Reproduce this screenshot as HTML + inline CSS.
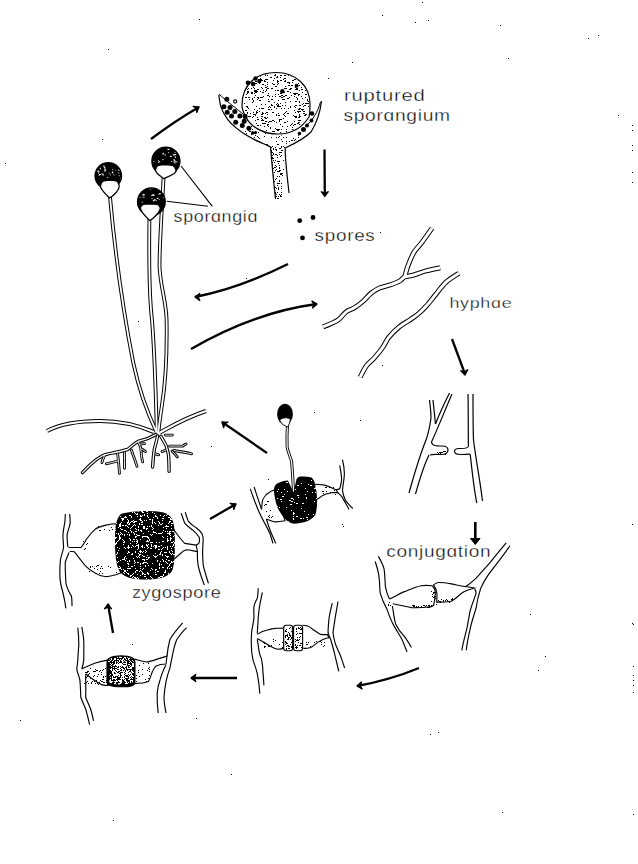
<!DOCTYPE html>
<html><head><meta charset="utf-8"><style>
html,body{margin:0;padding:0;background:#fff;}
svg{display:block;}
text{font-family:"Liberation Sans", sans-serif;}
</style></head><body>
<svg width="638" height="864" viewBox="0 0 638 864">
<rect width="638" height="864" fill="#fff"/>
<path d="M151,139 Q175,121 199,107" fill="none" stroke="#000" stroke-width="2.3" stroke-linecap="butt"/><path d="M199.0,107.0 L196.7,112.8 L196.3,108.6 L192.8,106.3 Z" fill="#000" stroke="#000" stroke-width="1.2" stroke-linejoin="miter"/>
<path d="M324.5,149.5 L324.8,196" fill="none" stroke="#000" stroke-width="2.3" stroke-linecap="butt"/><path d="M324.8,196.5 L321.0,191.5 L324.8,193.3 L328.5,191.5 Z" fill="#000" stroke="#000" stroke-width="1.2" stroke-linejoin="miter"/>
<path d="M288,264 Q240,288 195,297" fill="none" stroke="#000" stroke-width="2.3" stroke-linecap="butt"/><path d="M195.0,297.0 L200.0,293.2 L198.2,297.0 L200.0,300.8 Z" fill="#000" stroke="#000" stroke-width="1.2" stroke-linejoin="miter"/>
<path d="M191,349 Q255,312 317,304" fill="none" stroke="#000" stroke-width="2.3" stroke-linecap="butt"/><path d="M317.0,304.0 L312.4,308.2 L313.8,304.3 L311.7,300.7 Z" fill="#000" stroke="#000" stroke-width="1.2" stroke-linejoin="miter"/>
<path d="M452,339 L465,374" fill="none" stroke="#000" stroke-width="2.3" stroke-linecap="butt"/><path d="M465.0,375.0 L460.5,370.6 L464.5,371.8 L468.0,369.5 Z" fill="#000" stroke="#000" stroke-width="1.2" stroke-linejoin="miter"/>
<path d="M267,453 L222,422" fill="none" stroke="#000" stroke-width="2.3" stroke-linecap="butt"/><path d="M222.0,422.0 L228.3,422.0 L224.6,423.9 L223.7,428.0 Z" fill="#000" stroke="#000" stroke-width="1.2" stroke-linejoin="miter"/>
<path d="M210,519 L236,504" fill="none" stroke="#000" stroke-width="2.3" stroke-linecap="butt"/><path d="M236.0,504.0 L233.7,509.8 L233.3,505.6 L229.8,503.3 Z" fill="#000" stroke="#000" stroke-width="1.2" stroke-linejoin="miter"/>
<path d="M475.3,522 L475.3,540" stroke="#000" stroke-width="2.6"/><path d="M470.5,538.5 L480,538.5 L475.3,544.5 Z" fill="#000" stroke="#000" stroke-width="1"/>
<path d="M419,668 Q390,680 357,686" fill="none" stroke="#000" stroke-width="2.3" stroke-linecap="butt"/><path d="M357.0,686.0 L361.6,681.7 L360.2,685.7 L362.4,689.3 Z" fill="#000" stroke="#000" stroke-width="1.2" stroke-linejoin="miter"/>
<path d="M237,678 L191,678" fill="none" stroke="#000" stroke-width="2.3" stroke-linecap="butt"/><path d="M191.0,678.0 L196.0,674.2 L194.2,678.0 L196.0,681.8 Z" fill="#000" stroke="#000" stroke-width="1.2" stroke-linejoin="miter"/>
<path d="M113,633 L108,604" fill="none" stroke="#000" stroke-width="2.3" stroke-linecap="butt"/><path d="M108.0,604.0 L111.8,609.0 L108.0,607.2 L104.2,609.0 Z" fill="#000" stroke="#000" stroke-width="1.2" stroke-linejoin="miter"/>
<defs><clipPath id="ballclip"><ellipse cx="276" cy="103.5" rx="33.5" ry="30.5"/></clipPath><clipPath id="stalkclip"><path d="M270.5,146 C272,165 274,185 275.5,199 L288,199 C287,178 285,160 285,147 Z"/></clipPath><clipPath id="cupclip"><path d="M219,94 C222,108 230,121 245,134 C255,140 262,144 271,147 L286,148 C296,143 306,137 310,132 C300,136 290,137 278,135 C262,133 252,127 246,118 C240,112 232,106 219,94 Z"/></clipPath></defs>
<path d="M219,94 C221,108 228,121 244,134 C255,140 262,144 271,147 L286,148 C298,142 310,133 316,122 C319,114 321,106 321,101 C317,112 312,120 306,126 C296,134 288,136 278,135 C262,133 252,127 246,118 C240,112 232,106 219,94 Z" fill="#fff"/>
<path d="M218.8,94.9 C219.2,97.0 219.7,103.4 221.2,107.6 C222.7,111.8 225.6,116.6 228,119.9 C230.4,123.2 232.8,125.1 235.6,127.4 C238.3,129.8 241.3,132.0 244.5,134 C247.7,136.0 251.4,138.0 254.5,139.6 C257.6,141.2 260.3,142.3 263,143.5 C265.7,144.7 269.2,146.4 270.5,147 C272,165 274,185 275.5,199" fill="none" stroke="#000" stroke-width="1.2"/>
<path d="M289,193 C287.5,178 285,160 285.2,148 C296,143 306,137 311,132 C316,124 320,114 321.5,101" fill="none" stroke="#000" stroke-width="1.2"/>
<path d="M320.5,102 C318,112 312,121 305,127" fill="none" stroke="#000" stroke-width="1.0"/>
<path d="M219,94 C226,101 236,108 243,114 C246,117 247,119 248,121" fill="none" stroke="#000" stroke-width="1.0"/>
<g clip-path="url(#stalkclip)"><g fill="#000" shape-rendering="crispEdges"><rect x="273" y="154" width="1" height="1"/><rect x="276" y="150" width="1" height="1"/><rect x="275" y="165" width="1" height="1"/><rect x="271" y="173" width="1" height="1"/><rect x="270" y="169" width="1" height="1"/><rect x="271" y="151" width="1" height="1"/><rect x="274" y="190" width="1" height="1"/><rect x="271" y="158" width="1" height="1"/><rect x="276" y="196" width="1" height="1"/><rect x="275" y="167" width="1" height="1"/><rect x="279" y="148" width="1" height="1"/><rect x="278" y="161" width="1" height="1"/><rect x="271" y="152" width="1" height="1"/><rect x="273" y="189" width="1" height="1"/><rect x="272" y="177" width="1" height="1"/><rect x="276" y="166" width="1" height="1"/><rect x="275" y="149" width="1" height="1"/><rect x="271" y="157" width="1" height="1"/><rect x="276" y="169" width="1" height="1"/><rect x="273" y="177" width="1" height="1"/><rect x="274" y="162" width="1" height="1"/><rect x="277" y="183" width="1" height="1"/><rect x="272" y="176" width="1" height="1"/><rect x="275" y="192" width="1" height="1"/><rect x="277" y="161" width="1" height="1"/><rect x="279" y="152" width="1" height="1"/><rect x="274" y="186" width="1" height="1"/><rect x="271" y="172" width="1" height="1"/><rect x="270" y="181" width="1" height="1"/><rect x="277" y="176" width="1" height="1"/><rect x="278" y="163" width="1" height="1"/><rect x="276" y="178" width="1" height="1"/><rect x="275" y="170" width="1" height="1"/><rect x="278" y="196" width="1" height="1"/><rect x="274" y="181" width="1" height="1"/><rect x="271" y="183" width="1" height="1"/><rect x="276" y="199" width="1" height="1"/><rect x="277" y="161" width="1" height="1"/><rect x="273" y="181" width="1" height="1"/><rect x="270" y="170" width="1" height="1"/><rect x="272" y="152" width="1" height="1"/><rect x="271" y="187" width="1" height="1"/><rect x="271" y="159" width="1" height="1"/><rect x="274" y="192" width="1" height="1"/><rect x="271" y="170" width="1" height="1"/><rect x="275" y="193" width="1" height="1"/><rect x="277" y="192" width="1" height="1"/><rect x="273" y="168" width="1" height="1"/><rect x="273" y="193" width="1" height="1"/><rect x="279" y="154" width="1" height="1"/><rect x="272" y="158" width="1" height="1"/><rect x="272" y="172" width="1" height="1"/><rect x="275" y="160" width="1" height="1"/><rect x="270" y="168" width="1" height="1"/><rect x="273" y="176" width="1" height="1"/><rect x="279" y="183" width="1" height="1"/><rect x="275" y="179" width="1" height="1"/><rect x="276" y="149" width="1" height="1"/><rect x="278" y="187" width="1" height="1"/><rect x="278" y="188" width="1" height="1"/><rect x="274" y="167" width="1" height="1"/><rect x="271" y="180" width="1" height="1"/><rect x="271" y="150" width="1" height="1"/><rect x="272" y="155" width="1" height="1"/><rect x="273" y="149" width="1" height="1"/><rect x="270" y="154" width="1" height="1"/><rect x="271" y="165" width="1" height="1"/><rect x="270" y="192" width="1" height="1"/><rect x="276" y="154" width="1" height="1"/><rect x="272" y="164" width="1" height="1"/><rect x="273" y="153" width="1" height="1"/><rect x="278" y="199" width="1" height="1"/><rect x="274" y="172" width="1" height="1"/><rect x="271" y="151" width="1" height="1"/><rect x="273" y="160" width="1" height="1"/><rect x="277" y="155" width="1" height="1"/><rect x="270" y="196" width="1" height="1"/><rect x="275" y="154" width="1" height="1"/><rect x="275" y="147" width="1" height="1"/><rect x="275" y="198" width="1" height="1"/><rect x="278" y="183" width="1" height="1"/><rect x="272" y="165" width="1" height="1"/><rect x="272" y="187" width="1" height="1"/><rect x="275" y="187" width="1" height="1"/><rect x="273" y="158" width="1" height="1"/><rect x="277" y="198" width="1" height="1"/><rect x="278" y="189" width="1" height="1"/><rect x="277" y="185" width="1" height="1"/><rect x="272" y="173" width="1" height="1"/><rect x="273" y="148" width="1" height="1"/><rect x="270" y="161" width="1" height="1"/><rect x="272" y="183" width="1" height="1"/><rect x="279" y="170" width="1" height="1"/><rect x="278" y="198" width="1" height="1"/><rect x="279" y="165" width="1" height="1"/><rect x="272" y="158" width="1" height="1"/><rect x="272" y="157" width="1" height="1"/><rect x="276" y="194" width="1" height="1"/><rect x="278" y="171" width="1" height="1"/><rect x="276" y="188" width="1" height="1"/><rect x="271" y="181" width="1" height="1"/><rect x="278" y="187" width="1" height="1"/><rect x="277" y="171" width="1" height="1"/><rect x="272" y="188" width="1" height="1"/><rect x="273" y="188" width="1" height="1"/><rect x="279" y="167" width="1" height="1"/><rect x="274" y="196" width="1" height="1"/><rect x="277" y="155" width="1" height="1"/><rect x="271" y="154" width="1" height="1"/><rect x="278" y="189" width="1" height="1"/><rect x="271" y="190" width="1" height="1"/><rect x="279" y="181" width="1" height="1"/><rect x="273" y="175" width="1" height="1"/><rect x="271" y="147" width="1" height="1"/><rect x="279" y="180" width="1" height="1"/><rect x="275" y="195" width="1" height="1"/><rect x="274" y="192" width="1" height="1"/><rect x="277" y="157" width="1" height="1"/><rect x="272" y="162" width="1" height="1"/><rect x="272" y="177" width="1" height="1"/></g><g fill="#000" shape-rendering="crispEdges"><rect x="279" y="168" width="1" height="1"/><rect x="279" y="194" width="1" height="1"/><rect x="280" y="170" width="1" height="1"/><rect x="281" y="194" width="1" height="1"/><rect x="280" y="195" width="1" height="1"/><rect x="281" y="174" width="1" height="1"/><rect x="281" y="147" width="1" height="1"/><rect x="280" y="156" width="1" height="1"/><rect x="278" y="188" width="1" height="1"/><rect x="279" y="171" width="1" height="1"/><rect x="282" y="175" width="1" height="1"/><rect x="280" y="173" width="1" height="1"/><rect x="281" y="188" width="1" height="1"/><rect x="279" y="176" width="1" height="1"/><rect x="279" y="161" width="1" height="1"/><rect x="282" y="173" width="1" height="1"/><rect x="281" y="186" width="1" height="1"/><rect x="283" y="169" width="1" height="1"/><rect x="281" y="173" width="1" height="1"/><rect x="281" y="183" width="1" height="1"/><rect x="280" y="174" width="1" height="1"/><rect x="280" y="196" width="1" height="1"/><rect x="281" y="192" width="1" height="1"/><rect x="283" y="160" width="1" height="1"/><rect x="281" y="196" width="1" height="1"/></g><g fill="#000" shape-rendering="crispEdges"><rect x="285" y="147" width="1" height="1"/><rect x="281" y="150" width="1" height="1"/><rect x="280" y="148" width="1" height="1"/><rect x="280" y="152" width="1" height="1"/><rect x="285" y="154" width="1" height="1"/><rect x="281" y="152" width="1" height="1"/><rect x="284" y="147" width="1" height="1"/><rect x="285" y="155" width="1" height="1"/><rect x="281" y="155" width="1" height="1"/><rect x="282" y="150" width="1" height="1"/></g></g>
<g clip-path="url(#cupclip)"><g fill="#000" shape-rendering="crispEdges"><rect x="309" y="144" width="1" height="1"/><rect x="255" y="135" width="1" height="1"/><rect x="279" y="133" width="1" height="1"/><rect x="258" y="132" width="1" height="1"/><rect x="292" y="125" width="1" height="1"/><rect x="281" y="135" width="1" height="1"/><rect x="246" y="133" width="1" height="1"/><rect x="286" y="137" width="1" height="1"/><rect x="249" y="148" width="1" height="1"/><rect x="296" y="147" width="1" height="1"/><rect x="252" y="131" width="1" height="1"/><rect x="248" y="143" width="1" height="1"/><rect x="263" y="128" width="1" height="1"/><rect x="272" y="146" width="1" height="1"/><rect x="298" y="131" width="1" height="1"/><rect x="255" y="146" width="1" height="1"/><rect x="282" y="141" width="1" height="1"/><rect x="251" y="126" width="1" height="1"/><rect x="290" y="135" width="1" height="1"/><rect x="250" y="147" width="1" height="1"/><rect x="286" y="143" width="1" height="1"/><rect x="250" y="145" width="1" height="1"/><rect x="249" y="145" width="1" height="1"/><rect x="274" y="133" width="1" height="1"/><rect x="281" y="146" width="1" height="1"/><rect x="262" y="128" width="1" height="1"/><rect x="279" y="130" width="1" height="1"/><rect x="252" y="129" width="1" height="1"/><rect x="248" y="130" width="1" height="1"/><rect x="265" y="132" width="1" height="1"/><rect x="294" y="132" width="1" height="1"/><rect x="278" y="129" width="1" height="1"/><rect x="268" y="125" width="1" height="1"/><rect x="261" y="125" width="1" height="1"/><rect x="293" y="138" width="1" height="1"/><rect x="257" y="136" width="1" height="1"/><rect x="306" y="127" width="1" height="1"/><rect x="298" y="135" width="1" height="1"/><rect x="277" y="144" width="1" height="1"/><rect x="271" y="137" width="1" height="1"/><rect x="290" y="148" width="1" height="1"/><rect x="267" y="144" width="1" height="1"/><rect x="291" y="140" width="1" height="1"/><rect x="271" y="133" width="1" height="1"/><rect x="249" y="128" width="1" height="1"/><rect x="250" y="142" width="1" height="1"/><rect x="262" y="129" width="1" height="1"/><rect x="250" y="144" width="1" height="1"/><rect x="302" y="140" width="1" height="1"/><rect x="263" y="131" width="1" height="1"/><rect x="264" y="136" width="1" height="1"/><rect x="255" y="135" width="1" height="1"/><rect x="262" y="147" width="1" height="1"/><rect x="308" y="138" width="1" height="1"/><rect x="261" y="147" width="1" height="1"/><rect x="265" y="133" width="1" height="1"/><rect x="245" y="134" width="1" height="1"/><rect x="276" y="137" width="1" height="1"/><rect x="258" y="137" width="1" height="1"/><rect x="245" y="131" width="1" height="1"/><rect x="251" y="134" width="1" height="1"/><rect x="248" y="126" width="1" height="1"/><rect x="265" y="130" width="1" height="1"/><rect x="283" y="137" width="1" height="1"/><rect x="294" y="140" width="1" height="1"/><rect x="292" y="145" width="1" height="1"/><rect x="270" y="133" width="1" height="1"/><rect x="309" y="128" width="1" height="1"/><rect x="292" y="140" width="1" height="1"/><rect x="248" y="144" width="1" height="1"/><rect x="303" y="139" width="1" height="1"/><rect x="293" y="144" width="1" height="1"/><rect x="254" y="137" width="1" height="1"/><rect x="278" y="144" width="1" height="1"/><rect x="297" y="144" width="1" height="1"/><rect x="283" y="146" width="1" height="1"/><rect x="289" y="141" width="1" height="1"/><rect x="260" y="126" width="1" height="1"/><rect x="254" y="133" width="1" height="1"/><rect x="252" y="144" width="1" height="1"/><rect x="281" y="139" width="1" height="1"/><rect x="286" y="141" width="1" height="1"/><rect x="277" y="125" width="1" height="1"/><rect x="297" y="142" width="1" height="1"/><rect x="278" y="137" width="1" height="1"/><rect x="288" y="127" width="1" height="1"/><rect x="293" y="131" width="1" height="1"/><rect x="250" y="131" width="1" height="1"/><rect x="292" y="130" width="1" height="1"/><rect x="293" y="147" width="1" height="1"/><rect x="277" y="134" width="1" height="1"/><rect x="276" y="141" width="1" height="1"/><rect x="295" y="139" width="1" height="1"/><rect x="287" y="127" width="1" height="1"/><rect x="255" y="131" width="1" height="1"/><rect x="293" y="132" width="1" height="1"/><rect x="282" y="125" width="1" height="1"/><rect x="249" y="131" width="1" height="1"/><rect x="289" y="141" width="1" height="1"/><rect x="289" y="132" width="1" height="1"/><rect x="279" y="136" width="1" height="1"/><rect x="275" y="128" width="1" height="1"/><rect x="303" y="130" width="1" height="1"/><rect x="309" y="147" width="1" height="1"/><rect x="246" y="136" width="1" height="1"/><rect x="298" y="147" width="1" height="1"/><rect x="274" y="131" width="1" height="1"/><rect x="259" y="147" width="1" height="1"/><rect x="259" y="138" width="1" height="1"/><rect x="254" y="137" width="1" height="1"/><rect x="307" y="128" width="1" height="1"/><rect x="298" y="137" width="1" height="1"/><rect x="303" y="141" width="1" height="1"/><rect x="260" y="146" width="1" height="1"/><rect x="277" y="126" width="1" height="1"/><rect x="245" y="136" width="1" height="1"/><rect x="274" y="132" width="1" height="1"/><rect x="254" y="133" width="1" height="1"/><rect x="266" y="144" width="1" height="1"/><rect x="245" y="142" width="1" height="1"/></g></g>
<path d="M242,105 C242,85 256,72.5 276,72.5 C296,72.5 310,86 310,104 C310,112 309.5,115 309,117 C302,128 292,134 278,134 C262,134 250,126 246,117 C243,112 242,108 242,105 Z" fill="#fff" stroke="#000" stroke-width="1.2"/>
<g clip-path="url(#ballclip)"><g fill="#000" shape-rendering="crispEdges"><rect x="305" y="85" width="2" height="1"/><rect x="263" y="96" width="1" height="1"/><rect x="309" y="109" width="2" height="1"/><rect x="293" y="125" width="1" height="1"/><rect x="247" y="113" width="1" height="1"/><rect x="307" y="100" width="1" height="1"/><rect x="294" y="121" width="1" height="1"/><rect x="297" y="111" width="2" height="1"/><rect x="249" y="130" width="1" height="1"/><rect x="284" y="81" width="2" height="1"/><rect x="247" y="130" width="1" height="1"/><rect x="275" y="94" width="1" height="1"/><rect x="292" y="133" width="1" height="1"/><rect x="287" y="91" width="1" height="1"/><rect x="255" y="83" width="2" height="1"/><rect x="303" y="103" width="1" height="1"/><rect x="303" y="134" width="1" height="1"/><rect x="253" y="85" width="2" height="1"/><rect x="266" y="79" width="1" height="1"/><rect x="261" y="108" width="1" height="1"/><rect x="301" y="96" width="1" height="1"/><rect x="262" y="119" width="1" height="1"/><rect x="281" y="95" width="2" height="1"/><rect x="262" y="88" width="1" height="1"/><rect x="273" y="131" width="2" height="1"/><rect x="246" y="116" width="1" height="1"/><rect x="276" y="77" width="2" height="1"/><rect x="260" y="80" width="2" height="1"/><rect x="278" y="115" width="1" height="1"/><rect x="280" y="75" width="2" height="1"/><rect x="281" y="75" width="1" height="1"/><rect x="285" y="105" width="1" height="1"/><rect x="294" y="79" width="2" height="1"/><rect x="305" y="85" width="1" height="1"/><rect x="295" y="73" width="1" height="1"/><rect x="262" y="92" width="1" height="1"/><rect x="278" y="106" width="1" height="1"/><rect x="290" y="92" width="1" height="1"/><rect x="276" y="114" width="1" height="1"/><rect x="261" y="114" width="2" height="1"/><rect x="276" y="115" width="1" height="1"/><rect x="288" y="85" width="2" height="1"/><rect x="299" y="77" width="1" height="1"/><rect x="264" y="123" width="2" height="1"/><rect x="258" y="119" width="1" height="1"/><rect x="306" y="103" width="1" height="1"/><rect x="276" y="129" width="1" height="1"/><rect x="254" y="97" width="1" height="1"/><rect x="307" y="82" width="1" height="1"/><rect x="248" y="97" width="1" height="1"/><rect x="251" y="78" width="1" height="1"/><rect x="256" y="113" width="1" height="1"/><rect x="264" y="117" width="2" height="1"/><rect x="273" y="80" width="1" height="1"/><rect x="249" y="99" width="1" height="1"/><rect x="307" y="86" width="1" height="1"/><rect x="297" y="99" width="1" height="1"/><rect x="275" y="96" width="1" height="1"/><rect x="265" y="118" width="2" height="1"/><rect x="285" y="88" width="2" height="1"/><rect x="268" y="101" width="2" height="1"/><rect x="257" y="77" width="1" height="1"/><rect x="262" y="131" width="1" height="1"/><rect x="293" y="115" width="1" height="1"/><rect x="244" y="119" width="1" height="1"/><rect x="298" y="80" width="1" height="1"/><rect x="295" y="129" width="2" height="1"/><rect x="304" y="84" width="2" height="1"/><rect x="294" y="110" width="1" height="1"/><rect x="274" y="121" width="1" height="1"/><rect x="257" y="119" width="1" height="1"/><rect x="248" y="75" width="1" height="1"/><rect x="308" y="127" width="1" height="1"/><rect x="285" y="86" width="1" height="1"/><rect x="308" y="132" width="2" height="1"/><rect x="253" y="101" width="1" height="1"/><rect x="279" y="120" width="1" height="1"/><rect x="263" y="108" width="1" height="1"/><rect x="292" y="85" width="1" height="1"/><rect x="260" y="82" width="1" height="1"/><rect x="248" y="88" width="1" height="1"/><rect x="278" y="113" width="1" height="1"/><rect x="274" y="75" width="1" height="1"/><rect x="301" y="87" width="1" height="1"/><rect x="247" y="91" width="2" height="1"/><rect x="256" y="132" width="1" height="1"/><rect x="268" y="126" width="1" height="1"/><rect x="261" y="120" width="2" height="1"/><rect x="285" y="116" width="1" height="1"/><rect x="246" y="94" width="1" height="1"/><rect x="309" y="75" width="1" height="1"/><rect x="297" y="98" width="1" height="1"/><rect x="284" y="78" width="1" height="1"/><rect x="280" y="77" width="1" height="1"/><rect x="287" y="82" width="1" height="1"/><rect x="255" y="115" width="1" height="1"/><rect x="287" y="98" width="2" height="1"/><rect x="292" y="127" width="1" height="1"/><rect x="245" y="120" width="2" height="1"/><rect x="257" y="117" width="1" height="1"/><rect x="272" y="83" width="1" height="1"/><rect x="270" y="127" width="1" height="1"/><rect x="252" y="76" width="2" height="1"/><rect x="296" y="97" width="1" height="1"/><rect x="277" y="82" width="1" height="1"/><rect x="278" y="129" width="1" height="1"/><rect x="276" y="122" width="1" height="1"/><rect x="252" y="131" width="1" height="1"/><rect x="247" y="129" width="2" height="1"/><rect x="303" y="111" width="2" height="1"/><rect x="295" y="87" width="1" height="1"/><rect x="299" y="124" width="2" height="1"/><rect x="258" y="97" width="1" height="1"/><rect x="267" y="82" width="1" height="1"/><rect x="301" y="124" width="1" height="1"/><rect x="298" y="80" width="1" height="1"/><rect x="299" y="120" width="2" height="1"/><rect x="282" y="99" width="2" height="1"/><rect x="277" y="84" width="1" height="1"/><rect x="308" y="101" width="1" height="1"/><rect x="295" y="101" width="2" height="1"/><rect x="270" y="77" width="1" height="1"/><rect x="268" y="122" width="1" height="1"/><rect x="285" y="78" width="1" height="1"/><rect x="277" y="76" width="1" height="1"/><rect x="306" y="81" width="2" height="1"/><rect x="292" y="123" width="1" height="1"/><rect x="308" y="103" width="1" height="1"/><rect x="295" y="130" width="1" height="1"/><rect x="284" y="88" width="1" height="1"/><rect x="262" y="123" width="1" height="1"/><rect x="277" y="129" width="1" height="1"/><rect x="261" y="104" width="1" height="1"/><rect x="246" y="84" width="1" height="1"/><rect x="305" y="114" width="1" height="1"/><rect x="295" y="89" width="2" height="1"/><rect x="300" y="132" width="1" height="1"/><rect x="278" y="115" width="2" height="1"/><rect x="309" y="111" width="1" height="1"/><rect x="296" y="89" width="2" height="1"/><rect x="254" y="93" width="1" height="1"/><rect x="259" y="111" width="1" height="1"/><rect x="297" y="88" width="1" height="1"/><rect x="244" y="75" width="1" height="1"/><rect x="284" y="99" width="1" height="1"/><rect x="253" y="87" width="1" height="1"/><rect x="248" y="108" width="1" height="1"/><rect x="278" y="106" width="1" height="1"/><rect x="264" y="81" width="2" height="1"/><rect x="298" y="83" width="1" height="1"/><rect x="290" y="101" width="1" height="1"/><rect x="253" y="114" width="1" height="1"/><rect x="297" y="132" width="1" height="1"/><rect x="297" y="127" width="1" height="1"/><rect x="305" y="118" width="2" height="1"/><rect x="303" y="76" width="1" height="1"/><rect x="256" y="83" width="1" height="1"/><rect x="284" y="113" width="1" height="1"/><rect x="271" y="105" width="1" height="1"/><rect x="255" y="92" width="2" height="1"/><rect x="247" y="127" width="1" height="1"/><rect x="279" y="96" width="2" height="1"/><rect x="303" y="78" width="2" height="1"/><rect x="259" y="79" width="2" height="1"/><rect x="247" y="93" width="1" height="1"/><rect x="247" y="112" width="1" height="1"/><rect x="295" y="105" width="2" height="1"/><rect x="286" y="132" width="1" height="1"/><rect x="301" y="74" width="1" height="1"/><rect x="299" y="85" width="1" height="1"/><rect x="303" y="85" width="1" height="1"/><rect x="283" y="96" width="2" height="1"/><rect x="299" y="116" width="2" height="1"/><rect x="306" y="87" width="1" height="1"/><rect x="269" y="109" width="1" height="1"/><rect x="246" y="80" width="1" height="1"/><rect x="308" y="116" width="1" height="1"/><rect x="253" y="112" width="1" height="1"/><rect x="248" y="76" width="1" height="1"/><rect x="297" y="123" width="1" height="1"/><rect x="305" y="80" width="1" height="1"/><rect x="251" y="75" width="1" height="1"/><rect x="285" y="102" width="1" height="1"/><rect x="295" y="112" width="1" height="1"/><rect x="266" y="89" width="1" height="1"/><rect x="304" y="76" width="1" height="1"/><rect x="294" y="110" width="1" height="1"/><rect x="284" y="75" width="2" height="1"/><rect x="272" y="120" width="2" height="1"/><rect x="290" y="106" width="1" height="1"/><rect x="300" y="79" width="1" height="1"/><rect x="272" y="105" width="1" height="1"/><rect x="244" y="103" width="1" height="1"/><rect x="296" y="84" width="2" height="1"/><rect x="267" y="124" width="2" height="1"/><rect x="305" y="90" width="1" height="1"/><rect x="259" y="83" width="1" height="1"/><rect x="295" y="116" width="1" height="1"/><rect x="265" y="79" width="1" height="1"/><rect x="250" y="127" width="2" height="1"/><rect x="257" y="89" width="1" height="1"/><rect x="308" y="111" width="1" height="1"/><rect x="279" y="119" width="2" height="1"/><rect x="282" y="105" width="1" height="1"/><rect x="280" y="93" width="2" height="1"/><rect x="289" y="89" width="2" height="1"/><rect x="266" y="112" width="1" height="1"/><rect x="256" y="91" width="1" height="1"/><rect x="254" y="88" width="1" height="1"/><rect x="278" y="83" width="1" height="1"/><rect x="261" y="131" width="1" height="1"/><rect x="307" y="79" width="1" height="1"/><rect x="308" y="121" width="2" height="1"/><rect x="262" y="80" width="1" height="1"/><rect x="257" y="97" width="1" height="1"/><rect x="270" y="121" width="1" height="1"/><rect x="308" y="91" width="1" height="1"/><rect x="261" y="118" width="1" height="1"/><rect x="260" y="125" width="1" height="1"/><rect x="287" y="113" width="2" height="1"/><rect x="256" y="81" width="1" height="1"/><rect x="261" y="116" width="2" height="1"/><rect x="295" y="117" width="2" height="1"/><rect x="299" y="102" width="1" height="1"/><rect x="300" y="105" width="1" height="1"/><rect x="265" y="74" width="1" height="1"/><rect x="246" y="106" width="2" height="1"/><rect x="295" y="130" width="1" height="1"/><rect x="299" y="101" width="1" height="1"/><rect x="275" y="74" width="1" height="1"/><rect x="266" y="118" width="1" height="1"/><rect x="308" y="84" width="2" height="1"/><rect x="308" y="95" width="1" height="1"/><rect x="262" y="97" width="1" height="1"/><rect x="271" y="99" width="1" height="1"/><rect x="261" y="87" width="1" height="1"/><rect x="307" y="134" width="2" height="1"/><rect x="258" y="81" width="2" height="1"/><rect x="257" y="112" width="1" height="1"/><rect x="267" y="112" width="1" height="1"/><rect x="309" y="119" width="2" height="1"/><rect x="267" y="125" width="1" height="1"/><rect x="268" y="88" width="1" height="1"/><rect x="256" y="73" width="2" height="1"/><rect x="260" y="91" width="1" height="1"/><rect x="272" y="112" width="2" height="1"/><rect x="304" y="125" width="1" height="1"/><rect x="298" y="128" width="1" height="1"/><rect x="298" y="112" width="1" height="1"/><rect x="245" y="131" width="1" height="1"/><rect x="284" y="108" width="1" height="1"/><rect x="294" y="94" width="1" height="1"/><rect x="303" y="121" width="1" height="1"/><rect x="302" y="110" width="1" height="1"/><rect x="303" y="106" width="1" height="1"/><rect x="276" y="86" width="1" height="1"/><rect x="299" y="114" width="1" height="1"/><rect x="252" y="99" width="1" height="1"/><rect x="276" y="77" width="1" height="1"/><rect x="290" y="88" width="2" height="1"/><rect x="283" y="118" width="1" height="1"/><rect x="274" y="107" width="1" height="1"/><rect x="268" y="99" width="1" height="1"/><rect x="285" y="112" width="1" height="1"/><rect x="284" y="115" width="1" height="1"/><rect x="277" y="103" width="1" height="1"/><rect x="258" y="98" width="1" height="1"/><rect x="250" y="113" width="1" height="1"/><rect x="295" y="107" width="1" height="1"/><rect x="272" y="99" width="1" height="1"/><rect x="263" y="123" width="1" height="1"/><rect x="277" y="90" width="2" height="1"/><rect x="287" y="121" width="1" height="1"/><rect x="265" y="91" width="1" height="1"/><rect x="270" y="107" width="1" height="1"/><rect x="281" y="97" width="2" height="1"/><rect x="247" y="123" width="1" height="1"/><rect x="294" y="77" width="2" height="1"/><rect x="254" y="114" width="2" height="1"/><rect x="247" y="112" width="1" height="1"/><rect x="287" y="126" width="1" height="1"/><rect x="303" y="113" width="2" height="1"/><rect x="295" y="107" width="1" height="1"/><rect x="256" y="75" width="1" height="1"/><rect x="281" y="108" width="1" height="1"/><rect x="281" y="75" width="1" height="1"/><rect x="281" y="129" width="1" height="1"/><rect x="245" y="97" width="2" height="1"/><rect x="294" y="106" width="1" height="1"/><rect x="275" y="128" width="1" height="1"/><rect x="244" y="115" width="1" height="1"/><rect x="258" y="80" width="1" height="1"/><rect x="262" y="108" width="2" height="1"/><rect x="292" y="129" width="2" height="1"/><rect x="290" y="125" width="1" height="1"/><rect x="285" y="116" width="1" height="1"/><rect x="305" y="88" width="2" height="1"/><rect x="246" y="77" width="1" height="1"/><rect x="264" y="117" width="1" height="1"/><rect x="284" y="92" width="1" height="1"/><rect x="288" y="82" width="2" height="1"/><rect x="306" y="83" width="1" height="1"/><rect x="269" y="121" width="2" height="1"/><rect x="266" y="90" width="1" height="1"/><rect x="291" y="74" width="1" height="1"/><rect x="298" y="109" width="1" height="1"/><rect x="269" y="96" width="1" height="1"/><rect x="262" y="73" width="1" height="1"/><rect x="271" y="109" width="1" height="1"/><rect x="298" y="123" width="1" height="1"/><rect x="307" y="122" width="1" height="1"/><rect x="279" y="106" width="2" height="1"/><rect x="257" y="119" width="2" height="1"/><rect x="283" y="114" width="1" height="1"/><rect x="257" y="89" width="2" height="1"/><rect x="274" y="78" width="1" height="1"/><rect x="259" y="108" width="1" height="1"/><rect x="265" y="104" width="1" height="1"/><rect x="258" y="79" width="1" height="1"/><rect x="282" y="95" width="1" height="1"/><rect x="247" y="134" width="1" height="1"/><rect x="268" y="101" width="1" height="1"/><rect x="265" y="75" width="1" height="1"/><rect x="283" y="79" width="1" height="1"/><rect x="276" y="108" width="1" height="1"/><rect x="272" y="131" width="1" height="1"/><rect x="299" y="94" width="1" height="1"/><rect x="249" y="76" width="1" height="1"/><rect x="274" y="131" width="1" height="1"/><rect x="286" y="129" width="1" height="1"/><rect x="265" y="87" width="1" height="1"/><rect x="277" y="84" width="1" height="1"/><rect x="307" y="133" width="1" height="1"/><rect x="247" y="89" width="1" height="1"/><rect x="303" y="128" width="1" height="1"/><rect x="295" y="116" width="1" height="1"/><rect x="251" y="92" width="2" height="1"/><rect x="288" y="91" width="1" height="1"/><rect x="251" y="93" width="2" height="1"/><rect x="252" y="102" width="1" height="1"/><rect x="259" y="82" width="1" height="1"/><rect x="291" y="85" width="1" height="1"/><rect x="304" y="86" width="1" height="1"/><rect x="253" y="100" width="1" height="1"/><rect x="299" y="111" width="1" height="1"/><rect x="265" y="87" width="2" height="1"/><rect x="268" y="93" width="1" height="1"/><rect x="290" y="107" width="1" height="1"/><rect x="301" y="89" width="1" height="1"/><rect x="254" y="90" width="2" height="1"/><rect x="296" y="89" width="1" height="1"/><rect x="274" y="102" width="1" height="1"/><rect x="248" y="128" width="1" height="1"/><rect x="275" y="90" width="1" height="1"/><rect x="307" y="99" width="1" height="1"/><rect x="304" y="79" width="1" height="1"/><rect x="302" y="77" width="1" height="1"/><rect x="308" y="74" width="1" height="1"/><rect x="253" y="73" width="1" height="1"/><rect x="267" y="75" width="1" height="1"/><rect x="262" y="84" width="2" height="1"/><rect x="294" y="116" width="1" height="1"/><rect x="249" y="78" width="1" height="1"/><rect x="255" y="81" width="2" height="1"/><rect x="264" y="74" width="1" height="1"/><rect x="304" y="105" width="2" height="1"/><rect x="262" y="112" width="1" height="1"/><rect x="245" y="129" width="2" height="1"/><rect x="301" y="89" width="2" height="1"/><rect x="298" y="95" width="1" height="1"/><rect x="268" y="109" width="1" height="1"/><rect x="278" y="100" width="1" height="1"/><rect x="267" y="88" width="1" height="1"/><rect x="300" y="108" width="1" height="1"/><rect x="301" y="131" width="1" height="1"/><rect x="277" y="105" width="2" height="1"/><rect x="260" y="78" width="1" height="1"/><rect x="251" y="88" width="1" height="1"/><rect x="250" y="116" width="1" height="1"/><rect x="245" y="110" width="1" height="1"/><rect x="259" y="100" width="2" height="1"/><rect x="291" y="76" width="1" height="1"/><rect x="276" y="104" width="1" height="1"/><rect x="252" y="98" width="1" height="1"/><rect x="282" y="126" width="1" height="1"/><rect x="281" y="119" width="1" height="1"/><rect x="305" y="97" width="1" height="1"/><rect x="299" y="105" width="2" height="1"/><rect x="294" y="94" width="2" height="1"/><rect x="291" y="124" width="1" height="1"/><rect x="299" y="76" width="1" height="1"/><rect x="305" y="88" width="1" height="1"/><rect x="285" y="95" width="2" height="1"/><rect x="265" y="85" width="1" height="1"/><rect x="253" y="132" width="1" height="1"/><rect x="247" y="133" width="2" height="1"/><rect x="300" y="111" width="1" height="1"/><rect x="279" y="129" width="1" height="1"/><rect x="252" y="74" width="1" height="1"/><rect x="263" y="92" width="1" height="1"/><rect x="248" y="132" width="1" height="1"/><rect x="274" y="106" width="1" height="1"/><rect x="252" y="81" width="1" height="1"/><rect x="282" y="90" width="1" height="1"/><rect x="280" y="124" width="1" height="1"/><rect x="269" y="106" width="1" height="1"/><rect x="302" y="92" width="1" height="1"/><rect x="297" y="75" width="2" height="1"/><rect x="256" y="106" width="1" height="1"/><rect x="304" y="83" width="2" height="1"/><rect x="280" y="103" width="1" height="1"/><rect x="263" y="120" width="1" height="1"/><rect x="248" y="126" width="1" height="1"/><rect x="248" y="97" width="2" height="1"/><rect x="292" y="80" width="2" height="1"/><rect x="292" y="82" width="1" height="1"/><rect x="267" y="114" width="1" height="1"/><rect x="250" y="125" width="1" height="1"/><rect x="295" y="116" width="2" height="1"/><rect x="301" y="73" width="1" height="1"/><rect x="270" y="134" width="1" height="1"/><rect x="299" y="90" width="1" height="1"/><rect x="299" y="115" width="1" height="1"/><rect x="267" y="95" width="1" height="1"/><rect x="265" y="121" width="2" height="1"/><rect x="273" y="84" width="2" height="1"/><rect x="272" y="96" width="1" height="1"/><rect x="297" y="93" width="1" height="1"/><rect x="257" y="99" width="1" height="1"/><rect x="247" y="107" width="1" height="1"/><rect x="304" y="120" width="2" height="1"/><rect x="298" y="117" width="2" height="1"/><rect x="274" y="75" width="2" height="1"/><rect x="306" y="114" width="1" height="1"/><rect x="271" y="104" width="1" height="1"/><rect x="307" y="103" width="1" height="1"/><rect x="302" y="109" width="2" height="1"/><rect x="268" y="95" width="1" height="1"/><rect x="277" y="80" width="1" height="1"/><rect x="266" y="130" width="1" height="1"/><rect x="254" y="91" width="2" height="1"/><rect x="302" y="98" width="1" height="1"/><rect x="281" y="80" width="1" height="1"/><rect x="271" y="121" width="1" height="1"/><rect x="289" y="73" width="1" height="1"/><rect x="299" y="109" width="1" height="1"/><rect x="255" y="120" width="1" height="1"/><rect x="302" y="104" width="1" height="1"/><rect x="257" y="110" width="1" height="1"/><rect x="278" y="104" width="1" height="1"/><rect x="249" y="131" width="1" height="1"/><rect x="284" y="122" width="2" height="1"/><rect x="245" y="120" width="1" height="1"/><rect x="291" y="95" width="1" height="1"/><rect x="261" y="79" width="1" height="1"/><rect x="256" y="111" width="1" height="1"/><rect x="258" y="97" width="1" height="1"/><rect x="248" y="88" width="1" height="1"/><rect x="254" y="109" width="1" height="1"/><rect x="244" y="126" width="1" height="1"/><rect x="271" y="88" width="2" height="1"/><rect x="260" y="97" width="2" height="1"/><rect x="264" y="126" width="1" height="1"/><rect x="296" y="88" width="2" height="1"/><rect x="267" y="84" width="1" height="1"/><rect x="280" y="80" width="1" height="1"/><rect x="270" y="77" width="2" height="1"/><rect x="298" y="94" width="1" height="1"/><rect x="256" y="90" width="1" height="1"/><rect x="246" y="114" width="1" height="1"/><rect x="260" y="81" width="1" height="1"/><rect x="279" y="121" width="1" height="1"/><rect x="298" y="122" width="2" height="1"/><rect x="267" y="117" width="1" height="1"/><rect x="306" y="86" width="2" height="1"/><rect x="257" y="125" width="2" height="1"/><rect x="309" y="109" width="1" height="1"/><rect x="308" y="106" width="2" height="1"/><rect x="277" y="81" width="2" height="1"/><rect x="277" y="106" width="1" height="1"/><rect x="294" y="96" width="1" height="1"/><rect x="245" y="116" width="1" height="1"/><rect x="265" y="113" width="1" height="1"/><rect x="281" y="95" width="1" height="1"/><rect x="248" y="92" width="1" height="1"/><rect x="252" y="117" width="1" height="1"/><rect x="270" y="128" width="1" height="1"/><rect x="255" y="95" width="1" height="1"/><rect x="246" y="116" width="1" height="1"/><rect x="309" y="97" width="2" height="1"/><rect x="263" y="90" width="1" height="1"/><rect x="288" y="98" width="1" height="1"/><rect x="257" y="91" width="1" height="1"/><rect x="247" y="92" width="2" height="1"/><rect x="299" y="108" width="1" height="1"/><rect x="288" y="108" width="1" height="1"/><rect x="298" y="120" width="1" height="1"/><rect x="301" y="109" width="1" height="1"/><rect x="288" y="75" width="1" height="1"/><rect x="295" y="94" width="1" height="1"/><rect x="289" y="97" width="1" height="1"/><rect x="278" y="94" width="1" height="1"/><rect x="304" y="115" width="2" height="1"/><rect x="248" y="116" width="2" height="1"/><rect x="277" y="130" width="2" height="1"/><rect x="294" y="76" width="1" height="1"/><rect x="280" y="132" width="1" height="1"/><rect x="261" y="132" width="1" height="1"/><rect x="267" y="79" width="1" height="1"/><rect x="253" y="116" width="1" height="1"/><rect x="290" y="73" width="2" height="1"/><rect x="305" y="94" width="2" height="1"/><rect x="302" y="82" width="1" height="1"/><rect x="285" y="80" width="1" height="1"/><rect x="288" y="82" width="2" height="1"/><rect x="298" y="80" width="2" height="1"/><rect x="267" y="86" width="1" height="1"/><rect x="264" y="80" width="1" height="1"/><rect x="307" y="83" width="1" height="1"/><rect x="281" y="91" width="2" height="1"/><rect x="245" y="134" width="1" height="1"/><rect x="293" y="93" width="2" height="1"/><rect x="286" y="131" width="1" height="1"/><rect x="295" y="93" width="2" height="1"/><rect x="286" y="111" width="1" height="1"/><rect x="260" y="81" width="1" height="1"/><rect x="294" y="124" width="1" height="1"/><rect x="256" y="112" width="1" height="1"/><rect x="295" y="124" width="1" height="1"/><rect x="256" y="123" width="1" height="1"/><rect x="268" y="107" width="1" height="1"/><rect x="260" y="76" width="1" height="1"/><rect x="305" y="103" width="2" height="1"/><rect x="254" y="91" width="2" height="1"/><rect x="289" y="83" width="1" height="1"/><rect x="307" y="78" width="2" height="1"/><rect x="275" y="86" width="1" height="1"/><rect x="246" y="110" width="1" height="1"/><rect x="262" y="113" width="2" height="1"/><rect x="248" y="74" width="2" height="1"/></g></g>
<g fill="#000"><circle cx="247.9" cy="82.7" r="2.3"/><circle cx="253.1" cy="84.1" r="2.3"/><circle cx="255.5" cy="78.5" r="2.2"/><circle cx="259.2" cy="81.3" r="2.0"/><circle cx="226.8" cy="99.2" r="2.5"/><circle cx="223.9" cy="106.7" r="2.5"/><circle cx="230" cy="107.6" r="2.5"/><circle cx="234.8" cy="111.4" r="2.5"/><circle cx="227.2" cy="112.3" r="2.5"/><circle cx="231.5" cy="116.1" r="2.5"/><circle cx="239.9" cy="116.1" r="2.5"/><circle cx="245.1" cy="116.6" r="2.5"/><circle cx="235.7" cy="122.2" r="2.5"/><circle cx="242.3" cy="125.5" r="2.5"/><circle cx="244.2" cy="121.3" r="2.5"/><circle cx="248.9" cy="128.3" r="2.5"/><circle cx="252.6" cy="133" r="1.7"/><circle cx="255.5" cy="132.6" r="1.6"/><circle cx="282.3" cy="91.2" r="2.2"/><circle cx="296.6" cy="85.7" r="2.0"/><circle cx="312" cy="113.5" r="2.2"/><circle cx="311.5" cy="120.5" r="2.0"/><circle cx="307" cy="125.5" r="2.0"/><circle cx="303.5" cy="129.5" r="2.5"/><circle cx="299.5" cy="133.5" r="1.8"/></g>
<circle cx="235.2" cy="101.5" r="1.6" fill="#fff" stroke="#000" stroke-width="1.1"/>
<path d="M110,197 C113,230 119,290 133.4,363.4 C138,385 147,412 156.5,432" fill="none" stroke="#000" stroke-width="3.8" stroke-linecap="butt"/>
<path d="M149.4,219 C149,250 148.5,290 152,320 C154,345 155.5,380 156.8,432" fill="none" stroke="#000" stroke-width="3.8" stroke-linecap="butt"/>
<path d="M163.5,178 C162,210 159,250 159.6,268 C161,290 166,300 166.6,320 C167,345 166,380 162,405 C160,418 159,425 158.5,432" fill="none" stroke="#000" stroke-width="3.8" stroke-linecap="butt"/>
<path d="M47,431 C60,424 80,421 100,421 C120,421 140,426 154,432" fill="none" stroke="#000" stroke-width="4.2" stroke-linecap="butt"/>
<path d="M160,432.5 C172,426 185,418 206,411" fill="none" stroke="#000" stroke-width="4.2" stroke-linecap="butt"/>
<path d="M156,434.5 C150,438 145,440 138,441.5 C133,444 130,448 127.6,449.5 C122,451 118,452 115,452.5 C110,453.5 106,454 103,455.5 C98,458 94,461 90,465 C87,468 85,470 82.5,472.6" fill="none" stroke="#000" stroke-width="3.4" stroke-linecap="round"/>
<path d="M138.5,442 C140.5,446 141.5,452 141.5,456 C142,459 142.5,461 142.7,462" fill="none" stroke="#000" stroke-width="2.8" stroke-linecap="round"/>
<path d="M131.4,450 C133,455 135,460 137,466.4" fill="none" stroke="#000" stroke-width="2.8" stroke-linecap="round"/>
<path d="M124.5,452.6 C124.5,458 124.5,463 124.5,468.3" fill="none" stroke="#000" stroke-width="2.8" stroke-linecap="round"/>
<path d="M117.6,453.8 C118.5,460 119,467 119.5,473.3" fill="none" stroke="#000" stroke-width="2.8" stroke-linecap="round"/>
<path d="M118,461 C114,462 110,463 106.3,463.9" fill="none" stroke="#000" stroke-width="2.8" stroke-linecap="round"/>
<path d="M104.5,455.5 C103.5,458 102.5,460 101.9,462.6" fill="none" stroke="#000" stroke-width="2.8" stroke-linecap="round"/>
<path d="M140,444 C142,444 143,443.8 144.5,443.6" fill="none" stroke="#000" stroke-width="2.8" stroke-linecap="round"/>
<path d="M141.5,449 C143,450 144.5,451 145.5,451.5" fill="none" stroke="#000" stroke-width="2.8" stroke-linecap="round"/>
<path d="M157.6,436 C156.5,441 155.5,445 154.3,449.4 C153.5,455 153,461 152.6,467" fill="none" stroke="#000" stroke-width="3.4" stroke-linecap="round"/>
<path d="M155.4,453.8 L158.7,454.9" fill="none" stroke="#000" stroke-width="2.8" stroke-linecap="round"/>
<path d="M160.8,436.2 C163,440 165,443 166.3,446.1 C167,449 168,452 168.5,454.9 C169,460 169,466 169.1,471.3" fill="none" stroke="#000" stroke-width="3.4" stroke-linecap="round"/>
<path d="M166,450 L162,451.6" fill="none" stroke="#000" stroke-width="2.8" stroke-linecap="round"/>
<path d="M169.6,446.1 C174,446 178,446 182.8,446.1 C184,445 185,444.5 186.1,443.9" fill="none" stroke="#000" stroke-width="2.8" stroke-linecap="round"/>
<path d="M174,450.5 C180,451.5 186,452.5 191.6,453.8" fill="none" stroke="#000" stroke-width="2.8" stroke-linecap="round"/>
<path d="M165.2,435.1 L172.4,435.1" fill="none" stroke="#000" stroke-width="2.8" stroke-linecap="round"/>
<path d="M172,451 C174,453 176,455 177.3,457" fill="none" stroke="#000" stroke-width="2.8" stroke-linecap="round"/>
<path d="M110,197 C113,230 119,290 133.4,363.4 C138,385 147,412 156.5,432" fill="none" stroke="#fff" stroke-width="1.8" stroke-linecap="butt"/>
<path d="M149.4,219 C149,250 148.5,290 152,320 C154,345 155.5,380 156.8,432" fill="none" stroke="#fff" stroke-width="1.8" stroke-linecap="butt"/>
<path d="M163.5,178 C162,210 159,250 159.6,268 C161,290 166,300 166.6,320 C167,345 166,380 162,405 C160,418 159,425 158.5,432" fill="none" stroke="#fff" stroke-width="1.8" stroke-linecap="butt"/>
<path d="M47,431 C60,424 80,421 100,421 C120,421 140,426 154,432" fill="none" stroke="#fff" stroke-width="2.2" stroke-linecap="butt"/>
<path d="M160,432.5 C172,426 185,418 206,411" fill="none" stroke="#fff" stroke-width="2.2" stroke-linecap="butt"/>
<path d="M156,434.5 C150,438 145,440 138,441.5 C133,444 130,448 127.6,449.5 C122,451 118,452 115,452.5 C110,453.5 106,454 103,455.5 C98,458 94,461 90,465 C87,468 85,470 82.5,472.6" fill="none" stroke="#fff" stroke-width="1.3" stroke-linecap="round"/>
<path d="M138.5,442 C140.5,446 141.5,452 141.5,456 C142,459 142.5,461 142.7,462" fill="none" stroke="#fff" stroke-width="0.9" stroke-linecap="round"/>
<path d="M131.4,450 C133,455 135,460 137,466.4" fill="none" stroke="#fff" stroke-width="0.9" stroke-linecap="round"/>
<path d="M124.5,452.6 C124.5,458 124.5,463 124.5,468.3" fill="none" stroke="#fff" stroke-width="0.9" stroke-linecap="round"/>
<path d="M117.6,453.8 C118.5,460 119,467 119.5,473.3" fill="none" stroke="#fff" stroke-width="0.9" stroke-linecap="round"/>
<path d="M118,461 C114,462 110,463 106.3,463.9" fill="none" stroke="#fff" stroke-width="0.9" stroke-linecap="round"/>
<path d="M104.5,455.5 C103.5,458 102.5,460 101.9,462.6" fill="none" stroke="#fff" stroke-width="0.9" stroke-linecap="round"/>
<path d="M140,444 C142,444 143,443.8 144.5,443.6" fill="none" stroke="#fff" stroke-width="0.9" stroke-linecap="round"/>
<path d="M141.5,449 C143,450 144.5,451 145.5,451.5" fill="none" stroke="#fff" stroke-width="0.9" stroke-linecap="round"/>
<path d="M157.6,436 C156.5,441 155.5,445 154.3,449.4 C153.5,455 153,461 152.6,467" fill="none" stroke="#fff" stroke-width="1.3" stroke-linecap="round"/>
<path d="M155.4,453.8 L158.7,454.9" fill="none" stroke="#fff" stroke-width="0.9" stroke-linecap="round"/>
<path d="M160.8,436.2 C163,440 165,443 166.3,446.1 C167,449 168,452 168.5,454.9 C169,460 169,466 169.1,471.3" fill="none" stroke="#fff" stroke-width="1.3" stroke-linecap="round"/>
<path d="M166,450 L162,451.6" fill="none" stroke="#fff" stroke-width="0.9" stroke-linecap="round"/>
<path d="M169.6,446.1 C174,446 178,446 182.8,446.1 C184,445 185,444.5 186.1,443.9" fill="none" stroke="#fff" stroke-width="0.9" stroke-linecap="round"/>
<path d="M174,450.5 C180,451.5 186,452.5 191.6,453.8" fill="none" stroke="#fff" stroke-width="0.9" stroke-linecap="round"/>
<path d="M165.2,435.1 L172.4,435.1" fill="none" stroke="#fff" stroke-width="0.9" stroke-linecap="round"/>
<path d="M172,451 C174,453 176,455 177.3,457" fill="none" stroke="#fff" stroke-width="0.9" stroke-linecap="round"/>
<defs><clipPath id="spA"><circle cx="108.3" cy="175.8" r="12.4"/></clipPath></defs><circle cx="108.3" cy="175.8" r="13.9" fill="#000"/><path d="M100.5,185.5 C102.0,179.5 105.45,180.5 110.4,180.5 C114.80000000000001,180.5 117.7,179.5 119.2,185.5 C119.7,189.5 113.6,196 109.6,198 C106.6,195 100.0,189.5 100.5,185.5 Z" fill="#fff" stroke="#000" stroke-width="1.2"/><g fill="#fff" clip-path="url(#spA)"><rect x="113.4" y="174.4" width="1.0" height="1.0"/><rect x="101.5" y="172.9" width="1.0" height="1.0"/><rect x="118.1" y="169.5" width="2.0" height="1.2"/><rect x="100.1" y="168.1" width="0.8" height="1.2"/><rect x="103.9" y="167.1" width="1.5" height="1.2"/><rect x="97.3" y="170.5" width="2.0" height="1.2"/><rect x="104.2" y="170.3" width="1.5" height="1.2"/><rect x="109.9" y="174.4" width="1.0" height="0.8"/><rect x="104.7" y="168.3" width="0.8" height="0.8"/><rect x="104.2" y="169.3" width="2.0" height="1.0"/><rect x="99.1" y="174.0" width="2.0" height="1.0"/><rect x="115.4" y="169.9" width="0.8" height="0.8"/><rect x="112.4" y="171.0" width="0.8" height="0.8"/><rect x="102.1" y="174.6" width="2.0" height="0.8"/><rect x="102.7" y="173.8" width="0.8" height="1.2"/><rect x="98.7" y="175.0" width="0.8" height="1.0"/><rect x="103.5" y="165.7" width="1.0" height="1.2"/><rect x="98.3" y="172.5" width="0.8" height="1.2"/><rect x="118.9" y="175.2" width="0.8" height="1.0"/><rect x="112.1" y="168.9" width="1.0" height="0.8"/><rect x="98.1" y="171.6" width="1.0" height="1.0"/><rect x="108.8" y="172.8" width="1.0" height="0.8"/><rect x="107.2" y="176.9" width="1.0" height="1.0"/><rect x="99.8" y="167.7" width="0.8" height="1.2"/><rect x="111.8" y="172.1" width="1.5" height="1.2"/><rect x="103.5" y="165.5" width="0.8" height="0.8"/><rect x="118.4" y="172.4" width="0.8" height="1.2"/><rect x="120.0" y="178.3" width="1.0" height="1.0"/></g>
<defs><clipPath id="spB"><circle cx="165.9" cy="161.1" r="13.2"/></clipPath></defs><circle cx="165.9" cy="161.1" r="14.7" fill="#000"/><path d="M155.5,169.5 C157.0,164 160.2,165 164.9,165 C170.45,165 174.5,164 176,170.5 C176.5,174.5 167.5,176.6 163.5,178.6 C160.5,175.6 155.0,173.5 155.5,169.5 Z" fill="#fff" stroke="#000" stroke-width="1.2"/><g fill="#fff" clip-path="url(#spB)"><rect x="178.9" y="162.9" width="2.0" height="0.8"/><rect x="168.3" y="152.2" width="0.8" height="1.0"/><rect x="172.8" y="154.3" width="1.5" height="1.0"/><rect x="173.6" y="161.8" width="1.0" height="1.0"/><rect x="153.5" y="161.0" width="0.8" height="0.8"/><rect x="162.3" y="153.6" width="2.0" height="0.8"/><rect x="162.8" y="152.8" width="1.0" height="1.2"/><rect x="158.0" y="160.3" width="1.0" height="1.0"/><rect x="173.9" y="154.8" width="0.8" height="0.8"/><rect x="176.0" y="161.5" width="1.5" height="0.8"/><rect x="174.8" y="162.3" width="0.8" height="1.2"/><rect x="159.1" y="161.1" width="1.0" height="1.2"/><rect x="167.5" y="148.8" width="2.0" height="1.2"/><rect x="162.2" y="159.3" width="1.5" height="0.8"/><rect x="174.8" y="151.9" width="0.8" height="1.0"/><rect x="173.4" y="159.3" width="1.5" height="1.2"/><rect x="169.9" y="155.9" width="2.0" height="1.0"/><rect x="157.9" y="162.0" width="1.0" height="0.8"/><rect x="171.0" y="161.0" width="1.0" height="0.8"/><rect x="174.2" y="154.1" width="2.0" height="1.0"/><rect x="175.1" y="156.8" width="1.0" height="1.0"/><rect x="164.6" y="154.6" width="1.5" height="0.8"/><rect x="174.8" y="156.3" width="0.8" height="1.2"/><rect x="173.8" y="160.5" width="2.0" height="1.2"/></g>
<defs><clipPath id="spC"><circle cx="151.4" cy="201.8" r="13.0"/></clipPath></defs><circle cx="151.4" cy="201.8" r="14.5" fill="#000"/><path d="M140.5,207.5 C142.0,203.2 145.1,204.2 149.7,204.2 C154.95,204.2 158.7,203.2 160.2,207.5 C160.7,211.5 153.7,218.5 149.7,220.5 C146.7,217.5 140.0,211.5 140.5,207.5 Z" fill="#fff" stroke="#000" stroke-width="1.2"/><g fill="#fff" clip-path="url(#spC)"><rect x="153.7" y="199.3" width="2.0" height="1.0"/><rect x="156.9" y="197.7" width="1.5" height="1.2"/><rect x="158.3" y="193.9" width="1.0" height="0.8"/><rect x="150.1" y="189.1" width="0.8" height="0.8"/><rect x="141.6" y="196.7" width="0.8" height="0.8"/><rect x="152.8" y="200.2" width="2.0" height="1.0"/><rect x="142.4" y="194.4" width="1.0" height="0.8"/><rect x="159.0" y="193.0" width="0.8" height="1.2"/><rect x="142.7" y="194.3" width="2.0" height="1.0"/><rect x="162.7" y="197.3" width="0.8" height="1.0"/><rect x="139.5" y="196.7" width="0.8" height="1.0"/><rect x="143.0" y="194.5" width="1.5" height="0.8"/><rect x="143.1" y="196.7" width="1.5" height="0.8"/><rect x="151.0" y="195.2" width="2.0" height="0.8"/><rect x="152.6" y="194.6" width="2.0" height="1.2"/><rect x="155.8" y="200.1" width="0.8" height="1.2"/><rect x="152.6" y="194.0" width="1.0" height="1.0"/><rect x="151.6" y="197.9" width="0.8" height="1.2"/><rect x="141.7" y="201.7" width="1.0" height="1.0"/><rect x="158.7" y="198.9" width="1.0" height="0.8"/><rect x="159.7" y="193.0" width="1.0" height="1.2"/></g>
<path d="M181,166 L212.3,206.3 M166.8,201.3 L208,206.3" fill="none" stroke="#000" stroke-width="1.1"/>
<path d="M323.1,326.9 C324.3,326.4 327.6,325.1 330.2,323.9 C332.8,322.7 335.7,321.9 338.4,319.8 C341.1,317.8 343.8,313.6 346.5,311.6 C349.2,309.6 352.0,309.3 354.7,307.6 C357.4,305.9 360.1,303.9 362.8,301.5 C365.5,299.1 368.3,295.5 371,293.3 C373.7,291.1 376.1,289.6 379.1,288.2 C382.2,286.8 385.9,286.4 389.3,285.2 C392.7,284.0 396.9,282.5 399.5,281.1 C402.1,279.7 402.2,278.0 404.6,277 C407.0,276.0 410.2,276.0 413.8,275 C417.4,274.0 421.6,272.1 426,270.9 C430.4,269.7 437.8,268.3 440.2,267.8" fill="none" stroke="#000" stroke-width="5.0"/>
<path d="M404.6,277.5 C405.1,275.7 406.1,270.9 407.6,266.8 C409.1,262.7 411.4,256.7 413.8,252.6 C416.2,248.5 418.8,246.5 421.9,242.4 C424.9,238.3 430.4,230.5 432.1,228.1" fill="none" stroke="#000" stroke-width="5.0"/>
<path d="M360.2,377.2 C361.2,375.3 363.9,369.2 366.3,366 C368.7,362.8 371.7,360.9 374.4,357.8 C377.1,354.7 380.2,351.0 382.6,347.6 C385.0,344.2 386.0,340.8 388.7,337.4 C391.4,334.0 395.2,330.2 398.9,327.2 C402.6,324.1 407.7,321.5 411.1,319.1 C414.5,316.7 416.6,315.4 419.3,313 C422.0,310.6 424.7,307.9 427.4,304.8 C430.1,301.7 432.5,298.3 435.6,294.6 C438.7,290.9 441.9,286.0 445.8,282.4 C449.7,278.8 456.8,274.7 459,273.2" fill="none" stroke="#000" stroke-width="5.0"/>
<path d="M323.1,326.9 C324.3,326.4 327.6,325.1 330.2,323.9 C332.8,322.7 335.7,321.9 338.4,319.8 C341.1,317.8 343.8,313.6 346.5,311.6 C349.2,309.6 352.0,309.3 354.7,307.6 C357.4,305.9 360.1,303.9 362.8,301.5 C365.5,299.1 368.3,295.5 371,293.3 C373.7,291.1 376.1,289.6 379.1,288.2 C382.2,286.8 385.9,286.4 389.3,285.2 C392.7,284.0 396.9,282.5 399.5,281.1 C402.1,279.7 402.2,278.0 404.6,277 C407.0,276.0 410.2,276.0 413.8,275 C417.4,274.0 421.6,272.1 426,270.9 C430.4,269.7 437.8,268.3 440.2,267.8" fill="none" stroke="#fff" stroke-width="3.0"/>
<path d="M404.6,277.5 C405.1,275.7 406.1,270.9 407.6,266.8 C409.1,262.7 411.4,256.7 413.8,252.6 C416.2,248.5 418.8,246.5 421.9,242.4 C424.9,238.3 430.4,230.5 432.1,228.1" fill="none" stroke="#fff" stroke-width="3.0"/>
<path d="M360.2,377.2 C361.2,375.3 363.9,369.2 366.3,366 C368.7,362.8 371.7,360.9 374.4,357.8 C377.1,354.7 380.2,351.0 382.6,347.6 C385.0,344.2 386.0,340.8 388.7,337.4 C391.4,334.0 395.2,330.2 398.9,327.2 C402.6,324.1 407.7,321.5 411.1,319.1 C414.5,316.7 416.6,315.4 419.3,313 C422.0,310.6 424.7,307.9 427.4,304.8 C430.1,301.7 432.5,298.3 435.6,294.6 C438.7,290.9 441.9,286.0 445.8,282.4 C449.7,278.8 456.8,274.7 459,273.2" fill="none" stroke="#fff" stroke-width="3.0"/>
<path d="M409,493 C414,475 420,455 426,440 C429,432 430,425 431,418 C431,410 430,405 429.5,400" fill="none" stroke="#000" stroke-width="1.2"/>
<path d="M415.5,494 C420,478 425,463 429,455" fill="none" stroke="#000" stroke-width="1.2"/>
<path d="M435.5,424 L433,400" fill="none" stroke="#000" stroke-width="1.2"/>
<path d="M435.5,424 C440,412 445,402 449.5,393" fill="none" stroke="#000" stroke-width="1.2"/>
<path d="M431.5,442 C438,428 445,410 452,394" fill="none" stroke="#000" stroke-width="1.2"/>
<path d="M468,394 C468.5,415 468,432 468.5,446" fill="none" stroke="#000" stroke-width="1.2"/>
<path d="M473,394 C473,415 473,428 473.5,440 C476,460 480,480 482.5,501" fill="none" stroke="#000" stroke-width="1.2"/>
<path d="M470.2,454.3 C472,470 474,490 476.8,503" fill="none" stroke="#000" stroke-width="1.2"/>
<path d="M431.5,442 C432,446 436,446 442,446 C447,446 448,448 448,450 C448,453 446,454.5 441,454.5 C436,454.5 433,454 430,455" fill="#fff" stroke="#000" stroke-width="1.2"/>
<g fill="#000" shape-rendering="crispEdges"><rect x="440" y="453" width="1" height="1"/><rect x="438" y="453" width="1" height="1"/><rect x="440" y="452" width="1" height="1"/><rect x="445" y="451" width="1" height="1"/><rect x="443" y="451" width="1" height="1"/><rect x="442" y="452" width="1" height="1"/><rect x="444" y="451" width="1" height="1"/><rect x="441" y="452" width="1" height="1"/><rect x="445" y="454" width="1" height="1"/><rect x="442" y="452" width="1" height="1"/><rect x="437" y="452" width="1" height="1"/><rect x="439" y="452" width="1" height="1"/></g>
<path d="M468.5,446 C468,449 463,448.5 459,448.5 C456,448.5 454.5,450 454.5,451.5 C454.5,453.5 457,454.5 461,454.5 C465,454.5 468,454 470.2,454.3" fill="#fff" stroke="#000" stroke-width="1.2"/>
<path d="M375.2,561.5 C377,567 378.5,572 379,576.8 C380,584 379.5,589 380.3,593.3 C382,599 384,604 386.7,608.6 C389,615 391,621 394.3,626.4 C397,631 399.5,635 401.9,639.2 C404,644 405.5,648 407,651.9" fill="none" stroke="#000" stroke-width="1.15"/>
<path d="M378.4,556.4 C381,561 383,565 384.1,569.1 C385,575 385,581 385.4,586.9 C386.5,592 387.5,595 389.2,598.4 C390.5,599 392,599 394.3,599" fill="none" stroke="#000" stroke-width="1.15"/>
<path d="M392.4,606 C393.5,612 394,618 395.6,623.9 C398,629 401,633 404.5,636.6 C407,640 409.5,644 411.5,647.5" fill="none" stroke="#000" stroke-width="1.15"/>
<path d="M506.2,542.8 C501,549 495,556 489.6,563.1 C485,568 480,574 476.1,578.1 C472,582 469,584.5 465.6,586.4" fill="none" stroke="#000" stroke-width="1.15"/>
<path d="M509.9,545.8 C503,556 494,567 488.1,575.1 C484,581 482,585 480.6,588.6 C478.5,595 477,601 476.1,608.2 C474,615 471.5,622 470.1,629.2 C468.5,636 467,643 466.3,650.3" fill="none" stroke="#000" stroke-width="1.15"/>
<path d="M474.6,588.6 C475.5,590 476,591.5 476.1,593.2 C474,600 471.5,605 470.1,611.2 C469,617 468,622 467.1,627.7 C465,636 463,643 461.8,650.3" fill="none" stroke="#000" stroke-width="1.15"/>
<path d="M389.7,599 C394,597 399,594 403.8,591.9 C410,589.5 415,587 421,585.7 C425,585.2 429,585.4 432,585.7 C434.5,588 435.5,590.5 435.2,593.5 C435.2,598 434.5,602 433.6,605.3 C432,606.5 431.5,606.8 430.5,606.8 C424,607.5 418,608 411.6,607.6 C405,606.5 398,604.5 392.8,603.7" fill="#fff" stroke="#000" stroke-width="1.15"/>
<path d="M433.6,584.9 C435,583.5 436.5,582.8 438.3,582.5 C443,582.3 448,583.3 452.4,584.1 C457,585 461,586 465,586.5 C469,587 472,587.5 474.3,588 C470,589.5 466,590.5 463.4,592 C459,595 455,599.5 450.8,601.3 C446,602 441,602.3 436.7,602.1 C436.8,600 437,597 437,594 C436.5,590.5 435.5,587.5 433.6,584.9 Z" fill="#fff" stroke="#000" stroke-width="1.15"/>
<g fill="#000" shape-rendering="crispEdges"><rect x="416" y="607" width="1" height="1"/><rect x="424" y="605" width="1" height="1"/><rect x="431" y="605" width="1" height="1"/><rect x="423" y="605" width="1" height="1"/><rect x="428" y="607" width="1" height="1"/><rect x="417" y="607" width="1" height="1"/><rect x="428" y="605" width="1" height="1"/><rect x="418" y="606" width="1" height="1"/><rect x="429" y="605" width="1" height="1"/><rect x="425" y="606" width="1" height="1"/><rect x="421" y="606" width="1" height="1"/><rect x="429" y="605" width="1" height="1"/><rect x="429" y="606" width="1" height="1"/><rect x="427" y="607" width="1" height="1"/><rect x="415" y="607" width="1" height="1"/><rect x="431" y="605" width="1" height="1"/><rect x="412" y="605" width="1" height="1"/><rect x="431" y="605" width="1" height="1"/><rect x="429" y="605" width="1" height="1"/><rect x="426" y="605" width="1" height="1"/><rect x="415" y="607" width="1" height="1"/><rect x="414" y="606" width="1" height="1"/><rect x="429" y="607" width="1" height="1"/><rect x="429" y="607" width="1" height="1"/><rect x="413" y="605" width="1" height="1"/><rect x="427" y="607" width="1" height="1"/><rect x="413" y="606" width="1" height="1"/><rect x="416" y="606" width="1" height="1"/><rect x="414" y="605" width="1" height="1"/><rect x="431" y="605" width="1" height="1"/></g><g fill="#000" shape-rendering="crispEdges"><rect x="435" y="592" width="1" height="1"/><rect x="433" y="592" width="1" height="1"/><rect x="433" y="593" width="1" height="1"/><rect x="434" y="592" width="1" height="1"/><rect x="435" y="598" width="1" height="1"/><rect x="432" y="596" width="1" height="1"/><rect x="433" y="605" width="1" height="1"/><rect x="433" y="593" width="1" height="1"/><rect x="436" y="604" width="1" height="1"/><rect x="435" y="594" width="1" height="1"/><rect x="432" y="594" width="1" height="1"/><rect x="431" y="591" width="1" height="1"/><rect x="434" y="597" width="1" height="1"/><rect x="434" y="596" width="1" height="1"/><rect x="431" y="601" width="1" height="1"/><rect x="434" y="599" width="1" height="1"/><rect x="434" y="601" width="1" height="1"/><rect x="436" y="604" width="1" height="1"/><rect x="435" y="596" width="1" height="1"/><rect x="433" y="597" width="1" height="1"/></g><g fill="#000" shape-rendering="crispEdges"><rect x="452" y="600" width="1" height="1"/><rect x="443" y="600" width="1" height="1"/><rect x="440" y="602" width="1" height="1"/><rect x="438" y="600" width="1" height="1"/><rect x="451" y="599" width="1" height="1"/><rect x="447" y="600" width="1" height="1"/><rect x="441" y="599" width="1" height="1"/><rect x="440" y="601" width="1" height="1"/><rect x="449" y="602" width="1" height="1"/><rect x="439" y="601" width="1" height="1"/><rect x="443" y="601" width="1" height="1"/><rect x="446" y="599" width="1" height="1"/><rect x="452" y="598" width="1" height="1"/><rect x="448" y="601" width="1" height="1"/><rect x="445" y="600" width="1" height="1"/><rect x="452" y="599" width="1" height="1"/></g><g fill="#000" shape-rendering="crispEdges"><rect x="390" y="605" width="1" height="1"/><rect x="388" y="605" width="1" height="1"/><rect x="388" y="604" width="1" height="1"/><rect x="390" y="605" width="1" height="1"/><rect x="388" y="604" width="1" height="1"/><rect x="389" y="602" width="1" height="1"/></g>
<path d="M258.2,588.3 C258,592 258,595 257.3,598.2 C256,601 254.5,603 254,606.4 C253.5,610 254,614 254,617.9 C253.5,623 252,628 251.6,632.7 C251,638 251.3,645 251.6,650.8 C251.8,654 252.5,657 253.2,660.7 C254.5,665 256.5,669 257.3,673.9 C258.5,680 259.5,687 259.8,693.6" fill="none" stroke="#000" stroke-width="1.15"/>
<path d="M262.3,592.4 C261.5,597 260.5,601 259.8,604.8 C259,609 258.5,614 258.2,617.9 C258,623 257.5,629 257.3,633.6" fill="none" stroke="#000" stroke-width="1.15"/>
<path d="M257.3,639.3 C258,643 258.5,647 259,650.8 C259.5,654 260.5,657 261.5,659.1 C262.5,664 263,669 263.1,673.9 C263.5,678 263.7,682 263.9,685.4" fill="none" stroke="#000" stroke-width="1.15"/>
<path d="M332.2,603.1 C331,609 329.5,614 328.9,619.6 C328.5,624 328,629 328.1,632.7 C328.5,635 329.5,637 330.6,639.3 C332,644 333.5,649 334.7,654.1 C336,660 337.5,666 338.8,671.4" fill="none" stroke="#000" stroke-width="1.15"/>
<path d="M338,601.5 C337,608 335.5,615 334.7,621.2 C334,625 333.5,629 333,632.7 C333.5,637 334.5,641 335.5,644.3 C337,648 339,652 340.5,655.8 C342,660 343.5,664 344.6,668.1" fill="none" stroke="#000" stroke-width="1.15"/>
<path d="M257.3,634.4 C260,632.5 263,631 266.4,630.3 C269,629.5 271,628.8 273,628.6 C276,628.2 280,628 284,628 L284,648.4 C282,649 280,649.2 277.9,649.2 C275,648.5 273,647.5 271.3,646.7 C268,645 265.5,643 263.1,641.8 C261,640.5 259,639.5 257.3,638.5" fill="#fff" stroke="#000" stroke-width="1.1"/>
<path d="M302.6,625.3 C304.5,625.4 306,625.6 307.5,626.1 C310,627 312,628.8 314.1,630.3 C316.5,632 318.5,633.5 320.7,634.4 C323,634.8 325,634.6 327.3,634.4 L328.9,637.7 C327.5,637.9 326.5,638.2 325.6,638.5 C322.5,639.5 320,641 317.4,642.6 C315,644.5 313,646.5 310.8,647.5 C308,648.3 305.5,648.5 303.4,648.4" fill="#fff" stroke="#000" stroke-width="1.1"/>
<rect x="283.7" y="625.3" width="9" height="25.5" rx="2.5" ry="2.5" fill="#fff" stroke="#000" stroke-width="1.1"/>
<rect x="293.6" y="625.3" width="9" height="25.5" rx="2.5" ry="2.5" fill="#fff" stroke="#000" stroke-width="1.1"/>
<path d="M292.6,628 L292.8,648" stroke="#000" stroke-width="1.6" stroke-dasharray="2 1"/>
<g fill="#000" shape-rendering="crispEdges"><rect x="289" y="633" width="1" height="1"/><rect x="291" y="638" width="1" height="1"/><rect x="290" y="639" width="1" height="1"/><rect x="288" y="632" width="1" height="1"/><rect x="286" y="648" width="1" height="1"/><rect x="288" y="639" width="1" height="1"/><rect x="288" y="646" width="1" height="1"/><rect x="286" y="631" width="1" height="1"/><rect x="291" y="637" width="1" height="1"/><rect x="289" y="646" width="1" height="1"/><rect x="291" y="647" width="1" height="1"/><rect x="285" y="635" width="1" height="1"/><rect x="291" y="646" width="1" height="1"/><rect x="285" y="630" width="1" height="1"/><rect x="286" y="629" width="1" height="1"/><rect x="287" y="645" width="1" height="1"/><rect x="288" y="637" width="1" height="1"/><rect x="285" y="636" width="1" height="1"/><rect x="292" y="643" width="1" height="1"/><rect x="288" y="638" width="1" height="1"/><rect x="290" y="644" width="1" height="1"/><rect x="286" y="642" width="1" height="1"/><rect x="287" y="639" width="1" height="1"/><rect x="286" y="635" width="1" height="1"/><rect x="287" y="635" width="1" height="1"/><rect x="285" y="631" width="1" height="1"/><rect x="289" y="628" width="1" height="1"/><rect x="286" y="643" width="1" height="1"/><rect x="287" y="634" width="1" height="1"/><rect x="286" y="646" width="1" height="1"/><rect x="285" y="641" width="1" height="1"/><rect x="291" y="631" width="1" height="1"/><rect x="288" y="645" width="1" height="1"/><rect x="289" y="635" width="1" height="1"/><rect x="285" y="637" width="1" height="1"/><rect x="287" y="643" width="1" height="1"/><rect x="287" y="636" width="1" height="1"/><rect x="289" y="646" width="1" height="1"/><rect x="287" y="636" width="1" height="1"/><rect x="289" y="648" width="1" height="1"/><rect x="286" y="649" width="1" height="1"/><rect x="290" y="635" width="1" height="1"/><rect x="289" y="634" width="1" height="1"/><rect x="285" y="644" width="1" height="1"/><rect x="287" y="639" width="1" height="1"/><rect x="288" y="648" width="1" height="1"/><rect x="290" y="627" width="1" height="1"/><rect x="289" y="637" width="1" height="1"/><rect x="288" y="646" width="1" height="1"/><rect x="288" y="638" width="1" height="1"/><rect x="291" y="637" width="1" height="1"/><rect x="288" y="639" width="1" height="1"/><rect x="291" y="642" width="1" height="1"/><rect x="290" y="636" width="1" height="1"/><rect x="285" y="642" width="1" height="1"/></g><g fill="#000" shape-rendering="crispEdges"><rect x="299" y="645" width="1" height="1"/><rect x="300" y="629" width="1" height="1"/><rect x="296" y="628" width="1" height="1"/><rect x="301" y="629" width="1" height="1"/><rect x="295" y="644" width="1" height="1"/><rect x="299" y="628" width="1" height="1"/><rect x="300" y="643" width="1" height="1"/><rect x="298" y="628" width="1" height="1"/><rect x="300" y="636" width="1" height="1"/><rect x="299" y="650" width="1" height="1"/><rect x="301" y="647" width="1" height="1"/><rect x="296" y="634" width="1" height="1"/><rect x="298" y="627" width="1" height="1"/><rect x="302" y="633" width="1" height="1"/><rect x="296" y="634" width="1" height="1"/><rect x="296" y="647" width="1" height="1"/><rect x="299" y="639" width="1" height="1"/><rect x="298" y="628" width="1" height="1"/><rect x="297" y="647" width="1" height="1"/><rect x="301" y="647" width="1" height="1"/><rect x="296" y="631" width="1" height="1"/><rect x="295" y="639" width="1" height="1"/><rect x="297" y="637" width="1" height="1"/><rect x="298" y="640" width="1" height="1"/><rect x="297" y="645" width="1" height="1"/><rect x="296" y="648" width="1" height="1"/><rect x="299" y="628" width="1" height="1"/><rect x="297" y="639" width="1" height="1"/><rect x="298" y="640" width="1" height="1"/><rect x="297" y="633" width="1" height="1"/><rect x="300" y="633" width="1" height="1"/><rect x="300" y="645" width="1" height="1"/><rect x="299" y="637" width="1" height="1"/><rect x="302" y="637" width="1" height="1"/><rect x="301" y="628" width="1" height="1"/><rect x="298" y="642" width="1" height="1"/><rect x="295" y="647" width="1" height="1"/><rect x="295" y="641" width="1" height="1"/><rect x="296" y="648" width="1" height="1"/><rect x="299" y="645" width="1" height="1"/><rect x="298" y="642" width="1" height="1"/><rect x="300" y="633" width="1" height="1"/><rect x="296" y="646" width="1" height="1"/><rect x="296" y="648" width="1" height="1"/><rect x="296" y="629" width="1" height="1"/><rect x="295" y="645" width="1" height="1"/><rect x="302" y="636" width="1" height="1"/><rect x="299" y="633" width="1" height="1"/><rect x="301" y="643" width="1" height="1"/><rect x="296" y="628" width="1" height="1"/><rect x="300" y="627" width="1" height="1"/><rect x="301" y="633" width="1" height="1"/><rect x="296" y="640" width="1" height="1"/><rect x="297" y="640" width="1" height="1"/><rect x="296" y="648" width="1" height="1"/></g>
<g fill="#000" shape-rendering="crispEdges"><rect x="268" y="646" width="1" height="1"/><rect x="265" y="646" width="1" height="1"/><rect x="282" y="642" width="1" height="1"/><rect x="263" y="642" width="1" height="1"/><rect x="275" y="640" width="1" height="1"/><rect x="273" y="639" width="1" height="1"/><rect x="271" y="645" width="1" height="1"/><rect x="271" y="645" width="1" height="1"/><rect x="264" y="646" width="1" height="1"/><rect x="264" y="647" width="1" height="1"/><rect x="282" y="647" width="1" height="1"/><rect x="273" y="641" width="1" height="1"/><rect x="269" y="646" width="1" height="1"/><rect x="272" y="647" width="1" height="1"/><rect x="264" y="643" width="1" height="1"/><rect x="279" y="644" width="1" height="1"/></g><g fill="#000" shape-rendering="crispEdges"><rect x="316" y="641" width="1" height="1"/><rect x="308" y="642" width="1" height="1"/><rect x="323" y="646" width="1" height="1"/><rect x="310" y="646" width="1" height="1"/><rect x="306" y="644" width="1" height="1"/><rect x="324" y="642" width="1" height="1"/><rect x="324" y="645" width="1" height="1"/><rect x="306" y="642" width="1" height="1"/><rect x="314" y="642" width="1" height="1"/><rect x="320" y="641" width="1" height="1"/><rect x="321" y="642" width="1" height="1"/><rect x="306" y="644" width="1" height="1"/><rect x="307" y="644" width="1" height="1"/><rect x="321" y="644" width="1" height="1"/></g>
<path d="M77.8,627.7 C78.5,633 78.8,639 78.8,644.4 C78.5,650 78,655 77.8,660.1 C77.5,664 76.8,667 76.9,669.9 C77.5,673 79,676 79.8,679.7 C80.5,685 80.5,692 80.8,697.3 C82,701 84,705 85.7,709 C87,714 88.5,719 89.6,724.7" fill="none" stroke="#000" stroke-width="1.15"/>
<path d="M81.8,626.8 C82.5,631 83.5,636 83.7,640.5 C84,647 83.8,654 83.7,660.1 C83.5,663 82.8,666 81.8,668.9" fill="none" stroke="#000" stroke-width="1.15"/>
<path d="M85.7,674 C85.8,676 85.7,677 85.7,677.7 C85.8,684 85.8,691 85.7,697.3 C87,701 89,705 90.6,709 C91.8,713 92.8,717 93.5,720.8" fill="none" stroke="#000" stroke-width="1.15"/>
<path d="M182.7,622.8 C178,628 173,634 169.9,639.5 C168.5,645 167.5,651 167,656.1" fill="none" stroke="#000" stroke-width="1.15"/>
<path d="M166,665 C163,670 161.5,675 160.1,679.7 C158.5,684 157.5,689 157.2,693.4 C157,700 157.5,707 158.2,713" fill="none" stroke="#000" stroke-width="1.15"/>
<path d="M186.6,627.7 C183,631 180,635 176.8,639.5 C174.5,645 173,652 171.9,658.1 C171,662 170.5,665 169.9,667.9 C168.5,672 167,677 166,681.6 C165,687 164.3,692 164,697.3 C164,703 165,708 166,713" fill="none" stroke="#000" stroke-width="1.15"/>
<path d="M81.8,668.9 C86,667 91,664.5 95.5,663 C99,662 103,661 107.5,660.1 L108,685.5 C105,685.5 103,685 101.3,684.6 C98,683 96,681.5 93.5,679.7 C90.5,677.5 88,675.5 85.7,673.8" fill="#fff" stroke="#000" stroke-width="1.1"/>
<path d="M134.5,659.1 C138,660 142,661.5 146.4,662 C152,661.5 159,658 167,656.1 L166,664 C162,664 159,664.5 156.2,665.9 C154.5,667.5 153,669.5 152.3,671.8 C151,675 150,679 148.4,681.6 C145,683 140,683.5 134.5,683.6" fill="#fff" stroke="#000" stroke-width="1.1"/>
<g fill="#000" shape-rendering="crispEdges"><rect x="95" y="669" width="1" height="1"/><rect x="96" y="670" width="1" height="1"/><rect x="100" y="670" width="1" height="1"/><rect x="98" y="674" width="1" height="1"/><rect x="93" y="679" width="1" height="1"/><rect x="88" y="671" width="1" height="1"/><rect x="107" y="673" width="1" height="1"/><rect x="104" y="682" width="1" height="1"/><rect x="96" y="670" width="1" height="1"/><rect x="86" y="682" width="1" height="1"/><rect x="87" y="676" width="1" height="1"/><rect x="97" y="670" width="1" height="1"/><rect x="95" y="671" width="1" height="1"/><rect x="97" y="676" width="1" height="1"/><rect x="93" y="671" width="1" height="1"/><rect x="94" y="671" width="1" height="1"/><rect x="87" y="672" width="1" height="1"/><rect x="105" y="676" width="1" height="1"/><rect x="105" y="668" width="1" height="1"/><rect x="107" y="676" width="1" height="1"/><rect x="103" y="677" width="1" height="1"/><rect x="101" y="672" width="1" height="1"/><rect x="102" y="670" width="1" height="1"/><rect x="90" y="668" width="1" height="1"/><rect x="93" y="676" width="1" height="1"/><rect x="91" y="682" width="1" height="1"/><rect x="86" y="677" width="1" height="1"/><rect x="90" y="678" width="1" height="1"/><rect x="103" y="679" width="1" height="1"/><rect x="85" y="672" width="1" height="1"/><rect x="98" y="684" width="1" height="1"/><rect x="85" y="678" width="1" height="1"/><rect x="101" y="681" width="1" height="1"/><rect x="92" y="681" width="1" height="1"/><rect x="95" y="683" width="1" height="1"/><rect x="84" y="683" width="1" height="1"/><rect x="94" y="675" width="1" height="1"/><rect x="86" y="672" width="1" height="1"/><rect x="102" y="679" width="1" height="1"/><rect x="88" y="674" width="1" height="1"/><rect x="87" y="671" width="1" height="1"/><rect x="89" y="673" width="1" height="1"/><rect x="107" y="684" width="1" height="1"/><rect x="103" y="676" width="1" height="1"/><rect x="96" y="680" width="1" height="1"/><rect x="106" y="680" width="1" height="1"/><rect x="99" y="671" width="1" height="1"/><rect x="99" y="682" width="1" height="1"/><rect x="103" y="669" width="1" height="1"/><rect x="101" y="674" width="1" height="1"/><rect x="88" y="683" width="1" height="1"/><rect x="100" y="680" width="1" height="1"/><rect x="87" y="681" width="1" height="1"/><rect x="106" y="682" width="1" height="1"/><rect x="102" y="681" width="1" height="1"/><rect x="103" y="677" width="1" height="1"/><rect x="94" y="681" width="1" height="1"/><rect x="103" y="682" width="1" height="1"/><rect x="91" y="683" width="1" height="1"/><rect x="97" y="683" width="1" height="1"/></g><g fill="#000" shape-rendering="crispEdges"><rect x="136" y="681" width="1" height="1"/><rect x="148" y="668" width="1" height="1"/><rect x="149" y="667" width="1" height="1"/><rect x="138" y="672" width="1" height="1"/><rect x="138" y="672" width="1" height="1"/><rect x="150" y="676" width="1" height="1"/><rect x="147" y="670" width="1" height="1"/><rect x="148" y="678" width="1" height="1"/><rect x="146" y="681" width="1" height="1"/><rect x="149" y="671" width="1" height="1"/><rect x="136" y="675" width="1" height="1"/><rect x="149" y="669" width="1" height="1"/><rect x="145" y="679" width="1" height="1"/><rect x="148" y="663" width="1" height="1"/><rect x="143" y="663" width="1" height="1"/><rect x="136" y="678" width="1" height="1"/><rect x="142" y="674" width="1" height="1"/><rect x="142" y="669" width="1" height="1"/><rect x="138" y="670" width="1" height="1"/><rect x="149" y="675" width="1" height="1"/><rect x="139" y="665" width="1" height="1"/><rect x="139" y="676" width="1" height="1"/></g>
<defs><clipPath id="yzclip"><path d="M107.2,662 C107.5,658 112,656 121,656 C130,656 134.5,658 134.7,662 L134.7,682 C134.7,685 132,686.5 121,686.5 C111,686.5 107.2,685 107.2,682 Z"/></clipPath></defs>
<path d="M107.2,662 C107.5,658 112,656 121,656 C130,656 134.5,658 134.7,662 L134.7,682 C134.7,685 132,686.5 121,686.5 C111,686.5 107.2,685 107.2,682 Z" fill="#fff" stroke="#000" stroke-width="1.6"/>
<path d="M108.2,662 L108.2,682 C108.2,684.5 111,685.6 121,685.6 C130,685.6 133.5,684.8 133.8,682" fill="none" stroke="#000" stroke-width="2.2"/>
<g clip-path="url(#yzclip)"><g fill="#000" shape-rendering="crispEdges"><rect x="119" y="677" width="1" height="1"/><rect x="130" y="659" width="1" height="1"/><rect x="126" y="656" width="1" height="1"/><rect x="131" y="661" width="1" height="1"/><rect x="114" y="687" width="1" height="1"/><rect x="117" y="662" width="1" height="1"/><rect x="133" y="675" width="1" height="1"/><rect x="133" y="668" width="1" height="1"/><rect x="121" y="687" width="1" height="1"/><rect x="121" y="688" width="1" height="1"/><rect x="112" y="682" width="1" height="1"/><rect x="111" y="672" width="1" height="1"/><rect x="106" y="661" width="1" height="1"/><rect x="134" y="670" width="1" height="1"/><rect x="130" y="663" width="1" height="1"/><rect x="117" y="658" width="1" height="1"/><rect x="123" y="683" width="1" height="1"/><rect x="121" y="667" width="1" height="1"/><rect x="134" y="684" width="1" height="1"/><rect x="126" y="658" width="1" height="1"/><rect x="125" y="670" width="1" height="1"/><rect x="135" y="667" width="1" height="1"/><rect x="126" y="676" width="1" height="1"/><rect x="117" y="672" width="1" height="1"/><rect x="126" y="685" width="1" height="1"/><rect x="121" y="667" width="1" height="1"/><rect x="135" y="657" width="1" height="1"/><rect x="131" y="678" width="1" height="1"/><rect x="123" y="670" width="1" height="1"/><rect x="129" y="684" width="1" height="1"/><rect x="128" y="680" width="1" height="1"/><rect x="107" y="666" width="1" height="1"/><rect x="110" y="686" width="1" height="1"/><rect x="133" y="660" width="1" height="1"/><rect x="124" y="674" width="1" height="1"/><rect x="107" y="668" width="1" height="1"/><rect x="128" y="676" width="1" height="1"/><rect x="114" y="680" width="1" height="1"/><rect x="115" y="673" width="1" height="1"/><rect x="119" y="687" width="1" height="1"/><rect x="125" y="682" width="1" height="1"/><rect x="126" y="668" width="1" height="1"/><rect x="135" y="678" width="1" height="1"/><rect x="127" y="664" width="1" height="1"/><rect x="111" y="674" width="1" height="1"/><rect x="131" y="681" width="1" height="1"/><rect x="116" y="660" width="1" height="1"/><rect x="121" y="684" width="1" height="1"/><rect x="111" y="679" width="1" height="1"/><rect x="111" y="665" width="1" height="1"/><rect x="108" y="665" width="1" height="1"/><rect x="117" y="687" width="1" height="1"/><rect x="135" y="661" width="1" height="1"/><rect x="115" y="686" width="1" height="1"/><rect x="112" y="666" width="1" height="1"/><rect x="119" y="659" width="1" height="1"/><rect x="114" y="668" width="1" height="1"/><rect x="118" y="687" width="1" height="1"/><rect x="114" y="662" width="1" height="1"/><rect x="133" y="670" width="1" height="1"/><rect x="131" y="676" width="1" height="1"/><rect x="129" y="665" width="1" height="1"/><rect x="111" y="680" width="1" height="1"/><rect x="120" y="673" width="1" height="1"/><rect x="126" y="680" width="1" height="1"/><rect x="114" y="667" width="1" height="1"/><rect x="134" y="672" width="1" height="1"/><rect x="115" y="676" width="1" height="1"/><rect x="114" y="680" width="1" height="1"/><rect x="107" y="682" width="1" height="1"/><rect x="123" y="667" width="1" height="1"/><rect x="134" y="664" width="1" height="1"/><rect x="113" y="657" width="1" height="1"/><rect x="122" y="680" width="1" height="1"/><rect x="126" y="669" width="1" height="1"/><rect x="130" y="659" width="1" height="1"/><rect x="115" y="676" width="1" height="1"/><rect x="135" y="676" width="1" height="1"/><rect x="127" y="681" width="1" height="1"/><rect x="118" y="686" width="1" height="1"/><rect x="128" y="666" width="1" height="1"/><rect x="118" y="682" width="1" height="1"/><rect x="116" y="661" width="1" height="1"/><rect x="132" y="673" width="1" height="1"/><rect x="122" y="677" width="1" height="1"/><rect x="133" y="659" width="1" height="1"/><rect x="116" y="657" width="1" height="1"/><rect x="118" y="672" width="1" height="1"/><rect x="132" y="677" width="1" height="1"/><rect x="123" y="668" width="1" height="1"/><rect x="123" y="664" width="1" height="1"/><rect x="131" y="681" width="1" height="1"/><rect x="131" y="660" width="1" height="1"/><rect x="126" y="680" width="1" height="1"/><rect x="121" y="685" width="1" height="1"/><rect x="133" y="680" width="1" height="1"/><rect x="131" y="676" width="1" height="1"/><rect x="132" y="659" width="1" height="1"/><rect x="127" y="678" width="1" height="1"/><rect x="124" y="664" width="1" height="1"/><rect x="108" y="675" width="1" height="1"/><rect x="131" y="664" width="1" height="1"/><rect x="112" y="662" width="1" height="1"/><rect x="109" y="677" width="1" height="1"/><rect x="135" y="681" width="1" height="1"/><rect x="117" y="678" width="1" height="1"/><rect x="108" y="683" width="1" height="1"/><rect x="116" y="655" width="1" height="1"/><rect x="125" y="660" width="1" height="1"/><rect x="114" y="657" width="1" height="1"/><rect x="119" y="673" width="1" height="1"/><rect x="130" y="656" width="1" height="1"/><rect x="131" y="659" width="1" height="1"/><rect x="113" y="676" width="1" height="1"/><rect x="116" y="666" width="1" height="1"/><rect x="123" y="662" width="1" height="1"/><rect x="130" y="662" width="1" height="1"/><rect x="131" y="682" width="1" height="1"/><rect x="122" y="656" width="1" height="1"/><rect x="129" y="656" width="1" height="1"/><rect x="121" y="669" width="1" height="1"/><rect x="108" y="676" width="1" height="1"/><rect x="128" y="674" width="1" height="1"/><rect x="118" y="672" width="1" height="1"/><rect x="124" y="662" width="1" height="1"/><rect x="132" y="688" width="1" height="1"/><rect x="130" y="687" width="1" height="1"/><rect x="116" y="688" width="1" height="1"/><rect x="108" y="671" width="1" height="1"/><rect x="110" y="670" width="1" height="1"/><rect x="126" y="678" width="1" height="1"/><rect x="120" y="666" width="1" height="1"/><rect x="112" y="668" width="1" height="1"/><rect x="114" y="661" width="1" height="1"/><rect x="128" y="672" width="1" height="1"/><rect x="119" y="662" width="1" height="1"/><rect x="127" y="661" width="1" height="1"/><rect x="114" y="673" width="1" height="1"/><rect x="127" y="687" width="1" height="1"/><rect x="128" y="686" width="1" height="1"/><rect x="134" y="679" width="1" height="1"/><rect x="128" y="657" width="1" height="1"/><rect x="112" y="655" width="1" height="1"/><rect x="132" y="679" width="1" height="1"/><rect x="125" y="664" width="1" height="1"/><rect x="117" y="660" width="1" height="1"/><rect x="125" y="688" width="1" height="1"/><rect x="115" y="656" width="1" height="1"/><rect x="111" y="667" width="1" height="1"/><rect x="133" y="682" width="1" height="1"/><rect x="120" y="658" width="1" height="1"/><rect x="109" y="660" width="1" height="1"/><rect x="129" y="671" width="1" height="1"/><rect x="136" y="685" width="1" height="1"/><rect x="130" y="671" width="1" height="1"/><rect x="131" y="659" width="1" height="1"/><rect x="109" y="674" width="1" height="1"/><rect x="121" y="662" width="1" height="1"/><rect x="114" y="656" width="1" height="1"/><rect x="133" y="678" width="1" height="1"/><rect x="134" y="687" width="1" height="1"/><rect x="119" y="679" width="1" height="1"/><rect x="118" y="682" width="1" height="1"/><rect x="131" y="659" width="1" height="1"/><rect x="106" y="662" width="1" height="1"/><rect x="124" y="668" width="1" height="1"/><rect x="106" y="682" width="1" height="1"/><rect x="130" y="670" width="1" height="1"/><rect x="107" y="684" width="1" height="1"/><rect x="122" y="657" width="1" height="1"/><rect x="116" y="676" width="1" height="1"/><rect x="133" y="671" width="1" height="1"/><rect x="125" y="662" width="1" height="1"/><rect x="113" y="685" width="1" height="1"/><rect x="117" y="658" width="1" height="1"/><rect x="124" y="659" width="1" height="1"/><rect x="112" y="670" width="1" height="1"/><rect x="124" y="676" width="1" height="1"/><rect x="127" y="670" width="1" height="1"/><rect x="108" y="679" width="1" height="1"/><rect x="108" y="671" width="1" height="1"/><rect x="118" y="677" width="1" height="1"/><rect x="127" y="663" width="1" height="1"/><rect x="125" y="678" width="1" height="1"/><rect x="120" y="660" width="1" height="1"/><rect x="133" y="675" width="1" height="1"/><rect x="108" y="663" width="1" height="1"/><rect x="136" y="663" width="1" height="1"/><rect x="118" y="681" width="1" height="1"/><rect x="131" y="676" width="1" height="1"/><rect x="128" y="656" width="1" height="1"/><rect x="109" y="687" width="1" height="1"/><rect x="130" y="656" width="1" height="1"/><rect x="107" y="663" width="1" height="1"/><rect x="134" y="662" width="1" height="1"/><rect x="126" y="686" width="1" height="1"/><rect x="125" y="685" width="1" height="1"/><rect x="114" y="660" width="1" height="1"/><rect x="107" y="680" width="1" height="1"/><rect x="109" y="687" width="1" height="1"/><rect x="127" y="661" width="1" height="1"/><rect x="130" y="660" width="1" height="1"/><rect x="121" y="658" width="1" height="1"/><rect x="130" y="684" width="1" height="1"/><rect x="133" y="655" width="1" height="1"/><rect x="132" y="673" width="1" height="1"/><rect x="131" y="672" width="1" height="1"/><rect x="125" y="675" width="1" height="1"/><rect x="130" y="658" width="1" height="1"/><rect x="108" y="673" width="1" height="1"/><rect x="115" y="668" width="1" height="1"/><rect x="106" y="680" width="1" height="1"/><rect x="107" y="682" width="1" height="1"/><rect x="130" y="670" width="1" height="1"/><rect x="110" y="676" width="1" height="1"/><rect x="112" y="669" width="1" height="1"/><rect x="109" y="687" width="1" height="1"/><rect x="122" y="667" width="1" height="1"/><rect x="109" y="679" width="1" height="1"/><rect x="131" y="683" width="1" height="1"/><rect x="109" y="667" width="1" height="1"/><rect x="115" y="680" width="1" height="1"/><rect x="110" y="675" width="1" height="1"/><rect x="135" y="680" width="1" height="1"/><rect x="106" y="657" width="1" height="1"/><rect x="109" y="678" width="1" height="1"/><rect x="124" y="672" width="1" height="1"/><rect x="120" y="668" width="1" height="1"/><rect x="124" y="676" width="1" height="1"/><rect x="133" y="679" width="1" height="1"/><rect x="130" y="685" width="1" height="1"/><rect x="131" y="679" width="1" height="1"/><rect x="107" y="677" width="1" height="1"/><rect x="131" y="669" width="1" height="1"/><rect x="132" y="661" width="1" height="1"/><rect x="134" y="670" width="1" height="1"/><rect x="127" y="663" width="1" height="1"/><rect x="115" y="666" width="1" height="1"/><rect x="116" y="658" width="1" height="1"/><rect x="119" y="687" width="1" height="1"/><rect x="126" y="686" width="1" height="1"/><rect x="129" y="683" width="1" height="1"/><rect x="136" y="680" width="1" height="1"/><rect x="114" y="663" width="1" height="1"/><rect x="118" y="656" width="1" height="1"/><rect x="113" y="684" width="1" height="1"/><rect x="134" y="666" width="1" height="1"/><rect x="129" y="681" width="1" height="1"/><rect x="133" y="681" width="1" height="1"/><rect x="122" y="658" width="1" height="1"/><rect x="131" y="665" width="1" height="1"/><rect x="125" y="667" width="1" height="1"/><rect x="122" y="687" width="1" height="1"/><rect x="111" y="673" width="1" height="1"/><rect x="125" y="673" width="1" height="1"/><rect x="134" y="668" width="1" height="1"/><rect x="133" y="678" width="1" height="1"/><rect x="135" y="658" width="1" height="1"/><rect x="112" y="664" width="1" height="1"/><rect x="133" y="655" width="1" height="1"/><rect x="114" y="679" width="1" height="1"/><rect x="136" y="661" width="1" height="1"/><rect x="119" y="678" width="1" height="1"/><rect x="127" y="680" width="1" height="1"/><rect x="129" y="663" width="1" height="1"/><rect x="114" y="656" width="1" height="1"/><rect x="127" y="662" width="1" height="1"/><rect x="114" y="687" width="1" height="1"/><rect x="125" y="675" width="1" height="1"/><rect x="126" y="675" width="1" height="1"/><rect x="127" y="665" width="1" height="1"/><rect x="108" y="657" width="1" height="1"/><rect x="106" y="667" width="1" height="1"/><rect x="110" y="659" width="1" height="1"/><rect x="121" y="687" width="1" height="1"/><rect x="127" y="664" width="1" height="1"/><rect x="129" y="661" width="1" height="1"/><rect x="109" y="665" width="1" height="1"/><rect x="118" y="678" width="1" height="1"/><rect x="119" y="679" width="1" height="1"/><rect x="109" y="686" width="1" height="1"/><rect x="116" y="682" width="1" height="1"/><rect x="107" y="682" width="1" height="1"/><rect x="113" y="683" width="1" height="1"/><rect x="130" y="677" width="1" height="1"/><rect x="114" y="655" width="1" height="1"/><rect x="112" y="685" width="1" height="1"/><rect x="111" y="677" width="1" height="1"/><rect x="124" y="677" width="1" height="1"/><rect x="111" y="660" width="1" height="1"/><rect x="109" y="687" width="1" height="1"/><rect x="117" y="677" width="1" height="1"/><rect x="123" y="662" width="1" height="1"/><rect x="108" y="655" width="1" height="1"/><rect x="132" y="659" width="1" height="1"/><rect x="135" y="667" width="1" height="1"/><rect x="128" y="660" width="1" height="1"/><rect x="130" y="663" width="1" height="1"/><rect x="117" y="672" width="1" height="1"/><rect x="109" y="663" width="1" height="1"/><rect x="130" y="664" width="1" height="1"/><rect x="117" y="680" width="1" height="1"/><rect x="113" y="661" width="1" height="1"/><rect x="113" y="668" width="1" height="1"/><rect x="117" y="676" width="1" height="1"/><rect x="120" y="684" width="1" height="1"/><rect x="108" y="677" width="1" height="1"/><rect x="131" y="663" width="1" height="1"/><rect x="107" y="669" width="1" height="1"/><rect x="109" y="670" width="1" height="1"/><rect x="127" y="658" width="1" height="1"/><rect x="110" y="671" width="1" height="1"/><rect x="111" y="663" width="1" height="1"/><rect x="119" y="659" width="1" height="1"/><rect x="108" y="667" width="1" height="1"/><rect x="120" y="686" width="1" height="1"/><rect x="123" y="657" width="1" height="1"/><rect x="113" y="680" width="1" height="1"/><rect x="123" y="684" width="1" height="1"/><rect x="135" y="683" width="1" height="1"/><rect x="109" y="686" width="1" height="1"/><rect x="122" y="663" width="1" height="1"/><rect x="111" y="684" width="1" height="1"/><rect x="112" y="658" width="1" height="1"/><rect x="114" y="685" width="1" height="1"/><rect x="120" y="679" width="1" height="1"/><rect x="108" y="670" width="1" height="1"/><rect x="116" y="662" width="1" height="1"/><rect x="126" y="667" width="1" height="1"/><rect x="110" y="687" width="1" height="1"/><rect x="120" y="661" width="1" height="1"/><rect x="106" y="677" width="1" height="1"/><rect x="121" y="656" width="1" height="1"/><rect x="120" y="679" width="1" height="1"/><rect x="122" y="663" width="1" height="1"/><rect x="121" y="675" width="1" height="1"/><rect x="126" y="660" width="1" height="1"/><rect x="130" y="686" width="1" height="1"/><rect x="128" y="683" width="1" height="1"/><rect x="117" y="685" width="1" height="1"/><rect x="111" y="662" width="1" height="1"/><rect x="124" y="685" width="1" height="1"/><rect x="108" y="662" width="1" height="1"/><rect x="107" y="669" width="1" height="1"/><rect x="110" y="661" width="1" height="1"/><rect x="128" y="674" width="1" height="1"/><rect x="134" y="668" width="1" height="1"/><rect x="126" y="655" width="1" height="1"/><rect x="134" y="663" width="1" height="1"/><rect x="120" y="672" width="1" height="1"/><rect x="134" y="671" width="1" height="1"/><rect x="136" y="676" width="1" height="1"/><rect x="112" y="683" width="1" height="1"/><rect x="112" y="688" width="1" height="1"/><rect x="120" y="662" width="1" height="1"/><rect x="135" y="666" width="1" height="1"/><rect x="118" y="666" width="1" height="1"/><rect x="126" y="656" width="1" height="1"/><rect x="117" y="660" width="1" height="1"/><rect x="131" y="655" width="1" height="1"/><rect x="124" y="664" width="1" height="1"/><rect x="120" y="674" width="1" height="1"/><rect x="127" y="660" width="1" height="1"/><rect x="113" y="659" width="1" height="1"/><rect x="135" y="660" width="1" height="1"/><rect x="110" y="672" width="1" height="1"/><rect x="123" y="684" width="1" height="1"/><rect x="108" y="663" width="1" height="1"/><rect x="111" y="674" width="1" height="1"/><rect x="120" y="668" width="1" height="1"/><rect x="133" y="677" width="1" height="1"/><rect x="132" y="687" width="1" height="1"/><rect x="114" y="686" width="1" height="1"/><rect x="118" y="657" width="1" height="1"/><rect x="133" y="658" width="1" height="1"/><rect x="107" y="665" width="1" height="1"/><rect x="115" y="687" width="1" height="1"/><rect x="132" y="669" width="1" height="1"/><rect x="122" y="683" width="1" height="1"/><rect x="130" y="677" width="1" height="1"/><rect x="121" y="659" width="1" height="1"/><rect x="113" y="677" width="1" height="1"/><rect x="124" y="681" width="1" height="1"/><rect x="133" y="687" width="1" height="1"/><rect x="112" y="658" width="1" height="1"/><rect x="133" y="674" width="1" height="1"/><rect x="111" y="678" width="1" height="1"/><rect x="114" y="663" width="1" height="1"/><rect x="117" y="672" width="1" height="1"/><rect x="126" y="657" width="1" height="1"/><rect x="128" y="676" width="1" height="1"/><rect x="120" y="677" width="1" height="1"/><rect x="130" y="655" width="1" height="1"/><rect x="120" y="677" width="1" height="1"/><rect x="127" y="676" width="1" height="1"/><rect x="111" y="687" width="1" height="1"/><rect x="130" y="663" width="1" height="1"/><rect x="119" y="687" width="1" height="1"/><rect x="112" y="669" width="1" height="1"/><rect x="135" y="685" width="1" height="1"/><rect x="113" y="679" width="1" height="1"/><rect x="117" y="677" width="1" height="1"/><rect x="129" y="659" width="1" height="1"/><rect x="113" y="662" width="1" height="1"/><rect x="114" y="656" width="1" height="1"/><rect x="110" y="668" width="1" height="1"/><rect x="119" y="658" width="1" height="1"/><rect x="123" y="686" width="1" height="1"/><rect x="123" y="667" width="1" height="1"/><rect x="127" y="669" width="1" height="1"/><rect x="111" y="671" width="1" height="1"/><rect x="107" y="677" width="1" height="1"/><rect x="111" y="667" width="1" height="1"/><rect x="135" y="680" width="1" height="1"/><rect x="131" y="676" width="1" height="1"/><rect x="125" y="678" width="1" height="1"/><rect x="135" y="661" width="1" height="1"/><rect x="129" y="665" width="1" height="1"/><rect x="114" y="682" width="1" height="1"/><rect x="124" y="683" width="1" height="1"/><rect x="132" y="674" width="1" height="1"/><rect x="112" y="655" width="1" height="1"/><rect x="122" y="679" width="1" height="1"/><rect x="114" y="657" width="1" height="1"/><rect x="106" y="661" width="1" height="1"/><rect x="127" y="655" width="1" height="1"/><rect x="113" y="664" width="1" height="1"/><rect x="127" y="688" width="1" height="1"/><rect x="107" y="659" width="1" height="1"/><rect x="134" y="687" width="1" height="1"/><rect x="110" y="666" width="1" height="1"/><rect x="122" y="666" width="1" height="1"/><rect x="119" y="671" width="1" height="1"/><rect x="114" y="657" width="1" height="1"/><rect x="109" y="660" width="1" height="1"/><rect x="109" y="676" width="1" height="1"/><rect x="127" y="664" width="1" height="1"/><rect x="130" y="679" width="1" height="1"/><rect x="116" y="671" width="1" height="1"/><rect x="112" y="686" width="1" height="1"/><rect x="123" y="657" width="1" height="1"/><rect x="111" y="678" width="1" height="1"/><rect x="118" y="679" width="1" height="1"/><rect x="113" y="681" width="1" height="1"/><rect x="130" y="658" width="1" height="1"/><rect x="124" y="661" width="1" height="1"/><rect x="127" y="682" width="1" height="1"/><rect x="130" y="663" width="1" height="1"/><rect x="109" y="677" width="1" height="1"/><rect x="123" y="660" width="1" height="1"/><rect x="112" y="674" width="1" height="1"/><rect x="109" y="676" width="1" height="1"/><rect x="113" y="664" width="1" height="1"/><rect x="119" y="673" width="1" height="1"/><rect x="128" y="656" width="1" height="1"/><rect x="128" y="662" width="1" height="1"/><rect x="115" y="676" width="1" height="1"/><rect x="127" y="675" width="1" height="1"/><rect x="133" y="662" width="1" height="1"/><rect x="115" y="677" width="1" height="1"/><rect x="114" y="660" width="1" height="1"/><rect x="113" y="680" width="1" height="1"/><rect x="131" y="679" width="1" height="1"/><rect x="135" y="681" width="1" height="1"/><rect x="115" y="665" width="1" height="1"/><rect x="128" y="657" width="1" height="1"/><rect x="124" y="658" width="1" height="1"/><rect x="107" y="672" width="1" height="1"/><rect x="111" y="686" width="1" height="1"/><rect x="132" y="670" width="1" height="1"/><rect x="112" y="659" width="1" height="1"/><rect x="121" y="672" width="1" height="1"/><rect x="117" y="679" width="1" height="1"/><rect x="122" y="681" width="1" height="1"/><rect x="109" y="657" width="1" height="1"/><rect x="118" y="671" width="1" height="1"/><rect x="114" y="677" width="1" height="1"/><rect x="113" y="666" width="1" height="1"/><rect x="120" y="679" width="1" height="1"/><rect x="129" y="667" width="1" height="1"/><rect x="119" y="686" width="1" height="1"/><rect x="134" y="675" width="1" height="1"/><rect x="109" y="670" width="1" height="1"/><rect x="125" y="664" width="1" height="1"/><rect x="107" y="687" width="1" height="1"/><rect x="133" y="659" width="1" height="1"/><rect x="120" y="675" width="1" height="1"/><rect x="115" y="657" width="1" height="1"/><rect x="129" y="680" width="1" height="1"/><rect x="119" y="658" width="1" height="1"/><rect x="118" y="658" width="1" height="1"/><rect x="135" y="657" width="1" height="1"/><rect x="115" y="680" width="1" height="1"/><rect x="110" y="659" width="1" height="1"/><rect x="108" y="660" width="1" height="1"/><rect x="122" y="682" width="1" height="1"/><rect x="111" y="661" width="1" height="1"/><rect x="129" y="669" width="1" height="1"/><rect x="116" y="659" width="1" height="1"/><rect x="113" y="687" width="1" height="1"/><rect x="110" y="664" width="1" height="1"/><rect x="128" y="684" width="1" height="1"/><rect x="133" y="671" width="1" height="1"/><rect x="135" y="675" width="1" height="1"/><rect x="115" y="670" width="1" height="1"/><rect x="127" y="679" width="1" height="1"/><rect x="110" y="661" width="1" height="1"/><rect x="135" y="659" width="1" height="1"/><rect x="130" y="666" width="1" height="1"/><rect x="113" y="663" width="1" height="1"/><rect x="120" y="688" width="1" height="1"/><rect x="110" y="683" width="1" height="1"/><rect x="116" y="661" width="1" height="1"/><rect x="128" y="666" width="1" height="1"/><rect x="112" y="669" width="1" height="1"/><rect x="131" y="683" width="1" height="1"/><rect x="123" y="655" width="1" height="1"/><rect x="129" y="675" width="1" height="1"/><rect x="133" y="686" width="1" height="1"/><rect x="116" y="683" width="1" height="1"/><rect x="131" y="664" width="1" height="1"/><rect x="117" y="667" width="1" height="1"/><rect x="117" y="667" width="1" height="1"/><rect x="109" y="662" width="1" height="1"/><rect x="133" y="669" width="1" height="1"/><rect x="125" y="684" width="1" height="1"/><rect x="129" y="663" width="1" height="1"/><rect x="134" y="682" width="1" height="1"/><rect x="136" y="679" width="1" height="1"/><rect x="129" y="682" width="1" height="1"/><rect x="114" y="677" width="1" height="1"/><rect x="117" y="683" width="1" height="1"/><rect x="110" y="673" width="1" height="1"/><rect x="116" y="682" width="1" height="1"/><rect x="116" y="683" width="1" height="1"/><rect x="131" y="684" width="1" height="1"/><rect x="110" y="686" width="1" height="1"/><rect x="128" y="677" width="1" height="1"/><rect x="126" y="657" width="1" height="1"/><rect x="132" y="673" width="1" height="1"/><rect x="120" y="666" width="1" height="1"/><rect x="129" y="681" width="1" height="1"/><rect x="132" y="662" width="1" height="1"/><rect x="116" y="663" width="1" height="1"/><rect x="109" y="666" width="1" height="1"/><rect x="107" y="681" width="1" height="1"/><rect x="113" y="657" width="1" height="1"/><rect x="108" y="679" width="1" height="1"/><rect x="112" y="670" width="1" height="1"/><rect x="118" y="681" width="1" height="1"/><rect x="135" y="665" width="1" height="1"/><rect x="125" y="685" width="1" height="1"/><rect x="120" y="685" width="1" height="1"/><rect x="128" y="665" width="1" height="1"/><rect x="132" y="674" width="1" height="1"/><rect x="109" y="674" width="1" height="1"/><rect x="131" y="672" width="1" height="1"/><rect x="121" y="669" width="1" height="1"/><rect x="132" y="677" width="1" height="1"/><rect x="112" y="667" width="1" height="1"/><rect x="117" y="687" width="1" height="1"/><rect x="127" y="659" width="1" height="1"/><rect x="133" y="656" width="1" height="1"/><rect x="124" y="669" width="1" height="1"/><rect x="128" y="669" width="1" height="1"/><rect x="109" y="672" width="1" height="1"/><rect x="131" y="681" width="1" height="1"/><rect x="117" y="662" width="1" height="1"/><rect x="128" y="681" width="1" height="1"/><rect x="113" y="684" width="1" height="1"/><rect x="136" y="669" width="1" height="1"/><rect x="117" y="678" width="1" height="1"/><rect x="134" y="662" width="1" height="1"/><rect x="115" y="666" width="1" height="1"/><rect x="128" y="661" width="1" height="1"/><rect x="122" y="672" width="1" height="1"/><rect x="126" y="660" width="1" height="1"/><rect x="135" y="688" width="1" height="1"/><rect x="123" y="681" width="1" height="1"/><rect x="112" y="685" width="1" height="1"/><rect x="123" y="680" width="1" height="1"/><rect x="132" y="667" width="1" height="1"/><rect x="134" y="662" width="1" height="1"/><rect x="107" y="672" width="1" height="1"/><rect x="133" y="685" width="1" height="1"/><rect x="135" y="672" width="1" height="1"/><rect x="134" y="673" width="1" height="1"/><rect x="110" y="676" width="1" height="1"/><rect x="130" y="669" width="1" height="1"/><rect x="124" y="664" width="1" height="1"/><rect x="114" y="669" width="1" height="1"/><rect x="121" y="670" width="1" height="1"/><rect x="109" y="655" width="1" height="1"/><rect x="116" y="679" width="1" height="1"/><rect x="128" y="663" width="1" height="1"/><rect x="114" y="672" width="1" height="1"/><rect x="111" y="675" width="1" height="1"/><rect x="133" y="662" width="1" height="1"/><rect x="124" y="679" width="1" height="1"/><rect x="128" y="678" width="1" height="1"/><rect x="127" y="664" width="1" height="1"/><rect x="131" y="686" width="1" height="1"/><rect x="108" y="686" width="1" height="1"/><rect x="119" y="658" width="1" height="1"/><rect x="108" y="681" width="1" height="1"/><rect x="126" y="660" width="1" height="1"/><rect x="120" y="676" width="1" height="1"/><rect x="136" y="666" width="1" height="1"/><rect x="129" y="663" width="1" height="1"/><rect x="112" y="660" width="1" height="1"/><rect x="118" y="675" width="1" height="1"/><rect x="115" y="660" width="1" height="1"/><rect x="113" y="658" width="1" height="1"/><rect x="112" y="665" width="1" height="1"/><rect x="121" y="661" width="1" height="1"/><rect x="120" y="670" width="1" height="1"/><rect x="135" y="671" width="1" height="1"/><rect x="134" y="671" width="1" height="1"/><rect x="112" y="675" width="1" height="1"/><rect x="110" y="661" width="1" height="1"/><rect x="108" y="678" width="1" height="1"/><rect x="135" y="668" width="1" height="1"/><rect x="117" y="669" width="1" height="1"/><rect x="117" y="678" width="1" height="1"/><rect x="118" y="660" width="1" height="1"/><rect x="132" y="674" width="1" height="1"/><rect x="106" y="683" width="1" height="1"/><rect x="128" y="667" width="1" height="1"/><rect x="125" y="685" width="1" height="1"/><rect x="118" y="669" width="1" height="1"/><rect x="115" y="673" width="1" height="1"/><rect x="126" y="679" width="1" height="1"/><rect x="134" y="660" width="1" height="1"/><rect x="117" y="683" width="1" height="1"/><rect x="130" y="674" width="1" height="1"/><rect x="126" y="666" width="1" height="1"/><rect x="134" y="673" width="1" height="1"/><rect x="118" y="661" width="1" height="1"/><rect x="109" y="685" width="1" height="1"/><rect x="130" y="656" width="1" height="1"/><rect x="116" y="671" width="1" height="1"/><rect x="121" y="667" width="1" height="1"/><rect x="133" y="667" width="1" height="1"/><rect x="122" y="686" width="1" height="1"/><rect x="125" y="671" width="1" height="1"/><rect x="116" y="668" width="1" height="1"/><rect x="124" y="681" width="1" height="1"/><rect x="114" y="667" width="1" height="1"/><rect x="118" y="667" width="1" height="1"/><rect x="133" y="673" width="1" height="1"/><rect x="114" y="666" width="1" height="1"/><rect x="131" y="660" width="1" height="1"/><rect x="127" y="656" width="1" height="1"/><rect x="112" y="657" width="1" height="1"/><rect x="130" y="660" width="1" height="1"/><rect x="113" y="657" width="1" height="1"/><rect x="114" y="679" width="1" height="1"/><rect x="128" y="685" width="1" height="1"/><rect x="134" y="673" width="1" height="1"/><rect x="134" y="658" width="1" height="1"/><rect x="134" y="669" width="1" height="1"/><rect x="112" y="680" width="1" height="1"/><rect x="132" y="668" width="1" height="1"/><rect x="109" y="684" width="1" height="1"/><rect x="129" y="675" width="1" height="1"/><rect x="135" y="656" width="1" height="1"/><rect x="108" y="659" width="1" height="1"/><rect x="107" y="678" width="1" height="1"/><rect x="125" y="659" width="1" height="1"/><rect x="111" y="661" width="1" height="1"/><rect x="124" y="677" width="1" height="1"/><rect x="135" y="667" width="1" height="1"/><rect x="135" y="669" width="1" height="1"/><rect x="118" y="663" width="1" height="1"/><rect x="113" y="687" width="1" height="1"/><rect x="136" y="678" width="1" height="1"/><rect x="111" y="661" width="1" height="1"/><rect x="111" y="667" width="1" height="1"/><rect x="128" y="657" width="1" height="1"/><rect x="122" y="677" width="1" height="1"/></g><g fill="#000" shape-rendering="crispEdges"><rect x="110" y="673" width="1" height="1"/><rect x="108" y="684" width="1" height="1"/><rect x="109" y="672" width="2" height="1"/><rect x="110" y="685" width="1" height="1"/><rect x="108" y="678" width="1" height="1"/><rect x="109" y="655" width="1" height="1"/><rect x="110" y="667" width="1" height="1"/><rect x="109" y="679" width="1" height="1"/><rect x="108" y="671" width="2" height="1"/><rect x="108" y="667" width="1" height="1"/><rect x="111" y="662" width="2" height="1"/><rect x="111" y="678" width="1" height="1"/><rect x="109" y="673" width="2" height="1"/><rect x="107" y="683" width="2" height="1"/><rect x="111" y="683" width="2" height="1"/><rect x="108" y="682" width="1" height="1"/><rect x="107" y="680" width="1" height="1"/><rect x="111" y="674" width="2" height="1"/><rect x="110" y="655" width="2" height="1"/><rect x="107" y="664" width="1" height="1"/><rect x="109" y="669" width="1" height="1"/><rect x="106" y="670" width="2" height="1"/><rect x="106" y="671" width="2" height="1"/><rect x="107" y="677" width="2" height="1"/><rect x="110" y="662" width="2" height="1"/><rect x="110" y="678" width="2" height="1"/><rect x="108" y="683" width="2" height="1"/><rect x="109" y="678" width="2" height="1"/><rect x="106" y="683" width="1" height="1"/><rect x="106" y="688" width="2" height="1"/><rect x="108" y="683" width="1" height="1"/><rect x="107" y="672" width="1" height="1"/><rect x="108" y="658" width="2" height="1"/><rect x="107" y="675" width="1" height="1"/><rect x="110" y="666" width="1" height="1"/><rect x="111" y="676" width="1" height="1"/><rect x="109" y="683" width="1" height="1"/><rect x="108" y="660" width="2" height="1"/><rect x="108" y="681" width="1" height="1"/><rect x="107" y="657" width="2" height="1"/><rect x="111" y="675" width="1" height="1"/><rect x="109" y="673" width="1" height="1"/><rect x="107" y="669" width="2" height="1"/><rect x="110" y="678" width="2" height="1"/><rect x="107" y="670" width="2" height="1"/><rect x="111" y="660" width="1" height="1"/><rect x="109" y="668" width="1" height="1"/><rect x="111" y="685" width="1" height="1"/><rect x="108" y="664" width="2" height="1"/><rect x="106" y="671" width="2" height="1"/></g><g fill="#000" shape-rendering="crispEdges"><rect x="111" y="687" width="2" height="1"/><rect x="117" y="682" width="2" height="1"/><rect x="121" y="683" width="1" height="1"/><rect x="118" y="685" width="2" height="1"/><rect x="129" y="683" width="2" height="1"/><rect x="110" y="683" width="2" height="1"/><rect x="123" y="688" width="2" height="1"/><rect x="120" y="688" width="2" height="1"/><rect x="122" y="687" width="1" height="1"/><rect x="117" y="685" width="1" height="1"/><rect x="115" y="686" width="2" height="1"/><rect x="119" y="682" width="1" height="1"/><rect x="112" y="685" width="1" height="1"/><rect x="129" y="683" width="1" height="1"/><rect x="127" y="687" width="1" height="1"/><rect x="126" y="686" width="1" height="1"/><rect x="114" y="688" width="1" height="1"/><rect x="135" y="683" width="1" height="1"/><rect x="121" y="683" width="1" height="1"/><rect x="106" y="682" width="1" height="1"/><rect x="133" y="683" width="1" height="1"/><rect x="134" y="683" width="1" height="1"/><rect x="126" y="684" width="2" height="1"/><rect x="108" y="687" width="1" height="1"/><rect x="109" y="686" width="2" height="1"/><rect x="121" y="684" width="2" height="1"/><rect x="135" y="688" width="1" height="1"/><rect x="125" y="686" width="2" height="1"/><rect x="117" y="684" width="1" height="1"/><rect x="117" y="687" width="1" height="1"/><rect x="122" y="682" width="2" height="1"/><rect x="110" y="685" width="1" height="1"/><rect x="111" y="685" width="1" height="1"/><rect x="123" y="684" width="1" height="1"/><rect x="128" y="683" width="1" height="1"/><rect x="113" y="686" width="1" height="1"/><rect x="133" y="684" width="1" height="1"/><rect x="131" y="685" width="1" height="1"/><rect x="116" y="686" width="2" height="1"/><rect x="135" y="688" width="1" height="1"/><rect x="120" y="685" width="1" height="1"/><rect x="124" y="682" width="1" height="1"/><rect x="114" y="686" width="1" height="1"/><rect x="116" y="682" width="1" height="1"/><rect x="108" y="686" width="2" height="1"/><rect x="113" y="682" width="2" height="1"/><rect x="119" y="688" width="2" height="1"/><rect x="127" y="684" width="1" height="1"/><rect x="124" y="684" width="1" height="1"/><rect x="131" y="687" width="1" height="1"/></g></g>
<path d="M65.3,514.1 C65.3,517 65.2,520 64.7,523.2 C64,527 63,531 62.9,535.4 C62.8,540 63.8,544 63.5,547.5 C63,552 61,556 60.5,559.7 C59.8,565 59.8,572 59.9,577.9 C60.2,583 61.5,588 62.9,592.5 C64,597 65.2,603 65.9,608.3" fill="none" stroke="#000" stroke-width="1.15"/>
<path d="M69.6,514.1 C70,517 70.3,520 70.2,523.2 C69.6,527 67.8,531 67.2,534.2 C66.8,538 67.5,543 67.8,546.9" fill="none" stroke="#000" stroke-width="1.15"/>
<path d="M69,552.4 C68,556 66,559 65.3,562.1 C65,568 65.5,576 65.9,582.8 C66.5,588 69,592 71.4,596.1 C72,599 72,603 72,605.9" fill="none" stroke="#000" stroke-width="1.15"/>
<path d="M181.2,513.3 C182.5,517 183.5,520 184.7,523.1 C187,526 190,528 192.8,530.1 C195,532 197.5,534.5 199.1,537 C199.7,539 199.7,541 199.1,542.8 C198.5,543.5 197.5,544.5 196.2,545.1" fill="none" stroke="#000" stroke-width="1.15"/>
<path d="M185.3,512.2 C186,515 187,518 188.1,520.8 C190,523.5 193,525.5 196.2,527.8 C198.5,529.5 200.5,531.5 202,533.6 C203,536 203.3,538 203.2,540.5 C203,544 202.6,548 202.6,552.1 C202.6,556 202.8,560 203.2,564.8 C204.5,571 206.5,577 208.4,583.3" fill="none" stroke="#000" stroke-width="1.15"/>
<path d="M197.4,551.5 C197.4,554 197.4,556 197.4,557.9 C197.6,560 197.8,562.5 198,564.8 C199.5,572 202,579 204.4,585.1" fill="none" stroke="#000" stroke-width="1.15"/>
<path d="M68.4,547.5 C72,547.5 77,547.5 81.1,547.5 C83,545 85,542 86.6,539 C89,535.5 92,532 95.1,529.3 C98,527 102,526 106,525.1 C110,524.2 114,523.8 117,523.8 L120.6,573.1 C116,575 111,576.5 106,576.7 C102,576.5 98,575 95.1,573.1 C91.5,571 88,568.5 85.4,565.8 C82,562 78,556 74.4,551.8 C73,551.5 71,551.2 69.6,551.2" fill="#fff" stroke="#000" stroke-width="1.1"/>
<path d="M172.5,527.8 C176,533 180,538.5 184.7,543.4 C189,544 192.5,544.5 196.2,545.1 L197.4,551.5 C194,551 190,550 186.4,549.8 C185.5,550.2 184.5,550.5 183.5,550.9 C180,554 176.5,557 173.1,560.2" fill="#fff" stroke="#000" stroke-width="1.1"/>
<g fill="#000" shape-rendering="crispEdges"><rect x="97" y="565" width="1" height="1"/><rect x="89" y="571" width="1" height="1"/><rect x="110" y="567" width="1" height="1"/><rect x="100" y="568" width="1" height="1"/><rect x="94" y="568" width="1" height="1"/><rect x="102" y="568" width="1" height="1"/><rect x="102" y="573" width="1" height="1"/><rect x="108" y="566" width="1" height="1"/><rect x="100" y="571" width="1" height="1"/><rect x="97" y="569" width="1" height="1"/><rect x="95" y="573" width="1" height="1"/><rect x="98" y="565" width="1" height="1"/><rect x="100" y="575" width="1" height="1"/><rect x="90" y="566" width="1" height="1"/><rect x="90" y="567" width="1" height="1"/><rect x="96" y="573" width="1" height="1"/><rect x="99" y="573" width="1" height="1"/><rect x="96" y="566" width="1" height="1"/><rect x="116" y="572" width="1" height="1"/><rect x="101" y="566" width="1" height="1"/><rect x="106" y="576" width="1" height="1"/><rect x="92" y="566" width="1" height="1"/></g><g fill="#000" shape-rendering="crispEdges"><rect x="104" y="529" width="1" height="1"/><rect x="98" y="526" width="1" height="1"/><rect x="112" y="529" width="1" height="1"/><rect x="109" y="530" width="1" height="1"/><rect x="99" y="530" width="1" height="1"/><rect x="101" y="526" width="1" height="1"/><rect x="111" y="527" width="1" height="1"/><rect x="100" y="530" width="1" height="1"/></g><g fill="#000" shape-rendering="crispEdges"><rect x="85" y="548" width="1" height="1"/><rect x="83" y="544" width="1" height="1"/><rect x="83" y="541" width="1" height="1"/><rect x="86" y="544" width="1" height="1"/><rect x="84" y="549" width="1" height="1"/><rect x="87" y="543" width="1" height="1"/></g>
<defs><clipPath id="lzclip"><path d="M121,514 C132,510.5 158,510 166,513.5 C172,516 174.5,522 174.8,535 C175,550 175,562 172.5,570 C169,577 160,579.5 145,579.5 C132,579.5 124,577 120,572 C116,566 115,555 115,540 C115,528 115.5,519 121,514 Z"/></clipPath></defs>
<path d="M121,514 C132,510.5 158,510 166,513.5 C172,516 174.5,522 174.8,535 C175,550 175,562 172.5,570 C169,577 160,579.5 145,579.5 C132,579.5 124,577 120,572 C116,566 115,555 115,540 C115,528 115.5,519 121,514 Z" fill="#000"/>
<g clip-path="url(#lzclip)"><g fill="#fff" shape-rendering="crispEdges"><rect x="172" y="576" width="1" height="1"/><rect x="170" y="575" width="1" height="1"/><rect x="170" y="574" width="1" height="1"/><rect x="174" y="569" width="1" height="1"/><rect x="174" y="570" width="1" height="1"/><rect x="171" y="572" width="1" height="1"/><rect x="171" y="573" width="1" height="1"/><rect x="176" y="568" width="1" height="1"/><rect x="178" y="567" width="1" height="1"/><rect x="180" y="566" width="1" height="1"/><rect x="186" y="565" width="1" height="1"/><rect x="190" y="563" width="1" height="1"/><rect x="192" y="563" width="1" height="1"/><rect x="192" y="562" width="1" height="1"/><rect x="194" y="562" width="1" height="1"/><rect x="195" y="562" width="1" height="1"/><rect x="198" y="561" width="1" height="1"/><rect x="199" y="560" width="1" height="1"/><rect x="199" y="560" width="1" height="1"/><rect x="114" y="560" width="1" height="1"/><rect x="115" y="561" width="1" height="1"/><rect x="116" y="561" width="1" height="1"/><rect x="117" y="562" width="1" height="1"/><rect x="119" y="566" width="1" height="1"/><rect x="114" y="572" width="1" height="1"/><rect x="117" y="570" width="1" height="1"/><rect x="117" y="570" width="1" height="1"/><rect x="118" y="568" width="1" height="1"/><rect x="119" y="568" width="1" height="1"/><rect x="128" y="552" width="1" height="1"/><rect x="127" y="553" width="1" height="1"/><rect x="125" y="556" width="1" height="1"/><rect x="124" y="557" width="1" height="1"/><rect x="124" y="558" width="1" height="1"/><rect x="131" y="554" width="1" height="1"/><rect x="132" y="554" width="1" height="1"/><rect x="127" y="561" width="1" height="1"/><rect x="127" y="561" width="1" height="1"/><rect x="125" y="560" width="1" height="1"/><rect x="124" y="559" width="1" height="1"/><rect x="123" y="559" width="1" height="1"/><rect x="129" y="561" width="1" height="1"/><rect x="129" y="560" width="1" height="1"/><rect x="133" y="558" width="1" height="1"/><rect x="128" y="568" width="1" height="1"/><rect x="129" y="568" width="1" height="1"/><rect x="130" y="568" width="1" height="1"/><rect x="131" y="566" width="1" height="1"/><rect x="132" y="566" width="1" height="1"/><rect x="128" y="568" width="1" height="1"/><rect x="128" y="566" width="1" height="1"/><rect x="128" y="564" width="1" height="1"/><rect x="134" y="565" width="1" height="1"/><rect x="134" y="563" width="1" height="1"/><rect x="135" y="562" width="1" height="1"/><rect x="134" y="561" width="1" height="1"/><rect x="134" y="560" width="1" height="1"/><rect x="133" y="558" width="1" height="1"/><rect x="113" y="534" width="1" height="1"/><rect x="114" y="535" width="1" height="1"/><rect x="114" y="536" width="1" height="1"/><rect x="113" y="534" width="1" height="1"/><rect x="112" y="533" width="1" height="1"/><rect x="111" y="534" width="1" height="1"/><rect x="110" y="534" width="1" height="1"/><rect x="109" y="534" width="1" height="1"/><rect x="108" y="534" width="1" height="1"/><rect x="106" y="535" width="1" height="1"/><rect x="105" y="534" width="1" height="1"/><rect x="104" y="534" width="1" height="1"/><rect x="102" y="534" width="1" height="1"/><rect x="99" y="535" width="1" height="1"/><rect x="96" y="535" width="1" height="1"/><rect x="92" y="535" width="1" height="1"/><rect x="91" y="534" width="1" height="1"/><rect x="90" y="535" width="1" height="1"/><rect x="87" y="535" width="1" height="1"/><rect x="86" y="535" width="1" height="1"/><rect x="85" y="534" width="1" height="1"/><rect x="85" y="535" width="1" height="1"/><rect x="81" y="535" width="1" height="1"/><rect x="80" y="535" width="1" height="1"/><rect x="74" y="535" width="1" height="1"/><rect x="73" y="535" width="1" height="1"/><rect x="72" y="535" width="1" height="1"/><rect x="71" y="535" width="1" height="1"/><rect x="69" y="535" width="1" height="1"/><rect x="68" y="536" width="1" height="1"/><rect x="65" y="536" width="1" height="1"/><rect x="65" y="536" width="1" height="1"/><rect x="62" y="535" width="1" height="1"/><rect x="59" y="536" width="1" height="1"/><rect x="58" y="536" width="1" height="1"/><rect x="57" y="537" width="1" height="1"/><rect x="56" y="536" width="1" height="1"/><rect x="53" y="536" width="1" height="1"/><rect x="52" y="536" width="1" height="1"/><rect x="49" y="536" width="1" height="1"/><rect x="49" y="536" width="1" height="1"/><rect x="44" y="536" width="1" height="1"/><rect x="38" y="537" width="1" height="1"/><rect x="36" y="537" width="1" height="1"/><rect x="35" y="537" width="1" height="1"/><rect x="34" y="537" width="1" height="1"/><rect x="30" y="537" width="1" height="1"/><rect x="28" y="536" width="1" height="1"/><rect x="28" y="537" width="1" height="1"/><rect x="24" y="537" width="1" height="1"/><rect x="23" y="537" width="1" height="1"/><rect x="21" y="537" width="1" height="1"/><rect x="19" y="537" width="1" height="1"/><rect x="18" y="537" width="1" height="1"/><rect x="17" y="536" width="1" height="1"/><rect x="16" y="537" width="1" height="1"/><rect x="15" y="537" width="1" height="1"/><rect x="14" y="537" width="1" height="1"/><rect x="11" y="538" width="1" height="1"/><rect x="10" y="538" width="1" height="1"/><rect x="8" y="537" width="1" height="1"/><rect x="6" y="537" width="1" height="1"/><rect x="5" y="538" width="1" height="1"/><rect x="4" y="538" width="1" height="1"/><rect x="2" y="538" width="1" height="1"/><rect x="0" y="538" width="1" height="1"/><rect x="-0" y="538" width="1" height="1"/><rect x="-4" y="537" width="1" height="1"/><rect x="-5" y="538" width="1" height="1"/><rect x="-5" y="538" width="1" height="1"/><rect x="-7" y="538" width="1" height="1"/><rect x="-9" y="538" width="1" height="1"/><rect x="-10" y="538" width="1" height="1"/><rect x="-12" y="539" width="1" height="1"/><rect x="-14" y="538" width="1" height="1"/><rect x="-17" y="538" width="1" height="1"/><rect x="-19" y="539" width="1" height="1"/><rect x="-20" y="538" width="1" height="1"/><rect x="-21" y="538" width="1" height="1"/><rect x="-22" y="538" width="1" height="1"/><rect x="-24" y="538" width="1" height="1"/><rect x="-25" y="538" width="1" height="1"/><rect x="-26" y="538" width="1" height="1"/><rect x="-27" y="538" width="1" height="1"/><rect x="-28" y="538" width="1" height="1"/><rect x="-29" y="539" width="1" height="1"/><rect x="-30" y="539" width="1" height="1"/><rect x="-31" y="538" width="1" height="1"/><rect x="-32" y="539" width="1" height="1"/><rect x="-35" y="539" width="1" height="1"/><rect x="-37" y="539" width="1" height="1"/><rect x="-38" y="539" width="1" height="1"/><rect x="-39" y="539" width="1" height="1"/><rect x="-40" y="539" width="1" height="1"/><rect x="-41" y="539" width="1" height="1"/><rect x="-44" y="540" width="1" height="1"/><rect x="-46" y="539" width="1" height="1"/><rect x="-48" y="539" width="1" height="1"/><rect x="-49" y="539" width="1" height="1"/><rect x="-50" y="539" width="1" height="1"/><rect x="-51" y="539" width="1" height="1"/><rect x="-52" y="539" width="1" height="1"/><rect x="-53" y="539" width="1" height="1"/><rect x="-55" y="540" width="1" height="1"/><rect x="-57" y="539" width="1" height="1"/><rect x="-59" y="539" width="1" height="1"/><rect x="-59" y="540" width="1" height="1"/><rect x="-61" y="539" width="1" height="1"/><rect x="-63" y="539" width="1" height="1"/><rect x="-63" y="540" width="1" height="1"/><rect x="-65" y="540" width="1" height="1"/><rect x="-67" y="540" width="1" height="1"/><rect x="-68" y="539" width="1" height="1"/><rect x="-69" y="540" width="1" height="1"/><rect x="-70" y="540" width="1" height="1"/><rect x="-71" y="540" width="1" height="1"/><rect x="-73" y="540" width="1" height="1"/><rect x="-73" y="540" width="1" height="1"/><rect x="-74" y="540" width="1" height="1"/><rect x="-77" y="541" width="1" height="1"/><rect x="-77" y="540" width="1" height="1"/><rect x="-81" y="540" width="1" height="1"/><rect x="-83" y="540" width="1" height="1"/><rect x="-84" y="540" width="1" height="1"/><rect x="-85" y="541" width="1" height="1"/><rect x="-86" y="541" width="1" height="1"/><rect x="-88" y="540" width="1" height="1"/><rect x="-92" y="540" width="1" height="1"/><rect x="-92" y="541" width="1" height="1"/><rect x="-94" y="541" width="1" height="1"/><rect x="-95" y="541" width="1" height="1"/><rect x="-98" y="541" width="1" height="1"/><rect x="-100" y="541" width="1" height="1"/><rect x="-100" y="541" width="1" height="1"/><rect x="-101" y="541" width="1" height="1"/><rect x="-106" y="541" width="1" height="1"/><rect x="-107" y="541" width="1" height="1"/><rect x="-109" y="541" width="1" height="1"/><rect x="-111" y="541" width="1" height="1"/><rect x="-112" y="541" width="1" height="1"/><rect x="-113" y="542" width="1" height="1"/><rect x="115" y="537" width="1" height="1"/><rect x="113" y="536" width="1" height="1"/><rect x="112" y="537" width="1" height="1"/><rect x="106" y="538" width="1" height="1"/><rect x="105" y="537" width="1" height="1"/><rect x="102" y="538" width="1" height="1"/><rect x="99" y="538" width="1" height="1"/><rect x="98" y="538" width="1" height="1"/><rect x="97" y="539" width="1" height="1"/><rect x="95" y="539" width="1" height="1"/><rect x="94" y="539" width="1" height="1"/><rect x="93" y="539" width="1" height="1"/><rect x="92" y="539" width="1" height="1"/><rect x="87" y="539" width="1" height="1"/><rect x="86" y="539" width="1" height="1"/><rect x="85" y="540" width="1" height="1"/><rect x="84" y="540" width="1" height="1"/><rect x="81" y="539" width="1" height="1"/><rect x="77" y="540" width="1" height="1"/><rect x="76" y="540" width="1" height="1"/><rect x="67" y="541" width="1" height="1"/><rect x="67" y="541" width="1" height="1"/><rect x="63" y="541" width="1" height="1"/><rect x="62" y="541" width="1" height="1"/><rect x="60" y="542" width="1" height="1"/><rect x="59" y="542" width="1" height="1"/><rect x="57" y="542" width="1" height="1"/><rect x="56" y="542" width="1" height="1"/><rect x="55" y="542" width="1" height="1"/><rect x="54" y="542" width="1" height="1"/><rect x="52" y="542" width="1" height="1"/><rect x="118" y="512" width="1" height="1"/><rect x="119" y="511" width="1" height="1"/><rect x="121" y="510" width="1" height="1"/><rect x="121" y="509" width="1" height="1"/><rect x="123" y="507" width="1" height="1"/><rect x="154" y="532" width="1" height="1"/><rect x="152" y="534" width="1" height="1"/><rect x="150" y="534" width="1" height="1"/><rect x="153" y="532" width="1" height="1"/><rect x="153" y="531" width="1" height="1"/><rect x="151" y="535" width="1" height="1"/><rect x="150" y="534" width="1" height="1"/><rect x="148" y="531" width="1" height="1"/><rect x="146" y="529" width="1" height="1"/><rect x="146" y="529" width="1" height="1"/><rect x="144" y="528" width="1" height="1"/><rect x="153" y="531" width="1" height="1"/><rect x="152" y="529" width="1" height="1"/><rect x="153" y="528" width="1" height="1"/><rect x="152" y="527" width="1" height="1"/><rect x="151" y="525" width="1" height="1"/><rect x="149" y="526" width="1" height="1"/><rect x="147" y="526" width="1" height="1"/><rect x="144" y="527" width="1" height="1"/><rect x="151" y="526" width="1" height="1"/><rect x="152" y="523" width="1" height="1"/><rect x="152" y="522" width="1" height="1"/><rect x="120" y="525" width="1" height="1"/><rect x="120" y="525" width="1" height="1"/><rect x="120" y="524" width="1" height="1"/><rect x="120" y="523" width="1" height="1"/><rect x="121" y="522" width="1" height="1"/><rect x="122" y="520" width="1" height="1"/><rect x="122" y="518" width="1" height="1"/><rect x="122" y="519" width="1" height="1"/><rect x="120" y="516" width="1" height="1"/><rect x="118" y="515" width="1" height="1"/><rect x="117" y="515" width="1" height="1"/><rect x="116" y="515" width="1" height="1"/><rect x="115" y="515" width="1" height="1"/><rect x="114" y="515" width="1" height="1"/><rect x="110" y="515" width="1" height="1"/><rect x="109" y="515" width="1" height="1"/><rect x="108" y="515" width="1" height="1"/><rect x="107" y="515" width="1" height="1"/><rect x="106" y="516" width="1" height="1"/><rect x="105" y="515" width="1" height="1"/><rect x="104" y="515" width="1" height="1"/><rect x="103" y="515" width="1" height="1"/><rect x="101" y="515" width="1" height="1"/><rect x="100" y="515" width="1" height="1"/><rect x="99" y="515" width="1" height="1"/><rect x="98" y="515" width="1" height="1"/><rect x="96" y="516" width="1" height="1"/><rect x="94" y="516" width="1" height="1"/><rect x="91" y="516" width="1" height="1"/><rect x="90" y="515" width="1" height="1"/><rect x="120" y="525" width="1" height="1"/><rect x="119" y="524" width="1" height="1"/><rect x="116" y="523" width="1" height="1"/><rect x="114" y="523" width="1" height="1"/><rect x="111" y="522" width="1" height="1"/><rect x="109" y="522" width="1" height="1"/><rect x="109" y="521" width="1" height="1"/><rect x="108" y="521" width="1" height="1"/><rect x="103" y="520" width="1" height="1"/><rect x="103" y="520" width="1" height="1"/><rect x="100" y="518" width="1" height="1"/><rect x="99" y="519" width="1" height="1"/><rect x="97" y="518" width="1" height="1"/><rect x="96" y="517" width="1" height="1"/><rect x="92" y="516" width="1" height="1"/><rect x="92" y="516" width="1" height="1"/><rect x="91" y="515" width="1" height="1"/><rect x="118" y="513" width="1" height="1"/><rect x="118" y="511" width="1" height="1"/><rect x="123" y="519" width="1" height="1"/><rect x="123" y="518" width="1" height="1"/><rect x="124" y="517" width="1" height="1"/><rect x="125" y="517" width="1" height="1"/><rect x="124" y="510" width="1" height="1"/><rect x="123" y="511" width="1" height="1"/><rect x="125" y="516" width="1" height="1"/><rect x="125" y="517" width="1" height="1"/><rect x="167" y="548" width="1" height="1"/><rect x="167" y="549" width="1" height="1"/><rect x="167" y="547" width="1" height="1"/><rect x="165" y="547" width="1" height="1"/><rect x="165" y="547" width="1" height="1"/><rect x="163" y="547" width="1" height="1"/><rect x="162" y="548" width="1" height="1"/><rect x="161" y="549" width="1" height="1"/><rect x="169" y="551" width="1" height="1"/><rect x="164" y="552" width="1" height="1"/><rect x="160" y="552" width="1" height="1"/><rect x="161" y="549" width="1" height="1"/><rect x="161" y="551" width="1" height="1"/><rect x="160" y="552" width="1" height="1"/><rect x="137" y="570" width="1" height="1"/><rect x="136" y="570" width="1" height="1"/><rect x="135" y="571" width="1" height="1"/><rect x="135" y="572" width="1" height="1"/><rect x="133" y="573" width="1" height="1"/><rect x="133" y="573" width="1" height="1"/><rect x="132" y="574" width="1" height="1"/><rect x="131" y="575" width="1" height="1"/><rect x="135" y="577" width="1" height="1"/><rect x="137" y="574" width="1" height="1"/><rect x="139" y="571" width="1" height="1"/><rect x="135" y="578" width="1" height="1"/><rect x="134" y="577" width="1" height="1"/><rect x="133" y="576" width="1" height="1"/><rect x="132" y="577" width="1" height="1"/><rect x="140" y="570" width="1" height="1"/><rect x="140" y="564" width="1" height="1"/><rect x="140" y="566" width="1" height="1"/><rect x="140" y="568" width="1" height="1"/><rect x="140" y="570" width="1" height="1"/><rect x="139" y="571" width="1" height="1"/><rect x="136" y="570" width="1" height="1"/><rect x="128" y="568" width="1" height="1"/><rect x="127" y="568" width="1" height="1"/><rect x="127" y="570" width="1" height="1"/><rect x="125" y="571" width="1" height="1"/><rect x="125" y="571" width="1" height="1"/><rect x="126" y="572" width="1" height="1"/><rect x="127" y="573" width="1" height="1"/><rect x="128" y="573" width="1" height="1"/><rect x="128" y="574" width="1" height="1"/><rect x="130" y="575" width="1" height="1"/><rect x="130" y="576" width="1" height="1"/><rect x="162" y="554" width="1" height="1"/><rect x="160" y="554" width="1" height="1"/><rect x="162" y="559" width="1" height="1"/><rect x="163" y="560" width="1" height="1"/><rect x="163" y="561" width="1" height="1"/><rect x="154" y="556" width="1" height="1"/><rect x="156" y="556" width="1" height="1"/><rect x="157" y="555" width="1" height="1"/><rect x="157" y="555" width="1" height="1"/><rect x="159" y="554" width="1" height="1"/><rect x="155" y="556" width="1" height="1"/><rect x="155" y="557" width="1" height="1"/><rect x="157" y="560" width="1" height="1"/><rect x="157" y="561" width="1" height="1"/><rect x="159" y="564" width="1" height="1"/><rect x="159" y="563" width="1" height="1"/><rect x="161" y="564" width="1" height="1"/><rect x="124" y="573" width="1" height="1"/><rect x="124" y="576" width="1" height="1"/><rect x="122" y="576" width="1" height="1"/><rect x="122" y="579" width="1" height="1"/><rect x="125" y="571" width="1" height="1"/><rect x="124" y="571" width="1" height="1"/><rect x="122" y="579" width="1" height="1"/><rect x="121" y="579" width="1" height="1"/><rect x="119" y="581" width="1" height="1"/><rect x="118" y="581" width="1" height="1"/><rect x="115" y="583" width="1" height="1"/><rect x="114" y="584" width="1" height="1"/><rect x="112" y="585" width="1" height="1"/><rect x="110" y="586" width="1" height="1"/><rect x="110" y="587" width="1" height="1"/><rect x="109" y="588" width="1" height="1"/><rect x="111" y="585" width="1" height="1"/><rect x="113" y="582" width="1" height="1"/><rect x="113" y="581" width="1" height="1"/><rect x="115" y="579" width="1" height="1"/><rect x="115" y="578" width="1" height="1"/><rect x="116" y="577" width="1" height="1"/><rect x="126" y="583" width="1" height="1"/><rect x="125" y="583" width="1" height="1"/><rect x="124" y="582" width="1" height="1"/><rect x="124" y="580" width="1" height="1"/><rect x="130" y="581" width="1" height="1"/><rect x="118" y="561" width="1" height="1"/><rect x="120" y="560" width="1" height="1"/><rect x="120" y="560" width="1" height="1"/><rect x="120" y="567" width="1" height="1"/><rect x="120" y="568" width="1" height="1"/><rect x="121" y="569" width="1" height="1"/><rect x="123" y="569" width="1" height="1"/><rect x="124" y="570" width="1" height="1"/><rect x="114" y="573" width="1" height="1"/><rect x="115" y="573" width="1" height="1"/><rect x="115" y="574" width="1" height="1"/><rect x="116" y="574" width="1" height="1"/><rect x="117" y="575" width="1" height="1"/><rect x="114" y="560" width="1" height="1"/><rect x="114" y="560" width="1" height="1"/><rect x="115" y="557" width="1" height="1"/><rect x="115" y="556" width="1" height="1"/><rect x="115" y="555" width="1" height="1"/><rect x="116" y="554" width="1" height="1"/><rect x="117" y="553" width="1" height="1"/><rect x="117" y="552" width="1" height="1"/><rect x="118" y="550" width="1" height="1"/><rect x="129" y="552" width="1" height="1"/><rect x="128" y="551" width="1" height="1"/><rect x="125" y="548" width="1" height="1"/><rect x="138" y="546" width="1" height="1"/><rect x="138" y="545" width="1" height="1"/><rect x="138" y="545" width="1" height="1"/><rect x="138" y="547" width="1" height="1"/><rect x="138" y="548" width="1" height="1"/><rect x="137" y="549" width="1" height="1"/><rect x="138" y="545" width="1" height="1"/><rect x="137" y="545" width="1" height="1"/><rect x="136" y="545" width="1" height="1"/><rect x="135" y="546" width="1" height="1"/><rect x="133" y="546" width="1" height="1"/><rect x="131" y="547" width="1" height="1"/><rect x="131" y="547" width="1" height="1"/><rect x="129" y="547" width="1" height="1"/><rect x="128" y="547" width="1" height="1"/><rect x="132" y="553" width="1" height="1"/><rect x="135" y="551" width="1" height="1"/><rect x="135" y="552" width="1" height="1"/><rect x="127" y="547" width="1" height="1"/><rect x="115" y="537" width="1" height="1"/><rect x="114" y="542" width="1" height="1"/><rect x="114" y="539" width="1" height="1"/><rect x="115" y="538" width="1" height="1"/><rect x="115" y="537" width="1" height="1"/><rect x="119" y="548" width="1" height="1"/><rect x="117" y="547" width="1" height="1"/><rect x="115" y="544" width="1" height="1"/><rect x="167" y="514" width="1" height="1"/><rect x="166" y="515" width="1" height="1"/><rect x="167" y="511" width="1" height="1"/><rect x="169" y="511" width="1" height="1"/><rect x="172" y="511" width="1" height="1"/><rect x="169" y="517" width="1" height="1"/><rect x="170" y="516" width="1" height="1"/><rect x="171" y="515" width="1" height="1"/><rect x="171" y="514" width="1" height="1"/><rect x="172" y="511" width="1" height="1"/><rect x="172" y="512" width="1" height="1"/><rect x="171" y="513" width="1" height="1"/><rect x="160" y="515" width="1" height="1"/><rect x="164" y="515" width="1" height="1"/><rect x="164" y="515" width="1" height="1"/><rect x="170" y="519" width="1" height="1"/><rect x="171" y="519" width="1" height="1"/><rect x="173" y="518" width="1" height="1"/><rect x="175" y="518" width="1" height="1"/><rect x="177" y="517" width="1" height="1"/><rect x="178" y="517" width="1" height="1"/><rect x="181" y="517" width="1" height="1"/><rect x="184" y="516" width="1" height="1"/><rect x="186" y="516" width="1" height="1"/><rect x="169" y="521" width="1" height="1"/><rect x="169" y="522" width="1" height="1"/><rect x="172" y="523" width="1" height="1"/><rect x="175" y="522" width="1" height="1"/><rect x="176" y="522" width="1" height="1"/><rect x="177" y="521" width="1" height="1"/><rect x="179" y="520" width="1" height="1"/><rect x="179" y="519" width="1" height="1"/><rect x="181" y="519" width="1" height="1"/><rect x="181" y="518" width="1" height="1"/><rect x="183" y="518" width="1" height="1"/><rect x="168" y="517" width="1" height="1"/><rect x="170" y="518" width="1" height="1"/><rect x="170" y="519" width="1" height="1"/><rect x="173" y="514" width="1" height="1"/><rect x="174" y="514" width="1" height="1"/><rect x="175" y="514" width="1" height="1"/><rect x="178" y="514" width="1" height="1"/><rect x="181" y="515" width="1" height="1"/><rect x="182" y="515" width="1" height="1"/><rect x="185" y="516" width="1" height="1"/><rect x="176" y="526" width="1" height="1"/><rect x="175" y="524" width="1" height="1"/><rect x="174" y="524" width="1" height="1"/><rect x="162" y="518" width="1" height="1"/><rect x="162" y="520" width="1" height="1"/><rect x="170" y="521" width="1" height="1"/><rect x="158" y="525" width="1" height="1"/><rect x="160" y="524" width="1" height="1"/><rect x="160" y="524" width="1" height="1"/><rect x="161" y="524" width="1" height="1"/><rect x="159" y="523" width="1" height="1"/><rect x="159" y="522" width="1" height="1"/><rect x="155" y="523" width="1" height="1"/><rect x="154" y="522" width="1" height="1"/><rect x="152" y="520" width="1" height="1"/><rect x="152" y="521" width="1" height="1"/><rect x="152" y="522" width="1" height="1"/><rect x="161" y="524" width="1" height="1"/><rect x="159" y="522" width="1" height="1"/><rect x="159" y="522" width="1" height="1"/><rect x="158" y="521" width="1" height="1"/><rect x="157" y="518" width="1" height="1"/><rect x="157" y="517" width="1" height="1"/><rect x="156" y="516" width="1" height="1"/><rect x="155" y="515" width="1" height="1"/><rect x="152" y="519" width="1" height="1"/><rect x="153" y="517" width="1" height="1"/><rect x="154" y="513" width="1" height="1"/><rect x="155" y="515" width="1" height="1"/><rect x="152" y="512" width="1" height="1"/><rect x="152" y="512" width="1" height="1"/><rect x="148" y="509" width="1" height="1"/><rect x="162" y="523" width="1" height="1"/><rect x="161" y="524" width="1" height="1"/><rect x="155" y="516" width="1" height="1"/><rect x="173" y="554" width="1" height="1"/><rect x="174" y="554" width="1" height="1"/><rect x="175" y="555" width="1" height="1"/><rect x="176" y="555" width="1" height="1"/><rect x="177" y="555" width="1" height="1"/><rect x="178" y="556" width="1" height="1"/><rect x="180" y="556" width="1" height="1"/><rect x="171" y="562" width="1" height="1"/><rect x="169" y="560" width="1" height="1"/><rect x="168" y="560" width="1" height="1"/><rect x="171" y="561" width="1" height="1"/><rect x="172" y="562" width="1" height="1"/><rect x="173" y="561" width="1" height="1"/><rect x="174" y="559" width="1" height="1"/><rect x="175" y="559" width="1" height="1"/><rect x="177" y="558" width="1" height="1"/><rect x="177" y="556" width="1" height="1"/><rect x="179" y="556" width="1" height="1"/><rect x="179" y="555" width="1" height="1"/><rect x="166" y="559" width="1" height="1"/><rect x="167" y="557" width="1" height="1"/><rect x="168" y="556" width="1" height="1"/><rect x="162" y="555" width="1" height="1"/><rect x="165" y="555" width="1" height="1"/><rect x="166" y="556" width="1" height="1"/><rect x="167" y="556" width="1" height="1"/><rect x="169" y="552" width="1" height="1"/><rect x="170" y="553" width="1" height="1"/><rect x="171" y="554" width="1" height="1"/><rect x="160" y="553" width="1" height="1"/><rect x="169" y="565" width="1" height="1"/><rect x="170" y="563" width="1" height="1"/><rect x="170" y="563" width="1" height="1"/><rect x="172" y="562" width="1" height="1"/><rect x="167" y="563" width="1" height="1"/><rect x="166" y="562" width="1" height="1"/><rect x="174" y="567" width="1" height="1"/><rect x="171" y="567" width="1" height="1"/><rect x="169" y="564" width="1" height="1"/><rect x="180" y="556" width="1" height="1"/><rect x="165" y="561" width="1" height="1"/><rect x="179" y="530" width="1" height="1"/><rect x="176" y="531" width="1" height="1"/><rect x="175" y="532" width="1" height="1"/><rect x="175" y="532" width="1" height="1"/><rect x="174" y="532" width="1" height="1"/><rect x="175" y="534" width="1" height="1"/><rect x="174" y="535" width="1" height="1"/><rect x="177" y="540" width="1" height="1"/><rect x="177" y="539" width="1" height="1"/><rect x="175" y="537" width="1" height="1"/><rect x="170" y="546" width="1" height="1"/><rect x="167" y="547" width="1" height="1"/><rect x="167" y="541" width="1" height="1"/><rect x="170" y="546" width="1" height="1"/><rect x="172" y="546" width="1" height="1"/><rect x="167" y="540" width="1" height="1"/><rect x="168" y="540" width="1" height="1"/><rect x="171" y="542" width="1" height="1"/><rect x="172" y="542" width="1" height="1"/><rect x="173" y="544" width="1" height="1"/><rect x="174" y="543" width="1" height="1"/><rect x="167" y="547" width="1" height="1"/><rect x="167" y="546" width="1" height="1"/><rect x="172" y="553" width="1" height="1"/><rect x="172" y="551" width="1" height="1"/><rect x="171" y="550" width="1" height="1"/><rect x="171" y="548" width="1" height="1"/><rect x="178" y="552" width="1" height="1"/><rect x="178" y="552" width="1" height="1"/><rect x="177" y="550" width="1" height="1"/><rect x="174" y="547" width="1" height="1"/><rect x="173" y="545" width="1" height="1"/><rect x="178" y="540" width="1" height="1"/><rect x="176" y="542" width="1" height="1"/><rect x="174" y="542" width="1" height="1"/><rect x="175" y="535" width="1" height="1"/><rect x="173" y="536" width="1" height="1"/><rect x="171" y="538" width="1" height="1"/><rect x="171" y="538" width="1" height="1"/><rect x="170" y="540" width="1" height="1"/><rect x="170" y="540" width="1" height="1"/><rect x="129" y="523" width="1" height="1"/><rect x="128" y="524" width="1" height="1"/><rect x="128" y="524" width="1" height="1"/><rect x="129" y="524" width="1" height="1"/><rect x="130" y="522" width="1" height="1"/><rect x="127" y="523" width="1" height="1"/><rect x="128" y="522" width="1" height="1"/><rect x="128" y="521" width="1" height="1"/><rect x="128" y="521" width="1" height="1"/><rect x="125" y="525" width="1" height="1"/><rect x="127" y="526" width="1" height="1"/><rect x="128" y="527" width="1" height="1"/><rect x="130" y="528" width="1" height="1"/><rect x="130" y="530" width="1" height="1"/><rect x="131" y="527" width="1" height="1"/><rect x="132" y="526" width="1" height="1"/><rect x="132" y="526" width="1" height="1"/><rect x="129" y="524" width="1" height="1"/><rect x="134" y="521" width="1" height="1"/><rect x="132" y="521" width="1" height="1"/><rect x="131" y="521" width="1" height="1"/><rect x="135" y="521" width="1" height="1"/><rect x="134" y="524" width="1" height="1"/><rect x="133" y="525" width="1" height="1"/><rect x="132" y="526" width="1" height="1"/><rect x="120" y="524" width="1" height="1"/><rect x="123" y="525" width="1" height="1"/><rect x="125" y="525" width="1" height="1"/><rect x="126" y="525" width="1" height="1"/><rect x="125" y="517" width="1" height="1"/><rect x="127" y="519" width="1" height="1"/><rect x="128" y="520" width="1" height="1"/><rect x="130" y="515" width="1" height="1"/><rect x="131" y="516" width="1" height="1"/><rect x="131" y="517" width="1" height="1"/><rect x="134" y="521" width="1" height="1"/><rect x="130" y="515" width="1" height="1"/><rect x="129" y="515" width="1" height="1"/><rect x="126" y="517" width="1" height="1"/><rect x="134" y="521" width="1" height="1"/><rect x="119" y="525" width="1" height="1"/><rect x="120" y="525" width="1" height="1"/><rect x="120" y="526" width="1" height="1"/><rect x="119" y="526" width="1" height="1"/><rect x="118" y="527" width="1" height="1"/><rect x="115" y="528" width="1" height="1"/><rect x="115" y="530" width="1" height="1"/><rect x="113" y="534" width="1" height="1"/><rect x="149" y="539" width="1" height="1"/><rect x="147" y="540" width="1" height="1"/><rect x="147" y="541" width="1" height="1"/><rect x="146" y="541" width="1" height="1"/><rect x="142" y="545" width="1" height="1"/><rect x="142" y="546" width="1" height="1"/><rect x="149" y="539" width="1" height="1"/><rect x="149" y="540" width="1" height="1"/><rect x="149" y="539" width="1" height="1"/><rect x="148" y="541" width="1" height="1"/><rect x="148" y="544" width="1" height="1"/><rect x="147" y="545" width="1" height="1"/><rect x="147" y="546" width="1" height="1"/><rect x="141" y="546" width="1" height="1"/><rect x="142" y="547" width="1" height="1"/><rect x="144" y="547" width="1" height="1"/><rect x="145" y="550" width="1" height="1"/><rect x="146" y="551" width="1" height="1"/><rect x="145" y="552" width="1" height="1"/><rect x="145" y="552" width="1" height="1"/><rect x="143" y="551" width="1" height="1"/><rect x="142" y="552" width="1" height="1"/><rect x="140" y="550" width="1" height="1"/><rect x="140" y="563" width="1" height="1"/><rect x="142" y="563" width="1" height="1"/><rect x="143" y="562" width="1" height="1"/><rect x="144" y="562" width="1" height="1"/><rect x="145" y="562" width="1" height="1"/><rect x="146" y="562" width="1" height="1"/><rect x="147" y="563" width="1" height="1"/><rect x="145" y="565" width="1" height="1"/><rect x="145" y="566" width="1" height="1"/><rect x="143" y="568" width="1" height="1"/><rect x="142" y="569" width="1" height="1"/><rect x="141" y="571" width="1" height="1"/><rect x="136" y="578" width="1" height="1"/><rect x="138" y="578" width="1" height="1"/><rect x="142" y="574" width="1" height="1"/><rect x="136" y="579" width="1" height="1"/><rect x="135" y="577" width="1" height="1"/><rect x="142" y="572" width="1" height="1"/><rect x="143" y="573" width="1" height="1"/><rect x="167" y="577" width="1" height="1"/><rect x="166" y="578" width="1" height="1"/><rect x="166" y="579" width="1" height="1"/><rect x="165" y="580" width="1" height="1"/><rect x="164" y="581" width="1" height="1"/><rect x="163" y="582" width="1" height="1"/><rect x="164" y="583" width="1" height="1"/><rect x="164" y="583" width="1" height="1"/><rect x="164" y="585" width="1" height="1"/><rect x="163" y="589" width="1" height="1"/><rect x="164" y="591" width="1" height="1"/><rect x="164" y="592" width="1" height="1"/><rect x="164" y="595" width="1" height="1"/><rect x="164" y="595" width="1" height="1"/><rect x="164" y="603" width="1" height="1"/><rect x="164" y="604" width="1" height="1"/><rect x="164" y="605" width="1" height="1"/><rect x="164" y="606" width="1" height="1"/><rect x="165" y="608" width="1" height="1"/><rect x="164" y="610" width="1" height="1"/><rect x="165" y="611" width="1" height="1"/><rect x="164" y="614" width="1" height="1"/><rect x="165" y="615" width="1" height="1"/><rect x="164" y="616" width="1" height="1"/><rect x="165" y="618" width="1" height="1"/><rect x="164" y="622" width="1" height="1"/><rect x="165" y="624" width="1" height="1"/><rect x="165" y="625" width="1" height="1"/><rect x="165" y="626" width="1" height="1"/><rect x="165" y="627" width="1" height="1"/><rect x="165" y="629" width="1" height="1"/><rect x="165" y="630" width="1" height="1"/><rect x="165" y="630" width="1" height="1"/><rect x="165" y="631" width="1" height="1"/><rect x="165" y="633" width="1" height="1"/><rect x="165" y="634" width="1" height="1"/><rect x="165" y="635" width="1" height="1"/><rect x="165" y="636" width="1" height="1"/><rect x="165" y="638" width="1" height="1"/><rect x="166" y="640" width="1" height="1"/><rect x="166" y="645" width="1" height="1"/><rect x="166" y="646" width="1" height="1"/><rect x="166" y="649" width="1" height="1"/><rect x="166" y="650" width="1" height="1"/><rect x="165" y="656" width="1" height="1"/><rect x="166" y="658" width="1" height="1"/><rect x="167" y="663" width="1" height="1"/><rect x="166" y="664" width="1" height="1"/><rect x="166" y="666" width="1" height="1"/><rect x="167" y="668" width="1" height="1"/><rect x="166" y="669" width="1" height="1"/><rect x="167" y="670" width="1" height="1"/><rect x="167" y="672" width="1" height="1"/><rect x="167" y="673" width="1" height="1"/><rect x="167" y="675" width="1" height="1"/><rect x="166" y="675" width="1" height="1"/><rect x="166" y="676" width="1" height="1"/><rect x="167" y="679" width="1" height="1"/><rect x="167" y="680" width="1" height="1"/><rect x="166" y="681" width="1" height="1"/><rect x="167" y="683" width="1" height="1"/><rect x="167" y="684" width="1" height="1"/><rect x="167" y="685" width="1" height="1"/><rect x="167" y="686" width="1" height="1"/><rect x="167" y="688" width="1" height="1"/><rect x="167" y="688" width="1" height="1"/><rect x="167" y="690" width="1" height="1"/><rect x="167" y="692" width="1" height="1"/><rect x="167" y="694" width="1" height="1"/><rect x="168" y="695" width="1" height="1"/><rect x="167" y="696" width="1" height="1"/><rect x="167" y="698" width="1" height="1"/><rect x="167" y="698" width="1" height="1"/><rect x="167" y="702" width="1" height="1"/><rect x="167" y="704" width="1" height="1"/><rect x="167" y="707" width="1" height="1"/><rect x="167" y="712" width="1" height="1"/><rect x="168" y="717" width="1" height="1"/><rect x="168" y="718" width="1" height="1"/><rect x="168" y="721" width="1" height="1"/><rect x="168" y="723" width="1" height="1"/><rect x="168" y="724" width="1" height="1"/><rect x="168" y="727" width="1" height="1"/><rect x="168" y="728" width="1" height="1"/><rect x="169" y="730" width="1" height="1"/><rect x="168" y="732" width="1" height="1"/><rect x="168" y="733" width="1" height="1"/><rect x="168" y="735" width="1" height="1"/><rect x="168" y="737" width="1" height="1"/><rect x="169" y="739" width="1" height="1"/><rect x="169" y="741" width="1" height="1"/><rect x="168" y="742" width="1" height="1"/><rect x="169" y="745" width="1" height="1"/><rect x="169" y="746" width="1" height="1"/><rect x="169" y="749" width="1" height="1"/><rect x="169" y="750" width="1" height="1"/><rect x="169" y="754" width="1" height="1"/><rect x="169" y="756" width="1" height="1"/><rect x="169" y="758" width="1" height="1"/><rect x="169" y="758" width="1" height="1"/><rect x="169" y="761" width="1" height="1"/><rect x="169" y="761" width="1" height="1"/><rect x="169" y="763" width="1" height="1"/><rect x="169" y="766" width="1" height="1"/><rect x="170" y="768" width="1" height="1"/><rect x="169" y="769" width="1" height="1"/><rect x="170" y="771" width="1" height="1"/><rect x="169" y="773" width="1" height="1"/><rect x="169" y="773" width="1" height="1"/><rect x="169" y="775" width="1" height="1"/><rect x="170" y="776" width="1" height="1"/><rect x="169" y="776" width="1" height="1"/><rect x="170" y="778" width="1" height="1"/><rect x="170" y="779" width="1" height="1"/><rect x="169" y="781" width="1" height="1"/><rect x="169" y="783" width="1" height="1"/><rect x="170" y="786" width="1" height="1"/><rect x="170" y="787" width="1" height="1"/><rect x="170" y="788" width="1" height="1"/><rect x="170" y="790" width="1" height="1"/><rect x="138" y="579" width="1" height="1"/><rect x="137" y="580" width="1" height="1"/><rect x="139" y="580" width="1" height="1"/><rect x="140" y="584" width="1" height="1"/><rect x="140" y="585" width="1" height="1"/><rect x="141" y="586" width="1" height="1"/><rect x="141" y="588" width="1" height="1"/><rect x="141" y="590" width="1" height="1"/><rect x="142" y="594" width="1" height="1"/><rect x="141" y="595" width="1" height="1"/><rect x="142" y="596" width="1" height="1"/><rect x="143" y="596" width="1" height="1"/><rect x="143" y="599" width="1" height="1"/><rect x="143" y="601" width="1" height="1"/><rect x="144" y="603" width="1" height="1"/><rect x="144" y="604" width="1" height="1"/><rect x="145" y="606" width="1" height="1"/><rect x="145" y="609" width="1" height="1"/><rect x="146" y="611" width="1" height="1"/><rect x="146" y="613" width="1" height="1"/><rect x="146" y="616" width="1" height="1"/><rect x="146" y="616" width="1" height="1"/><rect x="148" y="619" width="1" height="1"/><rect x="148" y="622" width="1" height="1"/><rect x="148" y="624" width="1" height="1"/><rect x="149" y="625" width="1" height="1"/><rect x="149" y="626" width="1" height="1"/><rect x="150" y="631" width="1" height="1"/><rect x="150" y="632" width="1" height="1"/><rect x="150" y="633" width="1" height="1"/><rect x="151" y="634" width="1" height="1"/><rect x="151" y="636" width="1" height="1"/><rect x="151" y="637" width="1" height="1"/><rect x="153" y="643" width="1" height="1"/><rect x="152" y="644" width="1" height="1"/><rect x="153" y="644" width="1" height="1"/><rect x="153" y="646" width="1" height="1"/><rect x="153" y="647" width="1" height="1"/><rect x="153" y="648" width="1" height="1"/><rect x="154" y="653" width="1" height="1"/><rect x="155" y="654" width="1" height="1"/><rect x="159" y="564" width="1" height="1"/><rect x="159" y="565" width="1" height="1"/><rect x="159" y="567" width="1" height="1"/><rect x="159" y="568" width="1" height="1"/><rect x="169" y="565" width="1" height="1"/><rect x="168" y="566" width="1" height="1"/><rect x="167" y="567" width="1" height="1"/><rect x="167" y="568" width="1" height="1"/><rect x="165" y="570" width="1" height="1"/><rect x="165" y="571" width="1" height="1"/><rect x="168" y="574" width="1" height="1"/><rect x="168" y="573" width="1" height="1"/><rect x="164" y="582" width="1" height="1"/><rect x="164" y="581" width="1" height="1"/><rect x="163" y="580" width="1" height="1"/><rect x="163" y="579" width="1" height="1"/><rect x="162" y="577" width="1" height="1"/><rect x="162" y="576" width="1" height="1"/><rect x="162" y="576" width="1" height="1"/><rect x="163" y="575" width="1" height="1"/><rect x="163" y="574" width="1" height="1"/><rect x="164" y="572" width="1" height="1"/><rect x="165" y="572" width="1" height="1"/><rect x="165" y="571" width="1" height="1"/><rect x="170" y="531" width="1" height="1"/><rect x="171" y="528" width="1" height="1"/><rect x="168" y="526" width="1" height="1"/><rect x="167" y="526" width="1" height="1"/><rect x="166" y="525" width="1" height="1"/><rect x="170" y="531" width="1" height="1"/><rect x="170" y="531" width="1" height="1"/><rect x="170" y="531" width="1" height="1"/><rect x="169" y="532" width="1" height="1"/><rect x="167" y="531" width="1" height="1"/><rect x="167" y="531" width="1" height="1"/><rect x="165" y="531" width="1" height="1"/><rect x="163" y="530" width="1" height="1"/><rect x="163" y="527" width="1" height="1"/><rect x="165" y="526" width="1" height="1"/><rect x="173" y="531" width="1" height="1"/><rect x="172" y="531" width="1" height="1"/><rect x="171" y="525" width="1" height="1"/><rect x="170" y="539" width="1" height="1"/><rect x="170" y="538" width="1" height="1"/><rect x="170" y="537" width="1" height="1"/><rect x="170" y="535" width="1" height="1"/><rect x="170" y="533" width="1" height="1"/><rect x="170" y="531" width="1" height="1"/><rect x="169" y="522" width="1" height="1"/><rect x="168" y="523" width="1" height="1"/><rect x="166" y="525" width="1" height="1"/><rect x="167" y="539" width="1" height="1"/><rect x="167" y="538" width="1" height="1"/><rect x="167" y="536" width="1" height="1"/><rect x="167" y="536" width="1" height="1"/><rect x="169" y="533" width="1" height="1"/><rect x="169" y="534" width="1" height="1"/><rect x="169" y="532" width="1" height="1"/><rect x="169" y="531" width="1" height="1"/><rect x="167" y="540" width="1" height="1"/><rect x="163" y="537" width="1" height="1"/><rect x="162" y="536" width="1" height="1"/><rect x="161" y="533" width="1" height="1"/><rect x="161" y="533" width="1" height="1"/><rect x="160" y="533" width="1" height="1"/><rect x="162" y="532" width="1" height="1"/><rect x="155" y="532" width="1" height="1"/><rect x="156" y="533" width="1" height="1"/><rect x="161" y="533" width="1" height="1"/><rect x="159" y="533" width="1" height="1"/><rect x="158" y="533" width="1" height="1"/><rect x="163" y="541" width="1" height="1"/><rect x="162" y="541" width="1" height="1"/><rect x="159" y="542" width="1" height="1"/><rect x="148" y="538" width="1" height="1"/><rect x="148" y="537" width="1" height="1"/><rect x="150" y="542" width="1" height="1"/><rect x="152" y="542" width="1" height="1"/><rect x="156" y="542" width="1" height="1"/><rect x="156" y="542" width="1" height="1"/><rect x="162" y="548" width="1" height="1"/><rect x="161" y="545" width="1" height="1"/><rect x="147" y="548" width="1" height="1"/><rect x="148" y="547" width="1" height="1"/><rect x="150" y="548" width="1" height="1"/><rect x="151" y="542" width="1" height="1"/><rect x="151" y="544" width="1" height="1"/><rect x="151" y="548" width="1" height="1"/><rect x="151" y="546" width="1" height="1"/><rect x="151" y="545" width="1" height="1"/><rect x="151" y="544" width="1" height="1"/><rect x="153" y="555" width="1" height="1"/><rect x="149" y="557" width="1" height="1"/><rect x="148" y="557" width="1" height="1"/><rect x="145" y="552" width="1" height="1"/><rect x="147" y="555" width="1" height="1"/><rect x="148" y="557" width="1" height="1"/><rect x="154" y="556" width="1" height="1"/><rect x="161" y="549" width="1" height="1"/><rect x="161" y="549" width="1" height="1"/><rect x="159" y="549" width="1" height="1"/><rect x="158" y="549" width="1" height="1"/><rect x="155" y="547" width="1" height="1"/><rect x="137" y="542" width="1" height="1"/><rect x="137" y="541" width="1" height="1"/><rect x="137" y="541" width="1" height="1"/><rect x="136" y="541" width="1" height="1"/><rect x="134" y="541" width="1" height="1"/><rect x="132" y="541" width="1" height="1"/><rect x="137" y="540" width="1" height="1"/><rect x="136" y="539" width="1" height="1"/><rect x="135" y="537" width="1" height="1"/><rect x="135" y="536" width="1" height="1"/><rect x="134" y="534" width="1" height="1"/><rect x="130" y="540" width="1" height="1"/><rect x="130" y="539" width="1" height="1"/><rect x="129" y="538" width="1" height="1"/><rect x="129" y="535" width="1" height="1"/><rect x="129" y="534" width="1" height="1"/><rect x="133" y="532" width="1" height="1"/><rect x="138" y="544" width="1" height="1"/><rect x="137" y="541" width="1" height="1"/><rect x="128" y="548" width="1" height="1"/><rect x="128" y="546" width="1" height="1"/><rect x="128" y="545" width="1" height="1"/><rect x="130" y="543" width="1" height="1"/><rect x="124" y="547" width="1" height="1"/><rect x="123" y="544" width="1" height="1"/><rect x="123" y="542" width="1" height="1"/><rect x="124" y="541" width="1" height="1"/><rect x="131" y="531" width="1" height="1"/><rect x="131" y="532" width="1" height="1"/><rect x="120" y="526" width="1" height="1"/><rect x="119" y="525" width="1" height="1"/><rect x="120" y="528" width="1" height="1"/><rect x="122" y="529" width="1" height="1"/><rect x="124" y="530" width="1" height="1"/><rect x="125" y="530" width="1" height="1"/><rect x="126" y="531" width="1" height="1"/><rect x="128" y="532" width="1" height="1"/><rect x="144" y="536" width="1" height="1"/><rect x="142" y="537" width="1" height="1"/><rect x="144" y="536" width="1" height="1"/><rect x="143" y="533" width="1" height="1"/><rect x="141" y="531" width="1" height="1"/><rect x="141" y="530" width="1" height="1"/><rect x="143" y="536" width="1" height="1"/><rect x="139" y="535" width="1" height="1"/><rect x="138" y="535" width="1" height="1"/><rect x="137" y="535" width="1" height="1"/><rect x="136" y="534" width="1" height="1"/><rect x="134" y="533" width="1" height="1"/><rect x="140" y="530" width="1" height="1"/><rect x="133" y="532" width="1" height="1"/><rect x="135" y="531" width="1" height="1"/><rect x="147" y="537" width="1" height="1"/><rect x="146" y="536" width="1" height="1"/><rect x="145" y="536" width="1" height="1"/><rect x="144" y="536" width="1" height="1"/><rect x="140" y="539" width="1" height="1"/><rect x="140" y="539" width="1" height="1"/><rect x="142" y="537" width="1" height="1"/><rect x="144" y="526" width="1" height="1"/><rect x="143" y="527" width="1" height="1"/><rect x="143" y="527" width="1" height="1"/><rect x="142" y="524" width="1" height="1"/><rect x="141" y="524" width="1" height="1"/><rect x="139" y="524" width="1" height="1"/><rect x="138" y="526" width="1" height="1"/><rect x="138" y="527" width="1" height="1"/><rect x="138" y="529" width="1" height="1"/><rect x="138" y="530" width="1" height="1"/><rect x="135" y="528" width="1" height="1"/><rect x="136" y="529" width="1" height="1"/><rect x="136" y="531" width="1" height="1"/><rect x="135" y="525" width="1" height="1"/><rect x="134" y="524" width="1" height="1"/><rect x="140" y="554" width="1" height="1"/><rect x="139" y="555" width="1" height="1"/><rect x="138" y="556" width="1" height="1"/><rect x="137" y="557" width="1" height="1"/><rect x="142" y="555" width="1" height="1"/><rect x="143" y="556" width="1" height="1"/><rect x="144" y="556" width="1" height="1"/><rect x="146" y="557" width="1" height="1"/><rect x="146" y="557" width="1" height="1"/><rect x="148" y="558" width="1" height="1"/><rect x="139" y="557" width="1" height="1"/><rect x="142" y="559" width="1" height="1"/><rect x="144" y="559" width="1" height="1"/><rect x="146" y="559" width="1" height="1"/><rect x="147" y="559" width="1" height="1"/><rect x="138" y="553" width="1" height="1"/><rect x="139" y="554" width="1" height="1"/><rect x="140" y="552" width="1" height="1"/><rect x="136" y="556" width="1" height="1"/><rect x="148" y="558" width="1" height="1"/><rect x="148" y="565" width="1" height="1"/><rect x="151" y="568" width="1" height="1"/><rect x="152" y="569" width="1" height="1"/><rect x="155" y="570" width="1" height="1"/><rect x="155" y="569" width="1" height="1"/><rect x="156" y="569" width="1" height="1"/><rect x="151" y="568" width="1" height="1"/><rect x="150" y="570" width="1" height="1"/><rect x="147" y="573" width="1" height="1"/><rect x="142" y="573" width="1" height="1"/><rect x="144" y="574" width="1" height="1"/><rect x="145" y="574" width="1" height="1"/><rect x="147" y="572" width="1" height="1"/><rect x="145" y="574" width="1" height="1"/><rect x="144" y="576" width="1" height="1"/><rect x="145" y="574" width="1" height="1"/><rect x="155" y="574" width="1" height="1"/><rect x="158" y="577" width="1" height="1"/><rect x="159" y="577" width="1" height="1"/><rect x="159" y="577" width="1" height="1"/><rect x="159" y="578" width="1" height="1"/><rect x="158" y="580" width="1" height="1"/><rect x="157" y="580" width="1" height="1"/><rect x="157" y="582" width="1" height="1"/><rect x="156" y="583" width="1" height="1"/><rect x="157" y="584" width="1" height="1"/><rect x="155" y="587" width="1" height="1"/><rect x="155" y="588" width="1" height="1"/><rect x="154" y="590" width="1" height="1"/><rect x="154" y="592" width="1" height="1"/><rect x="153" y="594" width="1" height="1"/><rect x="152" y="579" width="1" height="1"/><rect x="152" y="581" width="1" height="1"/><rect x="152" y="584" width="1" height="1"/><rect x="155" y="572" width="1" height="1"/><rect x="156" y="574" width="1" height="1"/><rect x="162" y="576" width="1" height="1"/><rect x="161" y="576" width="1" height="1"/><rect x="160" y="576" width="1" height="1"/><rect x="148" y="573" width="1" height="1"/><rect x="148" y="574" width="1" height="1"/><rect x="150" y="576" width="1" height="1"/><rect x="151" y="577" width="1" height="1"/><rect x="152" y="578" width="1" height="1"/><rect x="145" y="576" width="1" height="1"/><rect x="146" y="578" width="1" height="1"/><rect x="148" y="579" width="1" height="1"/><rect x="148" y="581" width="1" height="1"/><rect x="150" y="582" width="1" height="1"/><rect x="152" y="584" width="1" height="1"/><rect x="120" y="538" width="1" height="1"/><rect x="119" y="537" width="1" height="1"/><rect x="119" y="536" width="1" height="1"/><rect x="122" y="539" width="1" height="1"/><rect x="122" y="539" width="1" height="1"/><rect x="119" y="535" width="1" height="1"/><rect x="120" y="532" width="1" height="1"/><rect x="121" y="533" width="1" height="1"/><rect x="122" y="534" width="1" height="1"/><rect x="124" y="534" width="1" height="1"/><rect x="124" y="535" width="1" height="1"/><rect x="115" y="543" width="1" height="1"/><rect x="116" y="543" width="1" height="1"/><rect x="116" y="542" width="1" height="1"/><rect x="117" y="541" width="1" height="1"/><rect x="118" y="540" width="1" height="1"/><rect x="119" y="539" width="1" height="1"/><rect x="119" y="538" width="1" height="1"/><rect x="116" y="537" width="1" height="1"/><rect x="124" y="542" width="1" height="1"/><rect x="123" y="540" width="1" height="1"/><rect x="122" y="539" width="1" height="1"/><rect x="129" y="534" width="1" height="1"/><rect x="127" y="534" width="1" height="1"/><rect x="124" y="535" width="1" height="1"/><rect x="114" y="533" width="1" height="1"/><rect x="116" y="533" width="1" height="1"/><rect x="118" y="534" width="1" height="1"/><rect x="120" y="534" width="1" height="1"/><rect x="121" y="529" width="1" height="1"/><rect x="150" y="519" width="1" height="1"/><rect x="141" y="524" width="1" height="1"/><rect x="142" y="522" width="1" height="1"/><rect x="141" y="520" width="1" height="1"/><rect x="149" y="519" width="1" height="1"/><rect x="146" y="520" width="1" height="1"/><rect x="144" y="520" width="1" height="1"/><rect x="142" y="521" width="1" height="1"/><rect x="142" y="521" width="1" height="1"/><rect x="156" y="545" width="1" height="1"/><rect x="158" y="546" width="1" height="1"/><rect x="156" y="546" width="1" height="1"/><rect x="155" y="545" width="1" height="1"/><rect x="155" y="548" width="1" height="1"/><rect x="158" y="546" width="1" height="1"/><rect x="156" y="547" width="1" height="1"/><rect x="155" y="548" width="1" height="1"/><rect x="156" y="542" width="1" height="1"/><rect x="155" y="545" width="1" height="1"/><rect x="161" y="545" width="1" height="1"/><rect x="159" y="546" width="1" height="1"/><rect x="154" y="545" width="1" height="1"/><rect x="155" y="546" width="1" height="1"/><rect x="155" y="547" width="1" height="1"/><rect x="137" y="516" width="1" height="1"/><rect x="136" y="514" width="1" height="1"/><rect x="135" y="513" width="1" height="1"/><rect x="134" y="512" width="1" height="1"/><rect x="133" y="510" width="1" height="1"/><rect x="140" y="520" width="1" height="1"/><rect x="140" y="519" width="1" height="1"/><rect x="140" y="518" width="1" height="1"/><rect x="140" y="516" width="1" height="1"/><rect x="141" y="516" width="1" height="1"/><rect x="140" y="515" width="1" height="1"/><rect x="138" y="511" width="1" height="1"/><rect x="138" y="510" width="1" height="1"/><rect x="134" y="510" width="1" height="1"/><rect x="134" y="508" width="1" height="1"/><rect x="135" y="507" width="1" height="1"/><rect x="135" y="506" width="1" height="1"/><rect x="135" y="506" width="1" height="1"/><rect x="136" y="507" width="1" height="1"/><rect x="137" y="508" width="1" height="1"/><rect x="138" y="509" width="1" height="1"/><rect x="130" y="515" width="1" height="1"/><rect x="132" y="512" width="1" height="1"/><rect x="134" y="521" width="1" height="1"/><rect x="136" y="521" width="1" height="1"/><rect x="139" y="519" width="1" height="1"/><rect x="141" y="522" width="1" height="1"/><rect x="141" y="520" width="1" height="1"/><rect x="143" y="512" width="1" height="1"/><rect x="142" y="512" width="1" height="1"/><rect x="144" y="514" width="1" height="1"/><rect x="146" y="511" width="1" height="1"/><rect x="149" y="519" width="1" height="1"/><rect x="148" y="517" width="1" height="1"/><rect x="147" y="516" width="1" height="1"/><rect x="144" y="515" width="1" height="1"/><rect x="144" y="515" width="1" height="1"/><rect x="141" y="516" width="1" height="1"/><rect x="142" y="515" width="1" height="1"/><rect x="141" y="511" width="1" height="1"/><rect x="142" y="511" width="1" height="1"/><rect x="147" y="515" width="1" height="1"/><rect x="147" y="513" width="1" height="1"/><rect x="148" y="510" width="1" height="1"/><rect x="147" y="511" width="1" height="1"/></g><g fill="#fff" shape-rendering="crispEdges"><rect x="163" y="518" width="1" height="1"/><rect x="125" y="570" width="1" height="1"/><rect x="174" y="533" width="1" height="1"/><rect x="162" y="567" width="2" height="1"/><rect x="146" y="544" width="1" height="1"/><rect x="138" y="546" width="1" height="1"/><rect x="132" y="545" width="1" height="1"/><rect x="141" y="551" width="1" height="1"/><rect x="133" y="520" width="1" height="1"/><rect x="146" y="528" width="2" height="1"/><rect x="133" y="539" width="2" height="1"/><rect x="144" y="560" width="1" height="1"/><rect x="142" y="536" width="1" height="1"/><rect x="137" y="562" width="1" height="1"/><rect x="173" y="541" width="1" height="1"/><rect x="137" y="513" width="1" height="1"/><rect x="137" y="514" width="1" height="1"/><rect x="136" y="543" width="1" height="1"/><rect x="122" y="525" width="1" height="1"/><rect x="157" y="571" width="2" height="1"/><rect x="133" y="522" width="2" height="1"/><rect x="127" y="522" width="1" height="1"/><rect x="169" y="568" width="1" height="1"/><rect x="165" y="571" width="1" height="1"/><rect x="127" y="563" width="2" height="1"/><rect x="123" y="572" width="1" height="1"/><rect x="139" y="551" width="2" height="1"/><rect x="139" y="524" width="1" height="1"/><rect x="138" y="562" width="1" height="1"/><rect x="155" y="553" width="1" height="1"/><rect x="117" y="557" width="1" height="1"/><rect x="122" y="559" width="1" height="1"/><rect x="143" y="563" width="1" height="1"/><rect x="118" y="533" width="1" height="1"/><rect x="143" y="528" width="1" height="1"/><rect x="174" y="572" width="2" height="1"/><rect x="123" y="577" width="1" height="1"/><rect x="166" y="528" width="1" height="1"/><rect x="153" y="546" width="1" height="1"/><rect x="143" y="559" width="1" height="1"/><rect x="119" y="537" width="2" height="1"/><rect x="152" y="563" width="1" height="1"/><rect x="171" y="523" width="2" height="1"/><rect x="160" y="561" width="1" height="1"/><rect x="143" y="526" width="1" height="1"/><rect x="121" y="518" width="1" height="1"/><rect x="141" y="546" width="1" height="1"/><rect x="136" y="536" width="1" height="1"/><rect x="146" y="545" width="1" height="1"/><rect x="166" y="526" width="1" height="1"/><rect x="165" y="552" width="2" height="1"/><rect x="160" y="553" width="1" height="1"/><rect x="137" y="577" width="1" height="1"/><rect x="135" y="568" width="1" height="1"/><rect x="140" y="575" width="1" height="1"/><rect x="139" y="523" width="1" height="1"/><rect x="147" y="536" width="1" height="1"/><rect x="126" y="558" width="1" height="1"/><rect x="163" y="516" width="1" height="1"/><rect x="167" y="533" width="2" height="1"/></g></g>
<path d="M250.3,488.9 C252,494 253.5,498 255,502 C256.5,505.5 257.5,508.5 258.8,511.4 C260.5,515 262.5,519 264.5,522.7 C266.5,526.5 268.5,530 270.1,534 C271,537 272,540 272.9,543.4" fill="none" stroke="#000" stroke-width="1.15"/>
<path d="M254.1,487 C255.5,491 256.5,494.5 257.9,498.3 C259,502 260.5,506 261.6,509.5" fill="none" stroke="#000" stroke-width="1.15"/>
<path d="M266.3,519 C267.5,522.5 268.5,526 270.1,530.2 C271.5,534 274,539 275.7,543.4" fill="none" stroke="#000" stroke-width="1.15"/>
<path d="M339.7,465.3 C340.5,470 341.6,475 341.6,479.5 C341.5,483 340.5,486 339.7,488.9 C338.5,489.3 337,489.6 335.9,489.8" fill="none" stroke="#000" stroke-width="1.15"/>
<path d="M342.5,459.7 C343.5,464 344.4,469 344.4,473.8 C344.3,480 342.5,486 342.5,490.7 C343,494 344,497.5 345.3,500.1 C347.5,503 350,506 352.8,508.6" fill="none" stroke="#000" stroke-width="1.15"/>
<path d="M337.8,492.6 C339,494 340.5,495 341.6,496.4 C344,500 346.5,505 349.1,509.5" fill="none" stroke="#000" stroke-width="1.15"/>
<path d="M261.6,509.5 C261.8,506 262,503 262.6,500.1 C263.5,498 265,496 266.3,494.5 C268.5,492.5 271,491 275,489.5 L285.1,520.8 C281,521.5 277,522 273.9,521.8 C271,521 268.5,520 266.3,519" fill="#fff" stroke="#000" stroke-width="1.1"/>
<path d="M313.3,484.2 C317,484.2 321,484.5 324.6,485.1 C328.5,486 332,488 335.9,489.8 L337.8,492.6 C336,492.6 334,492.6 332.2,492.6 C329,493.3 325.5,494 322.8,495.4 C320.5,497 318.5,498.5 316.2,500.1" fill="#fff" stroke="#000" stroke-width="1.1"/>
<g fill="#000" shape-rendering="crispEdges"><rect x="267" y="501" width="1" height="1"/><rect x="268" y="516" width="1" height="1"/><rect x="268" y="501" width="1" height="1"/><rect x="265" y="504" width="1" height="1"/><rect x="270" y="510" width="1" height="1"/><rect x="269" y="515" width="1" height="1"/><rect x="269" y="517" width="1" height="1"/><rect x="266" y="511" width="1" height="1"/><rect x="269" y="515" width="1" height="1"/><rect x="264" y="505" width="1" height="1"/><rect x="266" y="504" width="1" height="1"/><rect x="272" y="516" width="1" height="1"/><rect x="271" y="517" width="1" height="1"/><rect x="269" y="515" width="1" height="1"/></g><g fill="#000" shape-rendering="crispEdges"><rect x="326" y="487" width="1" height="1"/><rect x="334" y="490" width="1" height="1"/><rect x="330" y="487" width="1" height="1"/><rect x="323" y="493" width="1" height="1"/><rect x="323" y="491" width="1" height="1"/><rect x="330" y="492" width="1" height="1"/><rect x="329" y="487" width="1" height="1"/><rect x="333" y="487" width="1" height="1"/><rect x="335" y="494" width="1" height="1"/><rect x="322" y="491" width="1" height="1"/><rect x="325" y="487" width="1" height="1"/><rect x="334" y="490" width="1" height="1"/><rect x="325" y="487" width="1" height="1"/><rect x="326" y="491" width="1" height="1"/></g>
<defs><clipPath id="gzclip"><path d="M273.9,490.7 C274,487 275,484.5 277.6,483.2 C281,481.5 284.5,480.5 288,480.4 L293.6,492.6 L296.4,479.5 C297.5,477.5 298.5,476.8 300.2,476.6 C304,476.2 308,476.5 311.5,477.6 C313.5,479.5 314.8,482 315.2,485.1 C316.5,490.5 317,496 317.1,502 C317,507 316.5,511.5 315.2,515.2 C312.5,518.5 309,520.5 305.8,521.8 C301.5,523 297,523.8 292.7,523.6 C290.5,523 288.8,522 287,520.8 C283,517 280,512.5 277.6,507.7 C275.5,502 274.3,496 273.9,490.7 Z"/></clipPath></defs>
<path d="M273.9,490.7 C274,487 275,484.5 277.6,483.2 C281,481.5 284.5,480.5 288,480.4 L293.6,492.6 L296.4,479.5 C297.5,477.5 298.5,476.8 300.2,476.6 C304,476.2 308,476.5 311.5,477.6 C313.5,479.5 314.8,482 315.2,485.1 C316.5,490.5 317,496 317.1,502 C317,507 316.5,511.5 315.2,515.2 C312.5,518.5 309,520.5 305.8,521.8 C301.5,523 297,523.8 292.7,523.6 C290.5,523 288.8,522 287,520.8 C283,517 280,512.5 277.6,507.7 C275.5,502 274.3,496 273.9,490.7 Z" fill="#000"/>
<g clip-path="url(#gzclip)"><g fill="#fff" shape-rendering="crispEdges"><rect x="289" y="481" width="1" height="1"/><rect x="301" y="483" width="1" height="1"/><rect x="287" y="491" width="1" height="1"/><rect x="316" y="498" width="1" height="1"/><rect x="313" y="514" width="1" height="1"/><rect x="288" y="521" width="1" height="1"/><rect x="300" y="518" width="2" height="1"/><rect x="297" y="495" width="2" height="1"/><rect x="314" y="488" width="2" height="1"/><rect x="314" y="501" width="1" height="1"/><rect x="288" y="480" width="1" height="1"/><rect x="293" y="514" width="1" height="1"/><rect x="289" y="500" width="2" height="1"/><rect x="284" y="494" width="1" height="1"/><rect x="297" y="485" width="2" height="1"/><rect x="315" y="487" width="1" height="1"/><rect x="305" y="494" width="1" height="1"/><rect x="286" y="507" width="1" height="1"/><rect x="290" y="504" width="2" height="1"/><rect x="293" y="478" width="1" height="1"/><rect x="308" y="484" width="1" height="1"/><rect x="307" y="491" width="1" height="1"/><rect x="293" y="499" width="1" height="1"/><rect x="310" y="485" width="2" height="1"/><rect x="312" y="492" width="1" height="1"/><rect x="286" y="482" width="2" height="1"/><rect x="294" y="502" width="1" height="1"/><rect x="296" y="516" width="2" height="1"/><rect x="293" y="518" width="1" height="1"/><rect x="293" y="516" width="1" height="1"/><rect x="305" y="488" width="1" height="1"/><rect x="289" y="483" width="1" height="1"/><rect x="281" y="492" width="1" height="1"/><rect x="308" y="514" width="1" height="1"/><rect x="311" y="480" width="1" height="1"/><rect x="278" y="489" width="1" height="1"/><rect x="295" y="489" width="1" height="1"/><rect x="284" y="489" width="1" height="1"/><rect x="306" y="517" width="2" height="1"/><rect x="306" y="498" width="1" height="1"/><rect x="316" y="487" width="2" height="1"/><rect x="306" y="497" width="1" height="1"/><rect x="288" y="481" width="2" height="1"/><rect x="293" y="513" width="2" height="1"/><rect x="282" y="496" width="2" height="1"/><rect x="302" y="503" width="2" height="1"/><rect x="312" y="523" width="2" height="1"/><rect x="303" y="518" width="1" height="1"/><rect x="276" y="506" width="2" height="1"/><rect x="294" y="484" width="1" height="1"/><rect x="304" y="511" width="1" height="1"/><rect x="301" y="508" width="1" height="1"/><rect x="291" y="510" width="1" height="1"/><rect x="278" y="480" width="1" height="1"/><rect x="277" y="491" width="1" height="1"/><rect x="279" y="507" width="1" height="1"/><rect x="307" y="519" width="1" height="1"/><rect x="291" y="501" width="1" height="1"/><rect x="280" y="499" width="2" height="1"/><rect x="291" y="498" width="2" height="1"/><rect x="315" y="492" width="1" height="1"/><rect x="296" y="503" width="2" height="1"/><rect x="277" y="498" width="1" height="1"/><rect x="293" y="512" width="1" height="1"/><rect x="281" y="501" width="1" height="1"/><rect x="313" y="518" width="2" height="1"/><rect x="298" y="497" width="1" height="1"/><rect x="293" y="519" width="1" height="1"/><rect x="293" y="512" width="1" height="1"/><rect x="292" y="501" width="1" height="1"/></g></g>
<path d="M287.4,426 C287,432 286.9,440 287.1,447 C288,452 290,456 291.5,461 C292.5,470 293,482 293.5,491" fill="none" stroke="#000" stroke-width="3.0"/>
<path d="M287.4,426 C287,432 286.9,440 287.1,447 C288,452 290,456 291.5,461 C292.5,470 293,482 293.5,491" fill="none" stroke="#fff" stroke-width="1.2"/>
<ellipse cx="285" cy="414.2" rx="7.9" ry="10.4" fill="#000"/>
<path d="M279.8,420.5 C281,417 289,417 290.3,419.5 C290,422.5 289,424.5 287.8,427 C285,426 281,424 279.8,420.5 Z" fill="#fff" stroke="#000" stroke-width="1"/>
<g fill="#000" shape-rendering="crispEdges"><rect x="199" y="19" width="1" height="1"/><rect x="108" y="49" width="1" height="1"/><rect x="102" y="139" width="1" height="1"/><rect x="5" y="163" width="1" height="1"/><rect x="246" y="278" width="1" height="1"/><rect x="138" y="321" width="1" height="1"/><rect x="422" y="2" width="1" height="1"/><rect x="382" y="15" width="1" height="1"/><rect x="415" y="22" width="1" height="1"/><rect x="428" y="20" width="1" height="1"/><rect x="500" y="25" width="1" height="1"/><rect x="598" y="35" width="1" height="1"/><rect x="588" y="38" width="1" height="1"/><rect x="508" y="58" width="1" height="1"/><rect x="352" y="62" width="1" height="1"/><rect x="328" y="78" width="1" height="1"/><rect x="618" y="115" width="1" height="1"/><rect x="632" y="125" width="1" height="1"/><rect x="632" y="130" width="1" height="1"/><rect x="632" y="145" width="1" height="1"/><rect x="632" y="150" width="1" height="1"/><rect x="632" y="172" width="1" height="1"/><rect x="632" y="182" width="1" height="1"/><rect x="380" y="232" width="1" height="1"/><rect x="382" y="365" width="1" height="1"/><rect x="360" y="420" width="1" height="1"/><rect x="633" y="624" width="1" height="1"/><rect x="633" y="666" width="1" height="1"/><rect x="633" y="675" width="1" height="1"/><rect x="633" y="680" width="1" height="1"/><rect x="633" y="685" width="1" height="1"/><rect x="633" y="692" width="1" height="1"/><rect x="633" y="814" width="1" height="1"/><rect x="20" y="720" width="1" height="1"/><rect x="196" y="718" width="1" height="1"/><rect x="231" y="774" width="1" height="1"/><rect x="113" y="820" width="1" height="1"/><rect x="342" y="524" width="1" height="1"/><rect x="530" y="614" width="1" height="1"/><rect x="545" y="656" width="1" height="1"/><rect x="538" y="670" width="1" height="1"/><rect x="430" y="734" width="1" height="1"/><rect x="438" y="732" width="1" height="1"/><rect x="502" y="812" width="1" height="1"/><rect x="632" y="524" width="1" height="1"/><rect x="632" y="623" width="1" height="1"/><rect x="314" y="412" width="1" height="1"/><rect x="268" y="479" width="1" height="1"/><rect x="211" y="446" width="1" height="1"/><rect x="343" y="526" width="1" height="1"/><rect x="132" y="644" width="1" height="1"/></g>
<g font-family="Liberation Sans, sans-serif" fill="#000">
<text x="344.0" y="101" textLength="81.5" lengthAdjust="spacingAndGlyphs" font-size="16.5" letter-spacing="0.6" stroke="#fff" stroke-width="0.35">ruptured</text>
<text x="343.4" y="120.7" textLength="107.4" lengthAdjust="spacingAndGlyphs" font-size="16.5" letter-spacing="0.6" stroke="#fff" stroke-width="0.35">sporɑngium</text>
<text x="173.6" y="221.9" textLength="84.4" lengthAdjust="spacingAndGlyphs" font-size="16.5" letter-spacing="0.6" stroke="#fff" stroke-width="0.35">sporɑngiɑ</text>
<text x="314.6" y="240.7" textLength="60.9" lengthAdjust="spacingAndGlyphs" font-size="16.5" letter-spacing="0.6" stroke="#fff" stroke-width="0.35">spores</text>
<text x="449.4" y="307.6" textLength="62.9" lengthAdjust="spacingAndGlyphs" font-size="15" letter-spacing="0.6" stroke="#fff" stroke-width="0.35">hyphɑe</text>
<text x="386.2" y="556.6" textLength="105.2" lengthAdjust="spacingAndGlyphs" font-size="16.5" letter-spacing="0.6" stroke="#fff" stroke-width="0.35">conjugɑtion</text>
<text x="131.9" y="598.4" textLength="89.6" lengthAdjust="spacingAndGlyphs" font-size="16.5" letter-spacing="0.6" stroke="#fff" stroke-width="0.35">zygospore</text>
</g>
<g fill="#000"><circle cx="299.7" cy="220.7" r="2.4"/><circle cx="313" cy="217.5" r="2.4"/><circle cx="302.5" cy="237.9" r="2.4"/></g>
</svg></body></html>
